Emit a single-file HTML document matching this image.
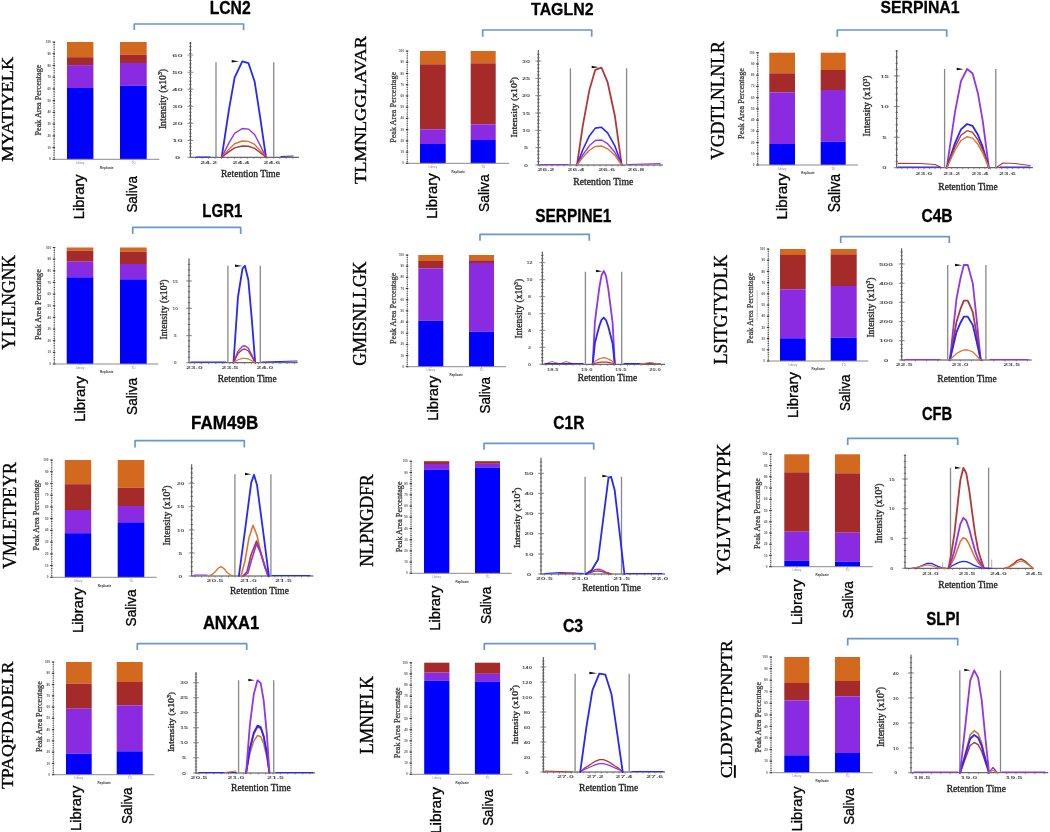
<!DOCTYPE html>
<html><head><meta charset="utf-8"><style>
html,body{margin:0;padding:0;background:#fff;}
svg{display:block;filter:blur(0.35px);}
</style></head><body>
<svg width="1050" height="832" viewBox="0 0 1050 832">
<rect width="1050" height="832" fill="#fff"/>
<text transform="translate(12.8,161.81) rotate(-90)" font-family="'Liberation Serif', serif" font-size="17.33" font-weight="normal" fill="#000" textLength="105.09" lengthAdjust="spacingAndGlyphs"  stroke="#000" stroke-width="0.35">MYATIYELK</text>
<rect x="67" y="42" width="26.4" height="15.2" fill="#D2691E"/>
<rect x="67" y="57.2" width="26.4" height="7.9" fill="#A52A2A"/>
<rect x="67" y="65.1" width="26.4" height="22.9" fill="#8A2BE2"/>
<rect x="67" y="88" width="26.4" height="71.3" fill="#0000FF"/>
<rect x="120" y="42" width="26.7" height="12.8" fill="#D2691E"/>
<rect x="120" y="54.8" width="26.7" height="8.2" fill="#A52A2A"/>
<rect x="120" y="63" width="26.7" height="22.6" fill="#8A2BE2"/>
<rect x="120" y="85.6" width="26.7" height="73.7" fill="#0000FF"/>
<line x1="54.1" y1="42" x2="54.1" y2="159.3" stroke="#999" stroke-width="0.7" />
<line x1="54.1" y1="159.3" x2="159.3" y2="159.3" stroke="#8a8a8a" stroke-width="1" />
<line x1="54.1" y1="42" x2="54.1" y2="159.3" stroke="#444" stroke-width="1.3" stroke-dasharray="0.8 1.55"/>
<line x1="52.6" y1="159.3" x2="55.1" y2="159.3" stroke="#333" stroke-width="1.1" />
<text x="49.1" y="160.4" font-family="'Liberation Sans', sans-serif" font-size="3" font-weight="bold" fill="#555" text-anchor="start"  textLength="1.7" lengthAdjust="spacingAndGlyphs">0</text>
<line x1="52.6" y1="147.57" x2="55.1" y2="147.57" stroke="#333" stroke-width="1.1" />
<text x="47.4" y="148.67" font-family="'Liberation Sans', sans-serif" font-size="3" font-weight="bold" fill="#555" text-anchor="start"  textLength="3.4" lengthAdjust="spacingAndGlyphs">10</text>
<line x1="52.6" y1="135.84" x2="55.1" y2="135.84" stroke="#333" stroke-width="1.1" />
<text x="47.4" y="136.94" font-family="'Liberation Sans', sans-serif" font-size="3" font-weight="bold" fill="#555" text-anchor="start"  textLength="3.4" lengthAdjust="spacingAndGlyphs">20</text>
<line x1="52.6" y1="124.11" x2="55.1" y2="124.11" stroke="#333" stroke-width="1.1" />
<text x="47.4" y="125.21" font-family="'Liberation Sans', sans-serif" font-size="3" font-weight="bold" fill="#555" text-anchor="start"  textLength="3.4" lengthAdjust="spacingAndGlyphs">30</text>
<line x1="52.6" y1="112.38" x2="55.1" y2="112.38" stroke="#333" stroke-width="1.1" />
<text x="47.4" y="113.48" font-family="'Liberation Sans', sans-serif" font-size="3" font-weight="bold" fill="#555" text-anchor="start"  textLength="3.4" lengthAdjust="spacingAndGlyphs">40</text>
<line x1="52.6" y1="100.65" x2="55.1" y2="100.65" stroke="#333" stroke-width="1.1" />
<text x="47.4" y="101.75" font-family="'Liberation Sans', sans-serif" font-size="3" font-weight="bold" fill="#555" text-anchor="start"  textLength="3.4" lengthAdjust="spacingAndGlyphs">50</text>
<line x1="52.6" y1="88.92" x2="55.1" y2="88.92" stroke="#333" stroke-width="1.1" />
<text x="47.4" y="90.02" font-family="'Liberation Sans', sans-serif" font-size="3" font-weight="bold" fill="#555" text-anchor="start"  textLength="3.4" lengthAdjust="spacingAndGlyphs">60</text>
<line x1="52.6" y1="77.19" x2="55.1" y2="77.19" stroke="#333" stroke-width="1.1" />
<text x="47.4" y="78.29" font-family="'Liberation Sans', sans-serif" font-size="3" font-weight="bold" fill="#555" text-anchor="start"  textLength="3.4" lengthAdjust="spacingAndGlyphs">70</text>
<line x1="52.6" y1="65.46" x2="55.1" y2="65.46" stroke="#333" stroke-width="1.1" />
<text x="47.4" y="66.56" font-family="'Liberation Sans', sans-serif" font-size="3" font-weight="bold" fill="#555" text-anchor="start"  textLength="3.4" lengthAdjust="spacingAndGlyphs">80</text>
<line x1="52.6" y1="53.73" x2="55.1" y2="53.73" stroke="#333" stroke-width="1.1" />
<text x="47.4" y="54.83" font-family="'Liberation Sans', sans-serif" font-size="3" font-weight="bold" fill="#555" text-anchor="start"  textLength="3.4" lengthAdjust="spacingAndGlyphs">90</text>
<line x1="52.6" y1="42" x2="55.1" y2="42" stroke="#333" stroke-width="1.1" />
<text x="45.7" y="43.1" font-family="'Liberation Sans', sans-serif" font-size="3" font-weight="bold" fill="#555" text-anchor="start"  textLength="5.1" lengthAdjust="spacingAndGlyphs">100</text>
<text x="75.9" y="163.9" font-family="'Liberation Sans', sans-serif" font-size="3" font-weight="normal" fill="#888" text-anchor="start"  textLength="8.6" lengthAdjust="spacingAndGlyphs">Library</text>
<text x="131.35" y="163.9" font-family="'Liberation Sans', sans-serif" font-size="3" font-weight="normal" fill="#888" text-anchor="start"  textLength="4" lengthAdjust="spacingAndGlyphs">T0</text>
<text x="100.1" y="168.6" font-family="'Liberation Sans', sans-serif" font-size="3.3" font-weight="bold" fill="#333" text-anchor="start"  textLength="13.3" lengthAdjust="spacingAndGlyphs">Replicate</text>
<line x1="80.2" y1="159.3" x2="80.2" y2="160.5" stroke="#888" stroke-width="0.6" />
<line x1="133.35" y1="159.3" x2="133.35" y2="160.5" stroke="#888" stroke-width="0.6" />
<text transform="translate(40.6,135.5) rotate(-90)" font-family="'Liberation Serif', serif" font-size="7.67" font-weight="normal" fill="#333" textLength="70.9" lengthAdjust="spacingAndGlyphs"  stroke="#333" stroke-width="0.25">Peak Area Percentage</text>
<text transform="translate(84.4,219.2) rotate(-90)" font-family="'Liberation Sans', sans-serif" font-size="14.26" font-weight="normal" fill="#000" textLength="44.83" lengthAdjust="spacingAndGlyphs"  stroke="#000" stroke-width="0.3">Library</text>
<text transform="translate(137,212.61) rotate(-90)" font-family="'Liberation Sans', sans-serif" font-size="15.17" font-weight="normal" fill="#000" textLength="36.61" lengthAdjust="spacingAndGlyphs"  stroke="#000" stroke-width="0.3">Saliva</text>
<line x1="190.4" y1="42" x2="190.4" y2="157.3" stroke="#444" stroke-width="1" />
<line x1="190.4" y1="157.3" x2="299" y2="157.3" stroke="#444" stroke-width="1" />
<line x1="189.2" y1="157.3" x2="191.6" y2="157.3" stroke="#555" stroke-width="0.8" />
<line x1="189.2" y1="153.84" x2="191.6" y2="153.84" stroke="#555" stroke-width="0.8" />
<line x1="189.2" y1="150.38" x2="191.6" y2="150.38" stroke="#555" stroke-width="0.8" />
<line x1="189.2" y1="146.92" x2="191.6" y2="146.92" stroke="#555" stroke-width="0.8" />
<line x1="189.2" y1="143.46" x2="191.6" y2="143.46" stroke="#555" stroke-width="0.8" />
<line x1="189.2" y1="140" x2="191.6" y2="140" stroke="#555" stroke-width="0.8" />
<line x1="189.2" y1="136.54" x2="191.6" y2="136.54" stroke="#555" stroke-width="0.8" />
<line x1="189.2" y1="133.08" x2="191.6" y2="133.08" stroke="#555" stroke-width="0.8" />
<line x1="189.2" y1="129.62" x2="191.6" y2="129.62" stroke="#555" stroke-width="0.8" />
<line x1="189.2" y1="126.16" x2="191.6" y2="126.16" stroke="#555" stroke-width="0.8" />
<line x1="189.2" y1="122.7" x2="191.6" y2="122.7" stroke="#555" stroke-width="0.8" />
<line x1="189.2" y1="119.24" x2="191.6" y2="119.24" stroke="#555" stroke-width="0.8" />
<line x1="189.2" y1="115.78" x2="191.6" y2="115.78" stroke="#555" stroke-width="0.8" />
<line x1="189.2" y1="112.32" x2="191.6" y2="112.32" stroke="#555" stroke-width="0.8" />
<line x1="189.2" y1="108.86" x2="191.6" y2="108.86" stroke="#555" stroke-width="0.8" />
<line x1="189.2" y1="105.4" x2="191.6" y2="105.4" stroke="#555" stroke-width="0.8" />
<line x1="189.2" y1="101.94" x2="191.6" y2="101.94" stroke="#555" stroke-width="0.8" />
<line x1="189.2" y1="98.48" x2="191.6" y2="98.48" stroke="#555" stroke-width="0.8" />
<line x1="189.2" y1="95.02" x2="191.6" y2="95.02" stroke="#555" stroke-width="0.8" />
<line x1="189.2" y1="91.56" x2="191.6" y2="91.56" stroke="#555" stroke-width="0.8" />
<line x1="189.2" y1="88.1" x2="191.6" y2="88.1" stroke="#555" stroke-width="0.8" />
<line x1="189.2" y1="84.64" x2="191.6" y2="84.64" stroke="#555" stroke-width="0.8" />
<line x1="189.2" y1="81.18" x2="191.6" y2="81.18" stroke="#555" stroke-width="0.8" />
<line x1="189.2" y1="77.72" x2="191.6" y2="77.72" stroke="#555" stroke-width="0.8" />
<line x1="189.2" y1="74.26" x2="191.6" y2="74.26" stroke="#555" stroke-width="0.8" />
<line x1="189.2" y1="70.8" x2="191.6" y2="70.8" stroke="#555" stroke-width="0.8" />
<line x1="189.2" y1="67.34" x2="191.6" y2="67.34" stroke="#555" stroke-width="0.8" />
<line x1="189.2" y1="63.88" x2="191.6" y2="63.88" stroke="#555" stroke-width="0.8" />
<line x1="189.2" y1="60.42" x2="191.6" y2="60.42" stroke="#555" stroke-width="0.8" />
<line x1="189.2" y1="56.96" x2="191.6" y2="56.96" stroke="#555" stroke-width="0.8" />
<line x1="189.2" y1="53.5" x2="191.6" y2="53.5" stroke="#555" stroke-width="0.8" />
<line x1="189.2" y1="50.04" x2="191.6" y2="50.04" stroke="#555" stroke-width="0.8" />
<line x1="189.2" y1="46.58" x2="191.6" y2="46.58" stroke="#555" stroke-width="0.8" />
<line x1="189.2" y1="43.12" x2="191.6" y2="43.12" stroke="#555" stroke-width="0.8" />
<line x1="187.4" y1="55" x2="193.4" y2="55" stroke="#777" stroke-width="0.8" />
<text x="172.3" y="56.5" font-family="'Liberation Sans', sans-serif" font-size="4.4" font-weight="bold" fill="#555" text-anchor="start"  textLength="10.4" lengthAdjust="spacingAndGlyphs">60</text>
<line x1="187.4" y1="72.3" x2="193.4" y2="72.3" stroke="#777" stroke-width="0.8" />
<text x="172.3" y="73.8" font-family="'Liberation Sans', sans-serif" font-size="4.4" font-weight="bold" fill="#555" text-anchor="start"  textLength="10.4" lengthAdjust="spacingAndGlyphs">50</text>
<line x1="187.4" y1="89.2" x2="193.4" y2="89.2" stroke="#777" stroke-width="0.8" />
<text x="172.3" y="90.7" font-family="'Liberation Sans', sans-serif" font-size="4.4" font-weight="bold" fill="#555" text-anchor="start"  textLength="10.4" lengthAdjust="spacingAndGlyphs">40</text>
<line x1="187.4" y1="106.3" x2="193.4" y2="106.3" stroke="#777" stroke-width="0.8" />
<text x="172.3" y="107.8" font-family="'Liberation Sans', sans-serif" font-size="4.4" font-weight="bold" fill="#555" text-anchor="start"  textLength="10.4" lengthAdjust="spacingAndGlyphs">30</text>
<line x1="187.4" y1="123.3" x2="193.4" y2="123.3" stroke="#777" stroke-width="0.8" />
<text x="172.3" y="124.8" font-family="'Liberation Sans', sans-serif" font-size="4.4" font-weight="bold" fill="#555" text-anchor="start"  textLength="10.4" lengthAdjust="spacingAndGlyphs">20</text>
<line x1="187.4" y1="140.4" x2="193.4" y2="140.4" stroke="#777" stroke-width="0.8" />
<text x="172.3" y="141.9" font-family="'Liberation Sans', sans-serif" font-size="4.4" font-weight="bold" fill="#555" text-anchor="start"  textLength="10.4" lengthAdjust="spacingAndGlyphs">10</text>
<line x1="187.4" y1="157.3" x2="193.4" y2="157.3" stroke="#777" stroke-width="0.8" />
<text x="174.9" y="158.8" font-family="'Liberation Sans', sans-serif" font-size="4.4" font-weight="bold" fill="#555" text-anchor="start"  textLength="5.2" lengthAdjust="spacingAndGlyphs">0</text>
<line x1="195.64" y1="157.3" x2="195.64" y2="158.8" stroke="#666" stroke-width="0.7" />
<line x1="202.12" y1="157.3" x2="202.12" y2="158.8" stroke="#666" stroke-width="0.7" />
<line x1="208.6" y1="157.3" x2="208.6" y2="158.8" stroke="#666" stroke-width="0.7" />
<line x1="215.08" y1="157.3" x2="215.08" y2="158.8" stroke="#666" stroke-width="0.7" />
<line x1="221.56" y1="157.3" x2="221.56" y2="158.8" stroke="#666" stroke-width="0.7" />
<line x1="228.04" y1="157.3" x2="228.04" y2="158.8" stroke="#666" stroke-width="0.7" />
<line x1="234.52" y1="157.3" x2="234.52" y2="158.8" stroke="#666" stroke-width="0.7" />
<line x1="241" y1="157.3" x2="241" y2="158.8" stroke="#666" stroke-width="0.7" />
<line x1="247.48" y1="157.3" x2="247.48" y2="158.8" stroke="#666" stroke-width="0.7" />
<line x1="253.96" y1="157.3" x2="253.96" y2="158.8" stroke="#666" stroke-width="0.7" />
<line x1="260.44" y1="157.3" x2="260.44" y2="158.8" stroke="#666" stroke-width="0.7" />
<line x1="266.92" y1="157.3" x2="266.92" y2="158.8" stroke="#666" stroke-width="0.7" />
<line x1="273.4" y1="157.3" x2="273.4" y2="158.8" stroke="#666" stroke-width="0.7" />
<line x1="279.88" y1="157.3" x2="279.88" y2="158.8" stroke="#666" stroke-width="0.7" />
<line x1="286.36" y1="157.3" x2="286.36" y2="158.8" stroke="#666" stroke-width="0.7" />
<line x1="292.84" y1="157.3" x2="292.84" y2="158.8" stroke="#666" stroke-width="0.7" />
<text x="200.2" y="163.6" font-family="'Liberation Sans', sans-serif" font-size="3.8" font-weight="bold" fill="#555" text-anchor="start"  textLength="16.8" lengthAdjust="spacingAndGlyphs">24.2</text>
<text x="232.6" y="163.6" font-family="'Liberation Sans', sans-serif" font-size="3.8" font-weight="bold" fill="#555" text-anchor="start"  textLength="16.8" lengthAdjust="spacingAndGlyphs">24.4</text>
<text x="263.6" y="163.6" font-family="'Liberation Sans', sans-serif" font-size="3.8" font-weight="bold" fill="#555" text-anchor="start"  textLength="16.8" lengthAdjust="spacingAndGlyphs">24.6</text>
<line x1="216" y1="62.3" x2="216" y2="157.3" stroke="#888" stroke-width="1.3" />
<line x1="273.7" y1="62.3" x2="273.7" y2="157.3" stroke="#888" stroke-width="1.3" />
<polyline points="196,157 210,157" fill="none" stroke="#2626FF" stroke-width="1.2" stroke-linejoin="round" stroke-linecap="round" />
<polyline points="281,156.5 293,156" fill="none" stroke="#2626FF" stroke-width="1.2" stroke-linejoin="round" stroke-linecap="round" />
<polyline points="221.7,157.3 229,109.3 234.6,77.62 242.3,61.3 248.5,63.22 254.6,81.46 260,116.02 266,157.3" fill="none" stroke="#2626FF" stroke-width="1.8" stroke-linejoin="round" stroke-linecap="round" />
<polyline points="221.7,157.3 229,142.9 234.6,133.4 242.3,128.5 248.5,129.08 254.6,134.55 260,144.92 266,157.3" fill="none" stroke="#9036E6" stroke-width="1.4" stroke-linejoin="round" stroke-linecap="round" />
<polyline points="221.7,157.3 229,149.15 234.6,143.77 242.3,141 248.5,141.33 254.6,144.42 260,150.29 266,157.3" fill="none" stroke="#DB7532" stroke-width="1.4" stroke-linejoin="round" stroke-linecap="round" />
<polyline points="221.7,157.3 229,151.65 234.6,147.92 242.3,146 248.5,146.23 254.6,148.37 260,152.44 266,157.3" fill="none" stroke="#B23838" stroke-width="1.4" stroke-linejoin="round" stroke-linecap="round" />
<path d="M231.7,60 L239,61.5 L231.7,62.6 Z" fill="#111"/>
<text transform="translate(165.9,129.1) rotate(-90)" font-family="'Liberation Serif', serif" font-size="10.07" fill="#222" stroke="#222" stroke-width="0.3" textLength="60.2" lengthAdjust="spacingAndGlyphs">Intensity (x10<tspan font-size="6.04" dy="-3.83">3</tspan><tspan dy="3.83">)</tspan></text>
<text x="221" y="177.12" font-family="'Liberation Serif', serif" font-size="9.44" font-weight="normal" fill="#222" text-anchor="start"  stroke="#222" stroke-width="0.3" textLength="59" lengthAdjust="spacingAndGlyphs">Retention Time</text>
<path d="M134.3,30 L134.3,24 L243.6,24 L243.6,30" fill="none" stroke="#6598D0" stroke-width="1.7" stroke-linejoin="round"/>
<text x="209.65" y="14.3" font-family="'Liberation Sans', sans-serif" font-size="17.88" font-weight="bold" fill="#000" text-anchor="start"  stroke="#000" stroke-width="0.3" textLength="40.98" lengthAdjust="spacingAndGlyphs">LCN2</text>
<text transform="translate(366,184.02) rotate(-90)" font-family="'Liberation Serif', serif" font-size="17.62" font-weight="normal" fill="#000" textLength="147.95" lengthAdjust="spacingAndGlyphs"  stroke="#000" stroke-width="0.35">TLMNLGGLAVAR</text>
<rect x="420" y="51" width="25.7" height="13.3" fill="#D2691E"/>
<rect x="420" y="64.3" width="25.7" height="65" fill="#A52A2A"/>
<rect x="420" y="129.3" width="25.7" height="14.7" fill="#8A2BE2"/>
<rect x="420" y="144" width="25.7" height="19.3" fill="#0000FF"/>
<rect x="470.7" y="51" width="25" height="12.3" fill="#D2691E"/>
<rect x="470.7" y="63.3" width="25" height="61" fill="#A52A2A"/>
<rect x="470.7" y="124.3" width="25" height="15.7" fill="#8A2BE2"/>
<rect x="470.7" y="140" width="25" height="23.3" fill="#0000FF"/>
<line x1="407.3" y1="51" x2="407.3" y2="163.3" stroke="#999" stroke-width="0.7" />
<line x1="407.3" y1="163.3" x2="509" y2="163.3" stroke="#8a8a8a" stroke-width="1" />
<line x1="407.3" y1="51" x2="407.3" y2="163.3" stroke="#444" stroke-width="1.3" stroke-dasharray="0.8 1.45"/>
<line x1="405.8" y1="163.3" x2="408.3" y2="163.3" stroke="#333" stroke-width="1.1" />
<text x="402.3" y="164.4" font-family="'Liberation Sans', sans-serif" font-size="3" font-weight="bold" fill="#555" text-anchor="start"  textLength="1.7" lengthAdjust="spacingAndGlyphs">0</text>
<line x1="405.8" y1="152.07" x2="408.3" y2="152.07" stroke="#333" stroke-width="1.1" />
<text x="400.6" y="153.17" font-family="'Liberation Sans', sans-serif" font-size="3" font-weight="bold" fill="#555" text-anchor="start"  textLength="3.4" lengthAdjust="spacingAndGlyphs">10</text>
<line x1="405.8" y1="140.84" x2="408.3" y2="140.84" stroke="#333" stroke-width="1.1" />
<text x="400.6" y="141.94" font-family="'Liberation Sans', sans-serif" font-size="3" font-weight="bold" fill="#555" text-anchor="start"  textLength="3.4" lengthAdjust="spacingAndGlyphs">20</text>
<line x1="405.8" y1="129.61" x2="408.3" y2="129.61" stroke="#333" stroke-width="1.1" />
<text x="400.6" y="130.71" font-family="'Liberation Sans', sans-serif" font-size="3" font-weight="bold" fill="#555" text-anchor="start"  textLength="3.4" lengthAdjust="spacingAndGlyphs">30</text>
<line x1="405.8" y1="118.38" x2="408.3" y2="118.38" stroke="#333" stroke-width="1.1" />
<text x="400.6" y="119.48" font-family="'Liberation Sans', sans-serif" font-size="3" font-weight="bold" fill="#555" text-anchor="start"  textLength="3.4" lengthAdjust="spacingAndGlyphs">40</text>
<line x1="405.8" y1="107.15" x2="408.3" y2="107.15" stroke="#333" stroke-width="1.1" />
<text x="400.6" y="108.25" font-family="'Liberation Sans', sans-serif" font-size="3" font-weight="bold" fill="#555" text-anchor="start"  textLength="3.4" lengthAdjust="spacingAndGlyphs">50</text>
<line x1="405.8" y1="95.92" x2="408.3" y2="95.92" stroke="#333" stroke-width="1.1" />
<text x="400.6" y="97.02" font-family="'Liberation Sans', sans-serif" font-size="3" font-weight="bold" fill="#555" text-anchor="start"  textLength="3.4" lengthAdjust="spacingAndGlyphs">60</text>
<line x1="405.8" y1="84.69" x2="408.3" y2="84.69" stroke="#333" stroke-width="1.1" />
<text x="400.6" y="85.79" font-family="'Liberation Sans', sans-serif" font-size="3" font-weight="bold" fill="#555" text-anchor="start"  textLength="3.4" lengthAdjust="spacingAndGlyphs">70</text>
<line x1="405.8" y1="73.46" x2="408.3" y2="73.46" stroke="#333" stroke-width="1.1" />
<text x="400.6" y="74.56" font-family="'Liberation Sans', sans-serif" font-size="3" font-weight="bold" fill="#555" text-anchor="start"  textLength="3.4" lengthAdjust="spacingAndGlyphs">80</text>
<line x1="405.8" y1="62.23" x2="408.3" y2="62.23" stroke="#333" stroke-width="1.1" />
<text x="400.6" y="63.33" font-family="'Liberation Sans', sans-serif" font-size="3" font-weight="bold" fill="#555" text-anchor="start"  textLength="3.4" lengthAdjust="spacingAndGlyphs">90</text>
<line x1="405.8" y1="51" x2="408.3" y2="51" stroke="#333" stroke-width="1.1" />
<text x="398.9" y="52.1" font-family="'Liberation Sans', sans-serif" font-size="3" font-weight="bold" fill="#555" text-anchor="start"  textLength="5.1" lengthAdjust="spacingAndGlyphs">100</text>
<text x="428.55" y="167.9" font-family="'Liberation Sans', sans-serif" font-size="3" font-weight="normal" fill="#888" text-anchor="start"  textLength="8.6" lengthAdjust="spacingAndGlyphs">Library</text>
<text x="481.2" y="167.9" font-family="'Liberation Sans', sans-serif" font-size="3" font-weight="normal" fill="#888" text-anchor="start"  textLength="4" lengthAdjust="spacingAndGlyphs">T0</text>
<text x="451.6" y="172.6" font-family="'Liberation Sans', sans-serif" font-size="3.3" font-weight="bold" fill="#333" text-anchor="start"  textLength="13.3" lengthAdjust="spacingAndGlyphs">Replicate</text>
<line x1="432.85" y1="163.3" x2="432.85" y2="164.5" stroke="#888" stroke-width="0.6" />
<line x1="483.2" y1="163.3" x2="483.2" y2="164.5" stroke="#888" stroke-width="0.6" />
<text transform="translate(395.6,142.8) rotate(-90)" font-family="'Liberation Serif', serif" font-size="8.66" font-weight="normal" fill="#333" textLength="70.9" lengthAdjust="spacingAndGlyphs"  stroke="#333" stroke-width="0.25">Peak Area Percentage</text>
<text transform="translate(437.4,218.82) rotate(-90)" font-family="'Liberation Sans', sans-serif" font-size="14.65" font-weight="normal" fill="#000" textLength="45.55" lengthAdjust="spacingAndGlyphs"  stroke="#000" stroke-width="0.3">Library</text>
<text transform="translate(489.2,212.03) rotate(-90)" font-family="'Liberation Sans', sans-serif" font-size="14.91" font-weight="normal" fill="#000" textLength="37.73" lengthAdjust="spacingAndGlyphs"  stroke="#000" stroke-width="0.3">Saliva</text>
<line x1="538.3" y1="50" x2="538.3" y2="165" stroke="#444" stroke-width="1" />
<line x1="538.3" y1="165" x2="663" y2="165" stroke="#444" stroke-width="1" />
<line x1="537.1" y1="165" x2="539.5" y2="165" stroke="#555" stroke-width="0.8" />
<line x1="537.1" y1="161.54" x2="539.5" y2="161.54" stroke="#555" stroke-width="0.8" />
<line x1="537.1" y1="158.08" x2="539.5" y2="158.08" stroke="#555" stroke-width="0.8" />
<line x1="537.1" y1="154.62" x2="539.5" y2="154.62" stroke="#555" stroke-width="0.8" />
<line x1="537.1" y1="151.16" x2="539.5" y2="151.16" stroke="#555" stroke-width="0.8" />
<line x1="537.1" y1="147.7" x2="539.5" y2="147.7" stroke="#555" stroke-width="0.8" />
<line x1="537.1" y1="144.24" x2="539.5" y2="144.24" stroke="#555" stroke-width="0.8" />
<line x1="537.1" y1="140.78" x2="539.5" y2="140.78" stroke="#555" stroke-width="0.8" />
<line x1="537.1" y1="137.32" x2="539.5" y2="137.32" stroke="#555" stroke-width="0.8" />
<line x1="537.1" y1="133.86" x2="539.5" y2="133.86" stroke="#555" stroke-width="0.8" />
<line x1="537.1" y1="130.4" x2="539.5" y2="130.4" stroke="#555" stroke-width="0.8" />
<line x1="537.1" y1="126.94" x2="539.5" y2="126.94" stroke="#555" stroke-width="0.8" />
<line x1="537.1" y1="123.48" x2="539.5" y2="123.48" stroke="#555" stroke-width="0.8" />
<line x1="537.1" y1="120.02" x2="539.5" y2="120.02" stroke="#555" stroke-width="0.8" />
<line x1="537.1" y1="116.56" x2="539.5" y2="116.56" stroke="#555" stroke-width="0.8" />
<line x1="537.1" y1="113.1" x2="539.5" y2="113.1" stroke="#555" stroke-width="0.8" />
<line x1="537.1" y1="109.64" x2="539.5" y2="109.64" stroke="#555" stroke-width="0.8" />
<line x1="537.1" y1="106.18" x2="539.5" y2="106.18" stroke="#555" stroke-width="0.8" />
<line x1="537.1" y1="102.72" x2="539.5" y2="102.72" stroke="#555" stroke-width="0.8" />
<line x1="537.1" y1="99.26" x2="539.5" y2="99.26" stroke="#555" stroke-width="0.8" />
<line x1="537.1" y1="95.8" x2="539.5" y2="95.8" stroke="#555" stroke-width="0.8" />
<line x1="537.1" y1="92.34" x2="539.5" y2="92.34" stroke="#555" stroke-width="0.8" />
<line x1="537.1" y1="88.88" x2="539.5" y2="88.88" stroke="#555" stroke-width="0.8" />
<line x1="537.1" y1="85.42" x2="539.5" y2="85.42" stroke="#555" stroke-width="0.8" />
<line x1="537.1" y1="81.96" x2="539.5" y2="81.96" stroke="#555" stroke-width="0.8" />
<line x1="537.1" y1="78.5" x2="539.5" y2="78.5" stroke="#555" stroke-width="0.8" />
<line x1="537.1" y1="75.04" x2="539.5" y2="75.04" stroke="#555" stroke-width="0.8" />
<line x1="537.1" y1="71.58" x2="539.5" y2="71.58" stroke="#555" stroke-width="0.8" />
<line x1="537.1" y1="68.12" x2="539.5" y2="68.12" stroke="#555" stroke-width="0.8" />
<line x1="537.1" y1="64.66" x2="539.5" y2="64.66" stroke="#555" stroke-width="0.8" />
<line x1="537.1" y1="61.2" x2="539.5" y2="61.2" stroke="#555" stroke-width="0.8" />
<line x1="537.1" y1="57.74" x2="539.5" y2="57.74" stroke="#555" stroke-width="0.8" />
<line x1="537.1" y1="54.28" x2="539.5" y2="54.28" stroke="#555" stroke-width="0.8" />
<line x1="535.3" y1="61" x2="541.3" y2="61" stroke="#777" stroke-width="0.8" />
<text x="522.1" y="62.5" font-family="'Liberation Sans', sans-serif" font-size="4.4" font-weight="bold" fill="#555" text-anchor="start"  textLength="8" lengthAdjust="spacingAndGlyphs">30</text>
<line x1="535.3" y1="78.3" x2="541.3" y2="78.3" stroke="#777" stroke-width="0.8" />
<text x="522.1" y="79.8" font-family="'Liberation Sans', sans-serif" font-size="4.4" font-weight="bold" fill="#555" text-anchor="start"  textLength="8" lengthAdjust="spacingAndGlyphs">25</text>
<line x1="535.3" y1="95.7" x2="541.3" y2="95.7" stroke="#777" stroke-width="0.8" />
<text x="522.1" y="97.2" font-family="'Liberation Sans', sans-serif" font-size="4.4" font-weight="bold" fill="#555" text-anchor="start"  textLength="8" lengthAdjust="spacingAndGlyphs">20</text>
<line x1="535.3" y1="113" x2="541.3" y2="113" stroke="#777" stroke-width="0.8" />
<text x="522.1" y="114.5" font-family="'Liberation Sans', sans-serif" font-size="4.4" font-weight="bold" fill="#555" text-anchor="start"  textLength="8" lengthAdjust="spacingAndGlyphs">15</text>
<line x1="535.3" y1="130.3" x2="541.3" y2="130.3" stroke="#777" stroke-width="0.8" />
<text x="522.1" y="131.8" font-family="'Liberation Sans', sans-serif" font-size="4.4" font-weight="bold" fill="#555" text-anchor="start"  textLength="8" lengthAdjust="spacingAndGlyphs">10</text>
<line x1="535.3" y1="147.7" x2="541.3" y2="147.7" stroke="#777" stroke-width="0.8" />
<text x="524.1" y="149.2" font-family="'Liberation Sans', sans-serif" font-size="4.4" font-weight="bold" fill="#555" text-anchor="start"  textLength="4" lengthAdjust="spacingAndGlyphs">5</text>
<line x1="535.3" y1="165" x2="541.3" y2="165" stroke="#777" stroke-width="0.8" />
<text x="524.1" y="166.5" font-family="'Liberation Sans', sans-serif" font-size="4.4" font-weight="bold" fill="#555" text-anchor="start"  textLength="4" lengthAdjust="spacingAndGlyphs">0</text>
<line x1="540" y1="165" x2="540" y2="166.5" stroke="#666" stroke-width="0.7" />
<line x1="546" y1="165" x2="546" y2="166.5" stroke="#666" stroke-width="0.7" />
<line x1="552" y1="165" x2="552" y2="166.5" stroke="#666" stroke-width="0.7" />
<line x1="558" y1="165" x2="558" y2="166.5" stroke="#666" stroke-width="0.7" />
<line x1="564" y1="165" x2="564" y2="166.5" stroke="#666" stroke-width="0.7" />
<line x1="570" y1="165" x2="570" y2="166.5" stroke="#666" stroke-width="0.7" />
<line x1="576" y1="165" x2="576" y2="166.5" stroke="#666" stroke-width="0.7" />
<line x1="582" y1="165" x2="582" y2="166.5" stroke="#666" stroke-width="0.7" />
<line x1="588" y1="165" x2="588" y2="166.5" stroke="#666" stroke-width="0.7" />
<line x1="594" y1="165" x2="594" y2="166.5" stroke="#666" stroke-width="0.7" />
<line x1="600" y1="165" x2="600" y2="166.5" stroke="#666" stroke-width="0.7" />
<line x1="606" y1="165" x2="606" y2="166.5" stroke="#666" stroke-width="0.7" />
<line x1="612" y1="165" x2="612" y2="166.5" stroke="#666" stroke-width="0.7" />
<line x1="618" y1="165" x2="618" y2="166.5" stroke="#666" stroke-width="0.7" />
<line x1="624" y1="165" x2="624" y2="166.5" stroke="#666" stroke-width="0.7" />
<line x1="630" y1="165" x2="630" y2="166.5" stroke="#666" stroke-width="0.7" />
<line x1="636" y1="165" x2="636" y2="166.5" stroke="#666" stroke-width="0.7" />
<line x1="642" y1="165" x2="642" y2="166.5" stroke="#666" stroke-width="0.7" />
<line x1="648" y1="165" x2="648" y2="166.5" stroke="#666" stroke-width="0.7" />
<line x1="654" y1="165" x2="654" y2="166.5" stroke="#666" stroke-width="0.7" />
<line x1="660" y1="165" x2="660" y2="166.5" stroke="#666" stroke-width="0.7" />
<text x="537.6" y="171" font-family="'Liberation Sans', sans-serif" font-size="3.8" font-weight="bold" fill="#555" text-anchor="start"  textLength="16.8" lengthAdjust="spacingAndGlyphs">26.2</text>
<text x="567.6" y="171" font-family="'Liberation Sans', sans-serif" font-size="3.8" font-weight="bold" fill="#555" text-anchor="start"  textLength="16.8" lengthAdjust="spacingAndGlyphs">26.4</text>
<text x="598.3" y="171" font-family="'Liberation Sans', sans-serif" font-size="3.8" font-weight="bold" fill="#555" text-anchor="start"  textLength="16.8" lengthAdjust="spacingAndGlyphs">26.6</text>
<text x="627.6" y="171" font-family="'Liberation Sans', sans-serif" font-size="3.8" font-weight="bold" fill="#555" text-anchor="start"  textLength="16.8" lengthAdjust="spacingAndGlyphs">26.8</text>
<line x1="570.4" y1="68.3" x2="570.4" y2="165" stroke="#888" stroke-width="1.3" />
<line x1="626.6" y1="68.3" x2="626.6" y2="165" stroke="#888" stroke-width="1.3" />
<polyline points="541,164.5 568,164.5" fill="none" stroke="#9036E6" stroke-width="1.2" stroke-linejoin="round" stroke-linecap="round" />
<polyline points="628,164.5 660,163.5" fill="none" stroke="#9036E6" stroke-width="1.2" stroke-linejoin="round" stroke-linecap="round" />
<polyline points="577,165 582.8,125.59 589.5,89.4 595.3,69.84 601.5,67.7 607.6,82.2 614.8,115.47 621.7,165" fill="none" stroke="#B23838" stroke-width="1.8" stroke-linejoin="round" stroke-linecap="round" />
<polyline points="577,165 582.8,149.73 589.5,135.71 595.3,128.13 601.5,127.3 607.6,132.92 614.8,145.81 621.7,165" fill="none" stroke="#2626FF" stroke-width="1.6" stroke-linejoin="round" stroke-linecap="round" />
<polyline points="577,165 582.8,154.88 589.5,145.57 595.3,140.55 601.5,140 607.6,143.72 614.8,152.28 621.7,165" fill="none" stroke="#9036E6" stroke-width="1.4" stroke-linejoin="round" stroke-linecap="round" />
<polyline points="577,165 582.8,157.31 589.5,150.24 595.3,146.42 601.5,146 607.6,148.83 614.8,155.33 621.7,165" fill="none" stroke="#DB7532" stroke-width="1.4" stroke-linejoin="round" stroke-linecap="round" />
<path d="M591.7,65.7 L598.8,67.2 L591.7,68.3 Z" fill="#111"/>
<text transform="translate(517.4,137.6) rotate(-90)" font-family="'Liberation Serif', serif" font-size="9.18" fill="#222" stroke="#222" stroke-width="0.3" textLength="60.6" lengthAdjust="spacingAndGlyphs">Intensity (x10<tspan font-size="5.51" dy="-3.49">3</tspan><tspan dy="3.49">)</tspan></text>
<text x="573.3" y="184.87" font-family="'Liberation Serif', serif" font-size="9.6" font-weight="normal" fill="#222" text-anchor="start"  stroke="#222" stroke-width="0.3" textLength="60" lengthAdjust="spacingAndGlyphs">Retention Time</text>
<path d="M482.7,36.7 L482.7,30 L591.7,30 L591.7,36.7" fill="none" stroke="#6598D0" stroke-width="1.7" stroke-linejoin="round"/>
<text x="531.12" y="14.9" font-family="'Liberation Sans', sans-serif" font-size="17.15" font-weight="bold" fill="#000" text-anchor="start"  stroke="#000" stroke-width="0.3" textLength="62.4" lengthAdjust="spacingAndGlyphs">TAGLN2</text>
<text transform="translate(724,159.7) rotate(-90)" font-family="'Liberation Serif', serif" font-size="17.77" font-weight="normal" fill="#000" textLength="118.52" lengthAdjust="spacingAndGlyphs"  stroke="#000" stroke-width="0.35">VGDTLNLNLR</text>
<rect x="769.3" y="52.7" width="25.7" height="20.6" fill="#D2691E"/>
<rect x="769.3" y="73.3" width="25.7" height="19" fill="#A52A2A"/>
<rect x="769.3" y="92.3" width="25.7" height="51.7" fill="#8A2BE2"/>
<rect x="769.3" y="144" width="25.7" height="21" fill="#0000FF"/>
<rect x="820.7" y="52.7" width="25" height="17.3" fill="#D2691E"/>
<rect x="820.7" y="70" width="25" height="20" fill="#A52A2A"/>
<rect x="820.7" y="90" width="25" height="51.7" fill="#8A2BE2"/>
<rect x="820.7" y="141.7" width="25" height="23.3" fill="#0000FF"/>
<line x1="757.7" y1="52.7" x2="757.7" y2="165" stroke="#999" stroke-width="0.7" />
<line x1="757.7" y1="165" x2="858" y2="165" stroke="#8a8a8a" stroke-width="1" />
<line x1="757.7" y1="52.7" x2="757.7" y2="165" stroke="#444" stroke-width="1.3" stroke-dasharray="0.8 1.45"/>
<line x1="756.2" y1="165" x2="758.7" y2="165" stroke="#333" stroke-width="1.1" />
<text x="752.7" y="166.1" font-family="'Liberation Sans', sans-serif" font-size="3" font-weight="bold" fill="#555" text-anchor="start"  textLength="1.7" lengthAdjust="spacingAndGlyphs">0</text>
<line x1="756.2" y1="153.77" x2="758.7" y2="153.77" stroke="#333" stroke-width="1.1" />
<text x="751" y="154.87" font-family="'Liberation Sans', sans-serif" font-size="3" font-weight="bold" fill="#555" text-anchor="start"  textLength="3.4" lengthAdjust="spacingAndGlyphs">10</text>
<line x1="756.2" y1="142.54" x2="758.7" y2="142.54" stroke="#333" stroke-width="1.1" />
<text x="751" y="143.64" font-family="'Liberation Sans', sans-serif" font-size="3" font-weight="bold" fill="#555" text-anchor="start"  textLength="3.4" lengthAdjust="spacingAndGlyphs">20</text>
<line x1="756.2" y1="131.31" x2="758.7" y2="131.31" stroke="#333" stroke-width="1.1" />
<text x="751" y="132.41" font-family="'Liberation Sans', sans-serif" font-size="3" font-weight="bold" fill="#555" text-anchor="start"  textLength="3.4" lengthAdjust="spacingAndGlyphs">30</text>
<line x1="756.2" y1="120.08" x2="758.7" y2="120.08" stroke="#333" stroke-width="1.1" />
<text x="751" y="121.18" font-family="'Liberation Sans', sans-serif" font-size="3" font-weight="bold" fill="#555" text-anchor="start"  textLength="3.4" lengthAdjust="spacingAndGlyphs">40</text>
<line x1="756.2" y1="108.85" x2="758.7" y2="108.85" stroke="#333" stroke-width="1.1" />
<text x="751" y="109.95" font-family="'Liberation Sans', sans-serif" font-size="3" font-weight="bold" fill="#555" text-anchor="start"  textLength="3.4" lengthAdjust="spacingAndGlyphs">50</text>
<line x1="756.2" y1="97.62" x2="758.7" y2="97.62" stroke="#333" stroke-width="1.1" />
<text x="751" y="98.72" font-family="'Liberation Sans', sans-serif" font-size="3" font-weight="bold" fill="#555" text-anchor="start"  textLength="3.4" lengthAdjust="spacingAndGlyphs">60</text>
<line x1="756.2" y1="86.39" x2="758.7" y2="86.39" stroke="#333" stroke-width="1.1" />
<text x="751" y="87.49" font-family="'Liberation Sans', sans-serif" font-size="3" font-weight="bold" fill="#555" text-anchor="start"  textLength="3.4" lengthAdjust="spacingAndGlyphs">70</text>
<line x1="756.2" y1="75.16" x2="758.7" y2="75.16" stroke="#333" stroke-width="1.1" />
<text x="751" y="76.26" font-family="'Liberation Sans', sans-serif" font-size="3" font-weight="bold" fill="#555" text-anchor="start"  textLength="3.4" lengthAdjust="spacingAndGlyphs">80</text>
<line x1="756.2" y1="63.93" x2="758.7" y2="63.93" stroke="#333" stroke-width="1.1" />
<text x="751" y="65.03" font-family="'Liberation Sans', sans-serif" font-size="3" font-weight="bold" fill="#555" text-anchor="start"  textLength="3.4" lengthAdjust="spacingAndGlyphs">90</text>
<line x1="756.2" y1="52.7" x2="758.7" y2="52.7" stroke="#333" stroke-width="1.1" />
<text x="749.3" y="53.8" font-family="'Liberation Sans', sans-serif" font-size="3" font-weight="bold" fill="#555" text-anchor="start"  textLength="5.1" lengthAdjust="spacingAndGlyphs">100</text>
<text x="777.85" y="169.6" font-family="'Liberation Sans', sans-serif" font-size="3" font-weight="normal" fill="#888" text-anchor="start"  textLength="8.6" lengthAdjust="spacingAndGlyphs">Library</text>
<text x="831.2" y="169.6" font-family="'Liberation Sans', sans-serif" font-size="3" font-weight="normal" fill="#888" text-anchor="start"  textLength="4" lengthAdjust="spacingAndGlyphs">T0</text>
<text x="801.25" y="174.3" font-family="'Liberation Sans', sans-serif" font-size="3.3" font-weight="bold" fill="#333" text-anchor="start"  textLength="13.3" lengthAdjust="spacingAndGlyphs">Replicate</text>
<line x1="782.15" y1="165" x2="782.15" y2="166.2" stroke="#888" stroke-width="0.6" />
<line x1="833.2" y1="165" x2="833.2" y2="166.2" stroke="#888" stroke-width="0.6" />
<text transform="translate(743.5,139) rotate(-90)" font-family="'Liberation Serif', serif" font-size="8.38" font-weight="normal" fill="#333" textLength="70.9" lengthAdjust="spacingAndGlyphs"  stroke="#333" stroke-width="0.25">Peak Area Percentage</text>
<text transform="translate(786.7,219.54) rotate(-90)" font-family="'Liberation Sans', sans-serif" font-size="14" font-weight="normal" fill="#000" textLength="46.27" lengthAdjust="spacingAndGlyphs"  stroke="#000" stroke-width="0.3">Library</text>
<text transform="translate(840,212.34) rotate(-90)" font-family="'Liberation Sans', sans-serif" font-size="16.09" font-weight="normal" fill="#000" textLength="38.34" lengthAdjust="spacingAndGlyphs"  stroke="#000" stroke-width="0.3">Saliva</text>
<line x1="896.7" y1="50" x2="896.7" y2="167.7" stroke="#444" stroke-width="1" />
<line x1="896.7" y1="167.7" x2="1033" y2="167.7" stroke="#444" stroke-width="1" />
<line x1="895.5" y1="167.7" x2="897.9" y2="167.7" stroke="#555" stroke-width="0.8" />
<line x1="895.5" y1="161.56" x2="897.9" y2="161.56" stroke="#555" stroke-width="0.8" />
<line x1="895.5" y1="155.42" x2="897.9" y2="155.42" stroke="#555" stroke-width="0.8" />
<line x1="895.5" y1="149.28" x2="897.9" y2="149.28" stroke="#555" stroke-width="0.8" />
<line x1="895.5" y1="143.14" x2="897.9" y2="143.14" stroke="#555" stroke-width="0.8" />
<line x1="895.5" y1="137" x2="897.9" y2="137" stroke="#555" stroke-width="0.8" />
<line x1="895.5" y1="130.86" x2="897.9" y2="130.86" stroke="#555" stroke-width="0.8" />
<line x1="895.5" y1="124.72" x2="897.9" y2="124.72" stroke="#555" stroke-width="0.8" />
<line x1="895.5" y1="118.58" x2="897.9" y2="118.58" stroke="#555" stroke-width="0.8" />
<line x1="895.5" y1="112.44" x2="897.9" y2="112.44" stroke="#555" stroke-width="0.8" />
<line x1="895.5" y1="106.3" x2="897.9" y2="106.3" stroke="#555" stroke-width="0.8" />
<line x1="895.5" y1="100.16" x2="897.9" y2="100.16" stroke="#555" stroke-width="0.8" />
<line x1="895.5" y1="94.02" x2="897.9" y2="94.02" stroke="#555" stroke-width="0.8" />
<line x1="895.5" y1="87.88" x2="897.9" y2="87.88" stroke="#555" stroke-width="0.8" />
<line x1="895.5" y1="81.74" x2="897.9" y2="81.74" stroke="#555" stroke-width="0.8" />
<line x1="895.5" y1="75.6" x2="897.9" y2="75.6" stroke="#555" stroke-width="0.8" />
<line x1="895.5" y1="69.46" x2="897.9" y2="69.46" stroke="#555" stroke-width="0.8" />
<line x1="895.5" y1="63.32" x2="897.9" y2="63.32" stroke="#555" stroke-width="0.8" />
<line x1="895.5" y1="57.18" x2="897.9" y2="57.18" stroke="#555" stroke-width="0.8" />
<line x1="895.5" y1="51.04" x2="897.9" y2="51.04" stroke="#555" stroke-width="0.8" />
<line x1="893.7" y1="76" x2="899.7" y2="76" stroke="#777" stroke-width="0.8" />
<text x="880.2" y="77.5" font-family="'Liberation Sans', sans-serif" font-size="4.4" font-weight="bold" fill="#555" text-anchor="start"  textLength="8.6" lengthAdjust="spacingAndGlyphs">15</text>
<line x1="893.7" y1="106.7" x2="899.7" y2="106.7" stroke="#777" stroke-width="0.8" />
<text x="880.2" y="108.2" font-family="'Liberation Sans', sans-serif" font-size="4.4" font-weight="bold" fill="#555" text-anchor="start"  textLength="8.6" lengthAdjust="spacingAndGlyphs">10</text>
<line x1="893.7" y1="137.3" x2="899.7" y2="137.3" stroke="#777" stroke-width="0.8" />
<text x="882.35" y="138.8" font-family="'Liberation Sans', sans-serif" font-size="4.4" font-weight="bold" fill="#555" text-anchor="start"  textLength="4.3" lengthAdjust="spacingAndGlyphs">5</text>
<line x1="893.7" y1="167.7" x2="899.7" y2="167.7" stroke="#777" stroke-width="0.8" />
<text x="882.35" y="169.2" font-family="'Liberation Sans', sans-serif" font-size="4.4" font-weight="bold" fill="#555" text-anchor="start"  textLength="4.3" lengthAdjust="spacingAndGlyphs">0</text>
<line x1="901.84" y1="167.7" x2="901.84" y2="169.2" stroke="#666" stroke-width="0.7" />
<line x1="907.38" y1="167.7" x2="907.38" y2="169.2" stroke="#666" stroke-width="0.7" />
<line x1="912.92" y1="167.7" x2="912.92" y2="169.2" stroke="#666" stroke-width="0.7" />
<line x1="918.46" y1="167.7" x2="918.46" y2="169.2" stroke="#666" stroke-width="0.7" />
<line x1="924" y1="167.7" x2="924" y2="169.2" stroke="#666" stroke-width="0.7" />
<line x1="929.54" y1="167.7" x2="929.54" y2="169.2" stroke="#666" stroke-width="0.7" />
<line x1="935.08" y1="167.7" x2="935.08" y2="169.2" stroke="#666" stroke-width="0.7" />
<line x1="940.62" y1="167.7" x2="940.62" y2="169.2" stroke="#666" stroke-width="0.7" />
<line x1="946.16" y1="167.7" x2="946.16" y2="169.2" stroke="#666" stroke-width="0.7" />
<line x1="951.7" y1="167.7" x2="951.7" y2="169.2" stroke="#666" stroke-width="0.7" />
<line x1="957.24" y1="167.7" x2="957.24" y2="169.2" stroke="#666" stroke-width="0.7" />
<line x1="962.78" y1="167.7" x2="962.78" y2="169.2" stroke="#666" stroke-width="0.7" />
<line x1="968.32" y1="167.7" x2="968.32" y2="169.2" stroke="#666" stroke-width="0.7" />
<line x1="973.86" y1="167.7" x2="973.86" y2="169.2" stroke="#666" stroke-width="0.7" />
<line x1="979.4" y1="167.7" x2="979.4" y2="169.2" stroke="#666" stroke-width="0.7" />
<line x1="984.94" y1="167.7" x2="984.94" y2="169.2" stroke="#666" stroke-width="0.7" />
<line x1="990.48" y1="167.7" x2="990.48" y2="169.2" stroke="#666" stroke-width="0.7" />
<line x1="996.02" y1="167.7" x2="996.02" y2="169.2" stroke="#666" stroke-width="0.7" />
<line x1="1001.56" y1="167.7" x2="1001.56" y2="169.2" stroke="#666" stroke-width="0.7" />
<line x1="1007.1" y1="167.7" x2="1007.1" y2="169.2" stroke="#666" stroke-width="0.7" />
<line x1="1012.64" y1="167.7" x2="1012.64" y2="169.2" stroke="#666" stroke-width="0.7" />
<line x1="1018.18" y1="167.7" x2="1018.18" y2="169.2" stroke="#666" stroke-width="0.7" />
<line x1="1023.72" y1="167.7" x2="1023.72" y2="169.2" stroke="#666" stroke-width="0.7" />
<line x1="1029.26" y1="167.7" x2="1029.26" y2="169.2" stroke="#666" stroke-width="0.7" />
<text x="915.6" y="175" font-family="'Liberation Sans', sans-serif" font-size="3.8" font-weight="bold" fill="#555" text-anchor="start"  textLength="16.8" lengthAdjust="spacingAndGlyphs">23.0</text>
<text x="943.3" y="175" font-family="'Liberation Sans', sans-serif" font-size="3.8" font-weight="bold" fill="#555" text-anchor="start"  textLength="16.8" lengthAdjust="spacingAndGlyphs">23.2</text>
<text x="971.6" y="175" font-family="'Liberation Sans', sans-serif" font-size="3.8" font-weight="bold" fill="#555" text-anchor="start"  textLength="16.8" lengthAdjust="spacingAndGlyphs">23.4</text>
<text x="998.9" y="175" font-family="'Liberation Sans', sans-serif" font-size="3.8" font-weight="bold" fill="#555" text-anchor="start"  textLength="16.8" lengthAdjust="spacingAndGlyphs">23.6</text>
<line x1="944.6" y1="69" x2="944.6" y2="167.7" stroke="#888" stroke-width="1.3" />
<line x1="995.8" y1="69" x2="995.8" y2="167.7" stroke="#888" stroke-width="1.3" />
<polyline points="898,163.3 920,163.5 935,164.5 941,167.5" fill="none" stroke="#B23838" stroke-width="1.2" stroke-linejoin="round" stroke-linecap="round" />
<polyline points="997,167 1003,163 1015,163.5 1030,165.5" fill="none" stroke="#B23838" stroke-width="1.2" stroke-linejoin="round" stroke-linecap="round" />
<polyline points="898,167 940,167" fill="none" stroke="#2626FF" stroke-width="1.2" stroke-linejoin="round" stroke-linecap="round" />
<polyline points="1000,167 1030,167" fill="none" stroke="#2626FF" stroke-width="1.2" stroke-linejoin="round" stroke-linecap="round" />
<polyline points="946.8,167.7 955,112.13 961,81.04 967.1,69 972.6,73.44 977.9,93.18 982.7,120.72 988.9,167.7" fill="none" stroke="#9036E6" stroke-width="1.8" stroke-linejoin="round" stroke-linecap="round" />
<polyline points="946.8,167.7 955,143.1 961,129.33 967.1,124 972.6,125.97 977.9,134.71 982.7,146.9 988.9,167.7" fill="none" stroke="#2626FF" stroke-width="1.8" stroke-linejoin="round" stroke-linecap="round" />
<polyline points="946.8,167.7 955,146.87 961,135.21 967.1,130.7 972.6,132.36 977.9,139.76 982.7,150.09 988.9,167.7" fill="none" stroke="#B23838" stroke-width="1.4" stroke-linejoin="round" stroke-linecap="round" />
<polyline points="946.8,167.7 955,150.25 961,140.48 967.1,136.7 972.6,138.09 977.9,144.29 982.7,152.94 988.9,167.7" fill="none" stroke="#DB7532" stroke-width="1.4" stroke-linejoin="round" stroke-linecap="round" />
<path d="M956.7,67.7 L963.8,69.2 L956.7,70.3 Z" fill="#111"/>
<text transform="translate(870.4,136.5) rotate(-90)" font-family="'Liberation Serif', serif" font-size="9.92" fill="#222" stroke="#222" stroke-width="0.3" textLength="61.1" lengthAdjust="spacingAndGlyphs">Intensity (x10<tspan font-size="5.95" dy="-3.77">3</tspan><tspan dy="3.77">)</tspan></text>
<text x="938.3" y="189.84" font-family="'Liberation Serif', serif" font-size="9.5" font-weight="normal" fill="#222" text-anchor="start"  stroke="#222" stroke-width="0.3" textLength="59.4" lengthAdjust="spacingAndGlyphs">Retention Time</text>
<path d="M837.3,36.7 L837.3,30 L946.7,30 L946.7,36.7" fill="none" stroke="#6598D0" stroke-width="1.7" stroke-linejoin="round"/>
<text x="880.55" y="13.4" font-family="'Liberation Sans', sans-serif" font-size="17.3" font-weight="bold" fill="#000" text-anchor="start"  stroke="#000" stroke-width="0.3" textLength="78.89" lengthAdjust="spacingAndGlyphs">SERPINA1</text>
<text transform="translate(15.2,349.7) rotate(-90)" font-family="'Liberation Serif', serif" font-size="17.92" font-weight="normal" fill="#000" textLength="94.78" lengthAdjust="spacingAndGlyphs"  stroke="#000" stroke-width="0.35">YLFLNGNK</text>
<rect x="66.7" y="247.5" width="26.6" height="3.2" fill="#D2691E"/>
<rect x="66.7" y="250.7" width="26.6" height="11" fill="#A52A2A"/>
<rect x="66.7" y="261.7" width="26.6" height="15.6" fill="#8A2BE2"/>
<rect x="66.7" y="277.3" width="26.6" height="86.7" fill="#0000FF"/>
<rect x="120" y="247.5" width="26.7" height="4.2" fill="#D2691E"/>
<rect x="120" y="251.7" width="26.7" height="12.3" fill="#A52A2A"/>
<rect x="120" y="264" width="26.7" height="15.3" fill="#8A2BE2"/>
<rect x="120" y="279.3" width="26.7" height="84.7" fill="#0000FF"/>
<line x1="54.3" y1="247.5" x2="54.3" y2="364" stroke="#999" stroke-width="0.7" />
<line x1="54.3" y1="364" x2="158.3" y2="364" stroke="#8a8a8a" stroke-width="1" />
<line x1="54.3" y1="247.5" x2="54.3" y2="364" stroke="#444" stroke-width="1.3" stroke-dasharray="0.8 1.53"/>
<line x1="52.8" y1="364" x2="55.3" y2="364" stroke="#333" stroke-width="1.1" />
<text x="49.3" y="365.1" font-family="'Liberation Sans', sans-serif" font-size="3" font-weight="bold" fill="#555" text-anchor="start"  textLength="1.7" lengthAdjust="spacingAndGlyphs">0</text>
<line x1="52.8" y1="352.35" x2="55.3" y2="352.35" stroke="#333" stroke-width="1.1" />
<text x="47.6" y="353.45" font-family="'Liberation Sans', sans-serif" font-size="3" font-weight="bold" fill="#555" text-anchor="start"  textLength="3.4" lengthAdjust="spacingAndGlyphs">10</text>
<line x1="52.8" y1="340.7" x2="55.3" y2="340.7" stroke="#333" stroke-width="1.1" />
<text x="47.6" y="341.8" font-family="'Liberation Sans', sans-serif" font-size="3" font-weight="bold" fill="#555" text-anchor="start"  textLength="3.4" lengthAdjust="spacingAndGlyphs">20</text>
<line x1="52.8" y1="329.05" x2="55.3" y2="329.05" stroke="#333" stroke-width="1.1" />
<text x="47.6" y="330.15" font-family="'Liberation Sans', sans-serif" font-size="3" font-weight="bold" fill="#555" text-anchor="start"  textLength="3.4" lengthAdjust="spacingAndGlyphs">30</text>
<line x1="52.8" y1="317.4" x2="55.3" y2="317.4" stroke="#333" stroke-width="1.1" />
<text x="47.6" y="318.5" font-family="'Liberation Sans', sans-serif" font-size="3" font-weight="bold" fill="#555" text-anchor="start"  textLength="3.4" lengthAdjust="spacingAndGlyphs">40</text>
<line x1="52.8" y1="305.75" x2="55.3" y2="305.75" stroke="#333" stroke-width="1.1" />
<text x="47.6" y="306.85" font-family="'Liberation Sans', sans-serif" font-size="3" font-weight="bold" fill="#555" text-anchor="start"  textLength="3.4" lengthAdjust="spacingAndGlyphs">50</text>
<line x1="52.8" y1="294.1" x2="55.3" y2="294.1" stroke="#333" stroke-width="1.1" />
<text x="47.6" y="295.2" font-family="'Liberation Sans', sans-serif" font-size="3" font-weight="bold" fill="#555" text-anchor="start"  textLength="3.4" lengthAdjust="spacingAndGlyphs">60</text>
<line x1="52.8" y1="282.45" x2="55.3" y2="282.45" stroke="#333" stroke-width="1.1" />
<text x="47.6" y="283.55" font-family="'Liberation Sans', sans-serif" font-size="3" font-weight="bold" fill="#555" text-anchor="start"  textLength="3.4" lengthAdjust="spacingAndGlyphs">70</text>
<line x1="52.8" y1="270.8" x2="55.3" y2="270.8" stroke="#333" stroke-width="1.1" />
<text x="47.6" y="271.9" font-family="'Liberation Sans', sans-serif" font-size="3" font-weight="bold" fill="#555" text-anchor="start"  textLength="3.4" lengthAdjust="spacingAndGlyphs">80</text>
<line x1="52.8" y1="259.15" x2="55.3" y2="259.15" stroke="#333" stroke-width="1.1" />
<text x="47.6" y="260.25" font-family="'Liberation Sans', sans-serif" font-size="3" font-weight="bold" fill="#555" text-anchor="start"  textLength="3.4" lengthAdjust="spacingAndGlyphs">90</text>
<line x1="52.8" y1="247.5" x2="55.3" y2="247.5" stroke="#333" stroke-width="1.1" />
<text x="45.9" y="248.6" font-family="'Liberation Sans', sans-serif" font-size="3" font-weight="bold" fill="#555" text-anchor="start"  textLength="5.1" lengthAdjust="spacingAndGlyphs">100</text>
<text x="75.7" y="368.6" font-family="'Liberation Sans', sans-serif" font-size="3" font-weight="normal" fill="#888" text-anchor="start"  textLength="8.6" lengthAdjust="spacingAndGlyphs">Library</text>
<text x="131.35" y="368.6" font-family="'Liberation Sans', sans-serif" font-size="3" font-weight="normal" fill="#888" text-anchor="start"  textLength="4" lengthAdjust="spacingAndGlyphs">T0</text>
<text x="100.05" y="373.3" font-family="'Liberation Sans', sans-serif" font-size="3.3" font-weight="bold" fill="#333" text-anchor="start"  textLength="13.3" lengthAdjust="spacingAndGlyphs">Replicate</text>
<line x1="80" y1="364" x2="80" y2="365.2" stroke="#888" stroke-width="0.6" />
<line x1="133.35" y1="364" x2="133.35" y2="365.2" stroke="#888" stroke-width="0.6" />
<text transform="translate(41.2,340.1) rotate(-90)" font-family="'Liberation Serif', serif" font-size="7.95" font-weight="normal" fill="#333" textLength="70.9" lengthAdjust="spacingAndGlyphs"  stroke="#333" stroke-width="0.25">Peak Area Percentage</text>
<text transform="translate(84.8,421.82) rotate(-90)" font-family="'Liberation Sans', sans-serif" font-size="14.78" font-weight="normal" fill="#000" textLength="45.55" lengthAdjust="spacingAndGlyphs"  stroke="#000" stroke-width="0.3">Library</text>
<text transform="translate(136.9,414.92) rotate(-90)" font-family="'Liberation Sans', sans-serif" font-size="15.04" font-weight="normal" fill="#000" textLength="37.12" lengthAdjust="spacingAndGlyphs"  stroke="#000" stroke-width="0.3">Saliva</text>
<line x1="189" y1="258.3" x2="189" y2="362.7" stroke="#444" stroke-width="1" />
<line x1="189" y1="362.7" x2="297.7" y2="362.7" stroke="#444" stroke-width="1" />
<line x1="187.8" y1="362.7" x2="190.2" y2="362.7" stroke="#555" stroke-width="0.8" />
<line x1="187.8" y1="357.24" x2="190.2" y2="357.24" stroke="#555" stroke-width="0.8" />
<line x1="187.8" y1="351.78" x2="190.2" y2="351.78" stroke="#555" stroke-width="0.8" />
<line x1="187.8" y1="346.32" x2="190.2" y2="346.32" stroke="#555" stroke-width="0.8" />
<line x1="187.8" y1="340.86" x2="190.2" y2="340.86" stroke="#555" stroke-width="0.8" />
<line x1="187.8" y1="335.4" x2="190.2" y2="335.4" stroke="#555" stroke-width="0.8" />
<line x1="187.8" y1="329.94" x2="190.2" y2="329.94" stroke="#555" stroke-width="0.8" />
<line x1="187.8" y1="324.48" x2="190.2" y2="324.48" stroke="#555" stroke-width="0.8" />
<line x1="187.8" y1="319.02" x2="190.2" y2="319.02" stroke="#555" stroke-width="0.8" />
<line x1="187.8" y1="313.56" x2="190.2" y2="313.56" stroke="#555" stroke-width="0.8" />
<line x1="187.8" y1="308.1" x2="190.2" y2="308.1" stroke="#555" stroke-width="0.8" />
<line x1="187.8" y1="302.64" x2="190.2" y2="302.64" stroke="#555" stroke-width="0.8" />
<line x1="187.8" y1="297.18" x2="190.2" y2="297.18" stroke="#555" stroke-width="0.8" />
<line x1="187.8" y1="291.72" x2="190.2" y2="291.72" stroke="#555" stroke-width="0.8" />
<line x1="187.8" y1="286.26" x2="190.2" y2="286.26" stroke="#555" stroke-width="0.8" />
<line x1="187.8" y1="280.8" x2="190.2" y2="280.8" stroke="#555" stroke-width="0.8" />
<line x1="187.8" y1="275.34" x2="190.2" y2="275.34" stroke="#555" stroke-width="0.8" />
<line x1="187.8" y1="269.88" x2="190.2" y2="269.88" stroke="#555" stroke-width="0.8" />
<line x1="187.8" y1="264.42" x2="190.2" y2="264.42" stroke="#555" stroke-width="0.8" />
<line x1="186" y1="281" x2="192" y2="281" stroke="#777" stroke-width="0.8" />
<text x="172.6" y="282.5" font-family="'Liberation Sans', sans-serif" font-size="4.4" font-weight="bold" fill="#555" text-anchor="start"  textLength="5.2" lengthAdjust="spacingAndGlyphs">15</text>
<line x1="186" y1="308.3" x2="192" y2="308.3" stroke="#777" stroke-width="0.8" />
<text x="172.6" y="309.8" font-family="'Liberation Sans', sans-serif" font-size="4.4" font-weight="bold" fill="#555" text-anchor="start"  textLength="5.2" lengthAdjust="spacingAndGlyphs">10</text>
<line x1="186" y1="335.7" x2="192" y2="335.7" stroke="#777" stroke-width="0.8" />
<text x="173.9" y="337.2" font-family="'Liberation Sans', sans-serif" font-size="4.4" font-weight="bold" fill="#555" text-anchor="start"  textLength="2.6" lengthAdjust="spacingAndGlyphs">5</text>
<line x1="186" y1="362.7" x2="192" y2="362.7" stroke="#777" stroke-width="0.8" />
<text x="173.9" y="364.2" font-family="'Liberation Sans', sans-serif" font-size="4.4" font-weight="bold" fill="#555" text-anchor="start"  textLength="2.6" lengthAdjust="spacingAndGlyphs">0</text>
<line x1="194.3" y1="362.7" x2="194.3" y2="364.2" stroke="#666" stroke-width="0.7" />
<line x1="201.44" y1="362.7" x2="201.44" y2="364.2" stroke="#666" stroke-width="0.7" />
<line x1="208.58" y1="362.7" x2="208.58" y2="364.2" stroke="#666" stroke-width="0.7" />
<line x1="215.72" y1="362.7" x2="215.72" y2="364.2" stroke="#666" stroke-width="0.7" />
<line x1="222.86" y1="362.7" x2="222.86" y2="364.2" stroke="#666" stroke-width="0.7" />
<line x1="230" y1="362.7" x2="230" y2="364.2" stroke="#666" stroke-width="0.7" />
<line x1="237.14" y1="362.7" x2="237.14" y2="364.2" stroke="#666" stroke-width="0.7" />
<line x1="244.28" y1="362.7" x2="244.28" y2="364.2" stroke="#666" stroke-width="0.7" />
<line x1="251.42" y1="362.7" x2="251.42" y2="364.2" stroke="#666" stroke-width="0.7" />
<line x1="258.56" y1="362.7" x2="258.56" y2="364.2" stroke="#666" stroke-width="0.7" />
<line x1="265.7" y1="362.7" x2="265.7" y2="364.2" stroke="#666" stroke-width="0.7" />
<line x1="272.84" y1="362.7" x2="272.84" y2="364.2" stroke="#666" stroke-width="0.7" />
<line x1="279.98" y1="362.7" x2="279.98" y2="364.2" stroke="#666" stroke-width="0.7" />
<line x1="287.12" y1="362.7" x2="287.12" y2="364.2" stroke="#666" stroke-width="0.7" />
<line x1="294.26" y1="362.7" x2="294.26" y2="364.2" stroke="#666" stroke-width="0.7" />
<text x="185.9" y="369" font-family="'Liberation Sans', sans-serif" font-size="3.8" font-weight="bold" fill="#555" text-anchor="start"  textLength="16.8" lengthAdjust="spacingAndGlyphs">23.0</text>
<text x="221.6" y="369" font-family="'Liberation Sans', sans-serif" font-size="3.8" font-weight="bold" fill="#555" text-anchor="start"  textLength="16.8" lengthAdjust="spacingAndGlyphs">23.5</text>
<text x="256.6" y="369" font-family="'Liberation Sans', sans-serif" font-size="3.8" font-weight="bold" fill="#555" text-anchor="start"  textLength="16.8" lengthAdjust="spacingAndGlyphs">24.0</text>
<line x1="227.9" y1="265.7" x2="227.9" y2="362.7" stroke="#888" stroke-width="1.3" />
<line x1="260.3" y1="265.7" x2="260.3" y2="362.7" stroke="#888" stroke-width="1.3" />
<polyline points="191,362 226,362" fill="none" stroke="#2626FF" stroke-width="1.2" stroke-linejoin="round" stroke-linecap="round" />
<polyline points="262,362 297,361" fill="none" stroke="#2626FF" stroke-width="1.2" stroke-linejoin="round" stroke-linecap="round" />
<polyline points="233.5,362.7 238,296.74 242.5,268.61 244.9,265.7 248.3,279.76 251.8,319.05 255.2,362.7" fill="none" stroke="#2626FF" stroke-width="1.8" stroke-linejoin="round" stroke-linecap="round" />
<polyline points="233.5,362.7 238,351.14 242.5,346.21 244.9,345.7 248.3,348.16 251.8,355.05 255.2,362.7" fill="none" stroke="#9036E6" stroke-width="1.4" stroke-linejoin="round" stroke-linecap="round" />
<polyline points="233.5,362.7 238,353.38 242.5,349.41 244.9,349 248.3,350.99 251.8,356.53 255.2,362.7" fill="none" stroke="#B23838" stroke-width="1.4" stroke-linejoin="round" stroke-linecap="round" />
<polyline points="233.5,362.7 238,359.71 242.5,358.43 244.9,358.3 248.3,358.94 251.8,360.72 255.2,362.7" fill="none" stroke="#DB7532" stroke-width="1.2" stroke-linejoin="round" stroke-linecap="round" />
<path d="M235,264.4 L242.2,265.9 L235,267 Z" fill="#111"/>
<text transform="translate(167.4,339.5) rotate(-90)" font-family="'Liberation Serif', serif" font-size="9.92" fill="#222" stroke="#222" stroke-width="0.3" textLength="60.1" lengthAdjust="spacingAndGlyphs">Intensity (x10<tspan font-size="5.95" dy="-3.77">3</tspan><tspan dy="3.77">)</tspan></text>
<text x="217.7" y="382.12" font-family="'Liberation Serif', serif" font-size="9.44" font-weight="normal" fill="#222" text-anchor="start"  stroke="#222" stroke-width="0.3" textLength="59" lengthAdjust="spacingAndGlyphs">Retention Time</text>
<path d="M132.7,234 L132.7,227.3 L240.7,227.3 L240.7,234" fill="none" stroke="#6598D0" stroke-width="1.7" stroke-linejoin="round"/>
<text x="202.3" y="217.1" font-family="'Liberation Sans', sans-serif" font-size="17.44" font-weight="bold" fill="#000" text-anchor="start"  stroke="#000" stroke-width="0.3" textLength="40.02" lengthAdjust="spacingAndGlyphs">LGR1</text>
<text transform="translate(365.8,365.63) rotate(-90)" font-family="'Liberation Serif', serif" font-size="17.77" font-weight="normal" fill="#000" textLength="104.21" lengthAdjust="spacingAndGlyphs"  stroke="#000" stroke-width="0.35">GMISNLLGK</text>
<rect x="418.3" y="255" width="25" height="6" fill="#D2691E"/>
<rect x="418.3" y="261" width="25" height="7.3" fill="#A52A2A"/>
<rect x="418.3" y="268.3" width="25" height="52.4" fill="#8A2BE2"/>
<rect x="418.3" y="320.7" width="25" height="46" fill="#0000FF"/>
<rect x="469" y="255" width="25" height="5.3" fill="#D2691E"/>
<rect x="469" y="260.3" width="25" height="2.7" fill="#A52A2A"/>
<rect x="469" y="263" width="25" height="68.7" fill="#8A2BE2"/>
<rect x="469" y="331.7" width="25" height="35" fill="#0000FF"/>
<line x1="407.3" y1="255" x2="407.3" y2="366.7" stroke="#999" stroke-width="0.7" />
<line x1="407.3" y1="366.7" x2="506" y2="366.7" stroke="#8a8a8a" stroke-width="1" />
<line x1="407.3" y1="255" x2="407.3" y2="366.7" stroke="#444" stroke-width="1.3" stroke-dasharray="0.8 1.43"/>
<line x1="405.8" y1="366.7" x2="408.3" y2="366.7" stroke="#333" stroke-width="1.1" />
<text x="402.3" y="367.8" font-family="'Liberation Sans', sans-serif" font-size="3" font-weight="bold" fill="#555" text-anchor="start"  textLength="1.7" lengthAdjust="spacingAndGlyphs">0</text>
<line x1="405.8" y1="355.53" x2="408.3" y2="355.53" stroke="#333" stroke-width="1.1" />
<text x="400.6" y="356.63" font-family="'Liberation Sans', sans-serif" font-size="3" font-weight="bold" fill="#555" text-anchor="start"  textLength="3.4" lengthAdjust="spacingAndGlyphs">10</text>
<line x1="405.8" y1="344.36" x2="408.3" y2="344.36" stroke="#333" stroke-width="1.1" />
<text x="400.6" y="345.46" font-family="'Liberation Sans', sans-serif" font-size="3" font-weight="bold" fill="#555" text-anchor="start"  textLength="3.4" lengthAdjust="spacingAndGlyphs">20</text>
<line x1="405.8" y1="333.19" x2="408.3" y2="333.19" stroke="#333" stroke-width="1.1" />
<text x="400.6" y="334.29" font-family="'Liberation Sans', sans-serif" font-size="3" font-weight="bold" fill="#555" text-anchor="start"  textLength="3.4" lengthAdjust="spacingAndGlyphs">30</text>
<line x1="405.8" y1="322.02" x2="408.3" y2="322.02" stroke="#333" stroke-width="1.1" />
<text x="400.6" y="323.12" font-family="'Liberation Sans', sans-serif" font-size="3" font-weight="bold" fill="#555" text-anchor="start"  textLength="3.4" lengthAdjust="spacingAndGlyphs">40</text>
<line x1="405.8" y1="310.85" x2="408.3" y2="310.85" stroke="#333" stroke-width="1.1" />
<text x="400.6" y="311.95" font-family="'Liberation Sans', sans-serif" font-size="3" font-weight="bold" fill="#555" text-anchor="start"  textLength="3.4" lengthAdjust="spacingAndGlyphs">50</text>
<line x1="405.8" y1="299.68" x2="408.3" y2="299.68" stroke="#333" stroke-width="1.1" />
<text x="400.6" y="300.78" font-family="'Liberation Sans', sans-serif" font-size="3" font-weight="bold" fill="#555" text-anchor="start"  textLength="3.4" lengthAdjust="spacingAndGlyphs">60</text>
<line x1="405.8" y1="288.51" x2="408.3" y2="288.51" stroke="#333" stroke-width="1.1" />
<text x="400.6" y="289.61" font-family="'Liberation Sans', sans-serif" font-size="3" font-weight="bold" fill="#555" text-anchor="start"  textLength="3.4" lengthAdjust="spacingAndGlyphs">70</text>
<line x1="405.8" y1="277.34" x2="408.3" y2="277.34" stroke="#333" stroke-width="1.1" />
<text x="400.6" y="278.44" font-family="'Liberation Sans', sans-serif" font-size="3" font-weight="bold" fill="#555" text-anchor="start"  textLength="3.4" lengthAdjust="spacingAndGlyphs">80</text>
<line x1="405.8" y1="266.17" x2="408.3" y2="266.17" stroke="#333" stroke-width="1.1" />
<text x="400.6" y="267.27" font-family="'Liberation Sans', sans-serif" font-size="3" font-weight="bold" fill="#555" text-anchor="start"  textLength="3.4" lengthAdjust="spacingAndGlyphs">90</text>
<line x1="405.8" y1="255" x2="408.3" y2="255" stroke="#333" stroke-width="1.1" />
<text x="398.9" y="256.1" font-family="'Liberation Sans', sans-serif" font-size="3" font-weight="bold" fill="#555" text-anchor="start"  textLength="5.1" lengthAdjust="spacingAndGlyphs">100</text>
<text x="426.5" y="371.3" font-family="'Liberation Sans', sans-serif" font-size="3" font-weight="normal" fill="#888" text-anchor="start"  textLength="8.6" lengthAdjust="spacingAndGlyphs">Library</text>
<text x="479.5" y="371.3" font-family="'Liberation Sans', sans-serif" font-size="3" font-weight="normal" fill="#888" text-anchor="start"  textLength="4" lengthAdjust="spacingAndGlyphs">T0</text>
<text x="449.55" y="376" font-family="'Liberation Sans', sans-serif" font-size="3.3" font-weight="bold" fill="#333" text-anchor="start"  textLength="13.3" lengthAdjust="spacingAndGlyphs">Replicate</text>
<line x1="430.8" y1="366.7" x2="430.8" y2="367.9" stroke="#888" stroke-width="0.6" />
<line x1="481.5" y1="366.7" x2="481.5" y2="367.9" stroke="#888" stroke-width="0.6" />
<text transform="translate(395.7,344) rotate(-90)" font-family="'Liberation Serif', serif" font-size="8.52" font-weight="normal" fill="#333" textLength="71.4" lengthAdjust="spacingAndGlyphs"  stroke="#333" stroke-width="0.25">Peak Area Percentage</text>
<text transform="translate(437.7,420.71) rotate(-90)" font-family="'Liberation Sans', sans-serif" font-size="13.87" font-weight="normal" fill="#000" textLength="45.04" lengthAdjust="spacingAndGlyphs"  stroke="#000" stroke-width="0.3">Library</text>
<text transform="translate(489.5,413.51) rotate(-90)" font-family="'Liberation Sans', sans-serif" font-size="14.52" font-weight="normal" fill="#000" textLength="36.41" lengthAdjust="spacingAndGlyphs"  stroke="#000" stroke-width="0.3">Saliva</text>
<line x1="542.3" y1="251.7" x2="542.3" y2="364.3" stroke="#444" stroke-width="1" />
<line x1="542.3" y1="364.3" x2="665" y2="364.3" stroke="#444" stroke-width="1" />
<line x1="541.1" y1="364.3" x2="543.5" y2="364.3" stroke="#555" stroke-width="0.8" />
<line x1="541.1" y1="360.9" x2="543.5" y2="360.9" stroke="#555" stroke-width="0.8" />
<line x1="541.1" y1="357.5" x2="543.5" y2="357.5" stroke="#555" stroke-width="0.8" />
<line x1="541.1" y1="354.1" x2="543.5" y2="354.1" stroke="#555" stroke-width="0.8" />
<line x1="541.1" y1="350.7" x2="543.5" y2="350.7" stroke="#555" stroke-width="0.8" />
<line x1="541.1" y1="347.3" x2="543.5" y2="347.3" stroke="#555" stroke-width="0.8" />
<line x1="541.1" y1="343.9" x2="543.5" y2="343.9" stroke="#555" stroke-width="0.8" />
<line x1="541.1" y1="340.5" x2="543.5" y2="340.5" stroke="#555" stroke-width="0.8" />
<line x1="541.1" y1="337.1" x2="543.5" y2="337.1" stroke="#555" stroke-width="0.8" />
<line x1="541.1" y1="333.7" x2="543.5" y2="333.7" stroke="#555" stroke-width="0.8" />
<line x1="541.1" y1="330.3" x2="543.5" y2="330.3" stroke="#555" stroke-width="0.8" />
<line x1="541.1" y1="326.9" x2="543.5" y2="326.9" stroke="#555" stroke-width="0.8" />
<line x1="541.1" y1="323.5" x2="543.5" y2="323.5" stroke="#555" stroke-width="0.8" />
<line x1="541.1" y1="320.1" x2="543.5" y2="320.1" stroke="#555" stroke-width="0.8" />
<line x1="541.1" y1="316.7" x2="543.5" y2="316.7" stroke="#555" stroke-width="0.8" />
<line x1="541.1" y1="313.3" x2="543.5" y2="313.3" stroke="#555" stroke-width="0.8" />
<line x1="541.1" y1="309.9" x2="543.5" y2="309.9" stroke="#555" stroke-width="0.8" />
<line x1="541.1" y1="306.5" x2="543.5" y2="306.5" stroke="#555" stroke-width="0.8" />
<line x1="541.1" y1="303.1" x2="543.5" y2="303.1" stroke="#555" stroke-width="0.8" />
<line x1="541.1" y1="299.7" x2="543.5" y2="299.7" stroke="#555" stroke-width="0.8" />
<line x1="541.1" y1="296.3" x2="543.5" y2="296.3" stroke="#555" stroke-width="0.8" />
<line x1="541.1" y1="292.9" x2="543.5" y2="292.9" stroke="#555" stroke-width="0.8" />
<line x1="541.1" y1="289.5" x2="543.5" y2="289.5" stroke="#555" stroke-width="0.8" />
<line x1="541.1" y1="286.1" x2="543.5" y2="286.1" stroke="#555" stroke-width="0.8" />
<line x1="541.1" y1="282.7" x2="543.5" y2="282.7" stroke="#555" stroke-width="0.8" />
<line x1="541.1" y1="279.3" x2="543.5" y2="279.3" stroke="#555" stroke-width="0.8" />
<line x1="541.1" y1="275.9" x2="543.5" y2="275.9" stroke="#555" stroke-width="0.8" />
<line x1="541.1" y1="272.5" x2="543.5" y2="272.5" stroke="#555" stroke-width="0.8" />
<line x1="541.1" y1="269.1" x2="543.5" y2="269.1" stroke="#555" stroke-width="0.8" />
<line x1="541.1" y1="265.7" x2="543.5" y2="265.7" stroke="#555" stroke-width="0.8" />
<line x1="541.1" y1="262.3" x2="543.5" y2="262.3" stroke="#555" stroke-width="0.8" />
<line x1="541.1" y1="258.9" x2="543.5" y2="258.9" stroke="#555" stroke-width="0.8" />
<line x1="541.1" y1="255.5" x2="543.5" y2="255.5" stroke="#555" stroke-width="0.8" />
<line x1="539.3" y1="262.7" x2="545.3" y2="262.7" stroke="#777" stroke-width="0.8" />
<text x="526.6" y="264.2" font-family="'Liberation Sans', sans-serif" font-size="4.4" font-weight="bold" fill="#555" text-anchor="start"  textLength="6" lengthAdjust="spacingAndGlyphs">12</text>
<line x1="539.3" y1="279.7" x2="545.3" y2="279.7" stroke="#777" stroke-width="0.8" />
<text x="526.6" y="281.2" font-family="'Liberation Sans', sans-serif" font-size="4.4" font-weight="bold" fill="#555" text-anchor="start"  textLength="6" lengthAdjust="spacingAndGlyphs">10</text>
<line x1="539.3" y1="296.7" x2="545.3" y2="296.7" stroke="#777" stroke-width="0.8" />
<text x="528.1" y="298.2" font-family="'Liberation Sans', sans-serif" font-size="4.4" font-weight="bold" fill="#555" text-anchor="start"  textLength="3" lengthAdjust="spacingAndGlyphs">8</text>
<line x1="539.3" y1="313.7" x2="545.3" y2="313.7" stroke="#777" stroke-width="0.8" />
<text x="528.1" y="315.2" font-family="'Liberation Sans', sans-serif" font-size="4.4" font-weight="bold" fill="#555" text-anchor="start"  textLength="3" lengthAdjust="spacingAndGlyphs">6</text>
<line x1="539.3" y1="330.3" x2="545.3" y2="330.3" stroke="#777" stroke-width="0.8" />
<text x="528.1" y="331.8" font-family="'Liberation Sans', sans-serif" font-size="4.4" font-weight="bold" fill="#555" text-anchor="start"  textLength="3" lengthAdjust="spacingAndGlyphs">4</text>
<line x1="539.3" y1="347.3" x2="545.3" y2="347.3" stroke="#777" stroke-width="0.8" />
<text x="528.1" y="348.8" font-family="'Liberation Sans', sans-serif" font-size="4.4" font-weight="bold" fill="#555" text-anchor="start"  textLength="3" lengthAdjust="spacingAndGlyphs">2</text>
<line x1="539.3" y1="364.3" x2="545.3" y2="364.3" stroke="#777" stroke-width="0.8" />
<text x="528.1" y="365.8" font-family="'Liberation Sans', sans-serif" font-size="4.4" font-weight="bold" fill="#555" text-anchor="start"  textLength="3" lengthAdjust="spacingAndGlyphs">0</text>
<line x1="545.9" y1="364.3" x2="545.9" y2="365.8" stroke="#666" stroke-width="0.7" />
<line x1="552.7" y1="364.3" x2="552.7" y2="365.8" stroke="#666" stroke-width="0.7" />
<line x1="559.5" y1="364.3" x2="559.5" y2="365.8" stroke="#666" stroke-width="0.7" />
<line x1="566.3" y1="364.3" x2="566.3" y2="365.8" stroke="#666" stroke-width="0.7" />
<line x1="573.1" y1="364.3" x2="573.1" y2="365.8" stroke="#666" stroke-width="0.7" />
<line x1="579.9" y1="364.3" x2="579.9" y2="365.8" stroke="#666" stroke-width="0.7" />
<line x1="586.7" y1="364.3" x2="586.7" y2="365.8" stroke="#666" stroke-width="0.7" />
<line x1="593.5" y1="364.3" x2="593.5" y2="365.8" stroke="#666" stroke-width="0.7" />
<line x1="600.3" y1="364.3" x2="600.3" y2="365.8" stroke="#666" stroke-width="0.7" />
<line x1="607.1" y1="364.3" x2="607.1" y2="365.8" stroke="#666" stroke-width="0.7" />
<line x1="613.9" y1="364.3" x2="613.9" y2="365.8" stroke="#666" stroke-width="0.7" />
<line x1="620.7" y1="364.3" x2="620.7" y2="365.8" stroke="#666" stroke-width="0.7" />
<line x1="627.5" y1="364.3" x2="627.5" y2="365.8" stroke="#666" stroke-width="0.7" />
<line x1="634.3" y1="364.3" x2="634.3" y2="365.8" stroke="#666" stroke-width="0.7" />
<line x1="641.1" y1="364.3" x2="641.1" y2="365.8" stroke="#666" stroke-width="0.7" />
<line x1="647.9" y1="364.3" x2="647.9" y2="365.8" stroke="#666" stroke-width="0.7" />
<line x1="654.7" y1="364.3" x2="654.7" y2="365.8" stroke="#666" stroke-width="0.7" />
<line x1="661.5" y1="364.3" x2="661.5" y2="365.8" stroke="#666" stroke-width="0.7" />
<text x="546.99" y="370.5" font-family="'Liberation Sans', sans-serif" font-size="3.8" font-weight="bold" fill="#555" text-anchor="start"  textLength="11.42" lengthAdjust="spacingAndGlyphs">18.5</text>
<text x="580.99" y="370.5" font-family="'Liberation Sans', sans-serif" font-size="3.8" font-weight="bold" fill="#555" text-anchor="start"  textLength="11.42" lengthAdjust="spacingAndGlyphs">19.0</text>
<text x="614.99" y="370.5" font-family="'Liberation Sans', sans-serif" font-size="3.8" font-weight="bold" fill="#555" text-anchor="start"  textLength="11.42" lengthAdjust="spacingAndGlyphs">19.5</text>
<text x="649.29" y="370.5" font-family="'Liberation Sans', sans-serif" font-size="3.8" font-weight="bold" fill="#555" text-anchor="start"  textLength="11.42" lengthAdjust="spacingAndGlyphs">20.0</text>
<line x1="585.4" y1="271.7" x2="585.4" y2="364.3" stroke="#888" stroke-width="1.3" />
<line x1="621.7" y1="271.7" x2="621.7" y2="364.3" stroke="#888" stroke-width="1.3" />
<polyline points="545,364 552,361.5 560,364 566,361.5 574,364 583,364" fill="none" stroke="#DB7532" stroke-width="1.2" stroke-linejoin="round" stroke-linecap="round" />
<polyline points="545,363.5 583,363.5" fill="none" stroke="#2626FF" stroke-width="1.2" stroke-linejoin="round" stroke-linecap="round" />
<polyline points="624,363.5 660,363.5" fill="none" stroke="#2626FF" stroke-width="1.2" stroke-linejoin="round" stroke-linecap="round" />
<polyline points="640,364 650,362.5 660,364" fill="none" stroke="#DB7532" stroke-width="1.2" stroke-linejoin="round" stroke-linecap="round" />
<polyline points="592.7,364.3 594.91,321.89 597.12,304.32 599.33,287.52 601.54,275.34 603.75,271 605.96,275.74 608.17,288.21 610.38,305.12 612.59,322.65 614.8,364.3" fill="none" stroke="#9036E6" stroke-width="1.8" stroke-linejoin="round" stroke-linecap="round" />
<polyline points="592.7,364.3 594.91,343.12 597.12,334.34 599.33,325.95 601.54,319.87 603.75,317.7 605.96,320.07 608.17,326.29 610.38,334.74 612.59,343.5 614.8,364.3" fill="none" stroke="#2626FF" stroke-width="1.8" stroke-linejoin="round" stroke-linecap="round" />
<polyline points="592.7,364.3 594.91,361.3 597.12,360.06 599.33,358.87 601.54,358.01 603.75,357.7 605.96,358.04 608.17,358.92 610.38,360.11 612.59,361.35 614.8,364.3" fill="none" stroke="#DB7532" stroke-width="1.2" stroke-linejoin="round" stroke-linecap="round" />
<polyline points="592.7,364.3 594.91,363.25 597.12,362.82 599.33,362.41 601.54,362.11 603.75,362 605.96,362.12 608.17,362.42 610.38,362.84 612.59,363.27 614.8,364.3" fill="none" stroke="#B23838" stroke-width="1.2" stroke-linejoin="round" stroke-linecap="round" />
<path d="M596,269.7 L602.2,271.2 L596,272.3 Z" fill="#111"/>
<text transform="translate(521.5,338.5) rotate(-90)" font-family="'Liberation Serif', serif" font-size="10.07" fill="#222" stroke="#222" stroke-width="0.3" textLength="59.6" lengthAdjust="spacingAndGlyphs">Intensity (x10<tspan font-size="6.04" dy="-3.83">3</tspan><tspan dy="3.83">)</tspan></text>
<text x="577.7" y="381.45" font-family="'Liberation Serif', serif" font-size="9.54" font-weight="normal" fill="#222" text-anchor="start"  stroke="#222" stroke-width="0.3" textLength="59.6" lengthAdjust="spacingAndGlyphs">Retention Time</text>
<path d="M480,240.7 L480,234.3 L589.3,234.3 L589.3,240.7" fill="none" stroke="#6598D0" stroke-width="1.7" stroke-linejoin="round"/>
<text x="535.26" y="221.6" font-family="'Liberation Sans', sans-serif" font-size="18.17" font-weight="bold" fill="#000" text-anchor="start"  stroke="#000" stroke-width="0.3" textLength="76.17" lengthAdjust="spacingAndGlyphs">SERPINE1</text>
<text transform="translate(726.7,364.31) rotate(-90)" font-family="'Liberation Serif', serif" font-size="18.22" font-weight="normal" fill="#000" textLength="109.39" lengthAdjust="spacingAndGlyphs"  stroke="#000" stroke-width="0.35">LSITGTYDLK</text>
<rect x="780" y="249" width="25.7" height="6" fill="#D2691E"/>
<rect x="780" y="255" width="25.7" height="34.3" fill="#A52A2A"/>
<rect x="780" y="289.3" width="25.7" height="49" fill="#8A2BE2"/>
<rect x="780" y="338.3" width="25.7" height="22.7" fill="#0000FF"/>
<rect x="830.7" y="249" width="26" height="5.3" fill="#D2691E"/>
<rect x="830.7" y="254.3" width="26" height="31.7" fill="#A52A2A"/>
<rect x="830.7" y="286" width="26" height="51.7" fill="#8A2BE2"/>
<rect x="830.7" y="337.7" width="26" height="23.3" fill="#0000FF"/>
<line x1="768.3" y1="249" x2="768.3" y2="361" stroke="#999" stroke-width="0.7" />
<line x1="768.3" y1="361" x2="868.3" y2="361" stroke="#8a8a8a" stroke-width="1" />
<line x1="768.3" y1="249" x2="768.3" y2="361" stroke="#444" stroke-width="1.3" stroke-dasharray="0.8 1.44"/>
<line x1="766.8" y1="361" x2="769.3" y2="361" stroke="#333" stroke-width="1.1" />
<text x="763.3" y="362.1" font-family="'Liberation Sans', sans-serif" font-size="3" font-weight="bold" fill="#555" text-anchor="start"  textLength="1.7" lengthAdjust="spacingAndGlyphs">0</text>
<line x1="766.8" y1="349.8" x2="769.3" y2="349.8" stroke="#333" stroke-width="1.1" />
<text x="761.6" y="350.9" font-family="'Liberation Sans', sans-serif" font-size="3" font-weight="bold" fill="#555" text-anchor="start"  textLength="3.4" lengthAdjust="spacingAndGlyphs">10</text>
<line x1="766.8" y1="338.6" x2="769.3" y2="338.6" stroke="#333" stroke-width="1.1" />
<text x="761.6" y="339.7" font-family="'Liberation Sans', sans-serif" font-size="3" font-weight="bold" fill="#555" text-anchor="start"  textLength="3.4" lengthAdjust="spacingAndGlyphs">20</text>
<line x1="766.8" y1="327.4" x2="769.3" y2="327.4" stroke="#333" stroke-width="1.1" />
<text x="761.6" y="328.5" font-family="'Liberation Sans', sans-serif" font-size="3" font-weight="bold" fill="#555" text-anchor="start"  textLength="3.4" lengthAdjust="spacingAndGlyphs">30</text>
<line x1="766.8" y1="316.2" x2="769.3" y2="316.2" stroke="#333" stroke-width="1.1" />
<text x="761.6" y="317.3" font-family="'Liberation Sans', sans-serif" font-size="3" font-weight="bold" fill="#555" text-anchor="start"  textLength="3.4" lengthAdjust="spacingAndGlyphs">40</text>
<line x1="766.8" y1="305" x2="769.3" y2="305" stroke="#333" stroke-width="1.1" />
<text x="761.6" y="306.1" font-family="'Liberation Sans', sans-serif" font-size="3" font-weight="bold" fill="#555" text-anchor="start"  textLength="3.4" lengthAdjust="spacingAndGlyphs">50</text>
<line x1="766.8" y1="293.8" x2="769.3" y2="293.8" stroke="#333" stroke-width="1.1" />
<text x="761.6" y="294.9" font-family="'Liberation Sans', sans-serif" font-size="3" font-weight="bold" fill="#555" text-anchor="start"  textLength="3.4" lengthAdjust="spacingAndGlyphs">60</text>
<line x1="766.8" y1="282.6" x2="769.3" y2="282.6" stroke="#333" stroke-width="1.1" />
<text x="761.6" y="283.7" font-family="'Liberation Sans', sans-serif" font-size="3" font-weight="bold" fill="#555" text-anchor="start"  textLength="3.4" lengthAdjust="spacingAndGlyphs">70</text>
<line x1="766.8" y1="271.4" x2="769.3" y2="271.4" stroke="#333" stroke-width="1.1" />
<text x="761.6" y="272.5" font-family="'Liberation Sans', sans-serif" font-size="3" font-weight="bold" fill="#555" text-anchor="start"  textLength="3.4" lengthAdjust="spacingAndGlyphs">80</text>
<line x1="766.8" y1="260.2" x2="769.3" y2="260.2" stroke="#333" stroke-width="1.1" />
<text x="761.6" y="261.3" font-family="'Liberation Sans', sans-serif" font-size="3" font-weight="bold" fill="#555" text-anchor="start"  textLength="3.4" lengthAdjust="spacingAndGlyphs">90</text>
<line x1="766.8" y1="249" x2="769.3" y2="249" stroke="#333" stroke-width="1.1" />
<text x="759.9" y="250.1" font-family="'Liberation Sans', sans-serif" font-size="3" font-weight="bold" fill="#555" text-anchor="start"  textLength="5.1" lengthAdjust="spacingAndGlyphs">100</text>
<text x="788.55" y="365.6" font-family="'Liberation Sans', sans-serif" font-size="3" font-weight="normal" fill="#888" text-anchor="start"  textLength="8.6" lengthAdjust="spacingAndGlyphs">Library</text>
<text x="841.7" y="365.6" font-family="'Liberation Sans', sans-serif" font-size="3" font-weight="normal" fill="#888" text-anchor="start"  textLength="4" lengthAdjust="spacingAndGlyphs">T0</text>
<text x="811.6" y="370.3" font-family="'Liberation Sans', sans-serif" font-size="3.3" font-weight="bold" fill="#333" text-anchor="start"  textLength="13.3" lengthAdjust="spacingAndGlyphs">Replicate</text>
<line x1="792.85" y1="361" x2="792.85" y2="362.2" stroke="#888" stroke-width="0.6" />
<line x1="843.7" y1="361" x2="843.7" y2="362.2" stroke="#888" stroke-width="0.6" />
<text transform="translate(752.5,343.5) rotate(-90)" font-family="'Liberation Serif', serif" font-size="8.66" font-weight="normal" fill="#333" textLength="70.9" lengthAdjust="spacingAndGlyphs"  stroke="#333" stroke-width="0.25">Peak Area Percentage</text>
<text transform="translate(798,417.93) rotate(-90)" font-family="'Liberation Sans', sans-serif" font-size="13.87" font-weight="normal" fill="#000" textLength="45.86" lengthAdjust="spacingAndGlyphs"  stroke="#000" stroke-width="0.3">Library</text>
<text transform="translate(850.3,411.01) rotate(-90)" font-family="'Liberation Sans', sans-serif" font-size="14.91" font-weight="normal" fill="#000" textLength="36.61" lengthAdjust="spacingAndGlyphs"  stroke="#000" stroke-width="0.3">Saliva</text>
<line x1="901.7" y1="248.3" x2="901.7" y2="360" stroke="#444" stroke-width="1" />
<line x1="901.7" y1="360" x2="1031.7" y2="360" stroke="#444" stroke-width="1" />
<line x1="900.5" y1="360" x2="902.9" y2="360" stroke="#555" stroke-width="0.8" />
<line x1="900.5" y1="356.14" x2="902.9" y2="356.14" stroke="#555" stroke-width="0.8" />
<line x1="900.5" y1="352.28" x2="902.9" y2="352.28" stroke="#555" stroke-width="0.8" />
<line x1="900.5" y1="348.42" x2="902.9" y2="348.42" stroke="#555" stroke-width="0.8" />
<line x1="900.5" y1="344.56" x2="902.9" y2="344.56" stroke="#555" stroke-width="0.8" />
<line x1="900.5" y1="340.7" x2="902.9" y2="340.7" stroke="#555" stroke-width="0.8" />
<line x1="900.5" y1="336.84" x2="902.9" y2="336.84" stroke="#555" stroke-width="0.8" />
<line x1="900.5" y1="332.98" x2="902.9" y2="332.98" stroke="#555" stroke-width="0.8" />
<line x1="900.5" y1="329.12" x2="902.9" y2="329.12" stroke="#555" stroke-width="0.8" />
<line x1="900.5" y1="325.26" x2="902.9" y2="325.26" stroke="#555" stroke-width="0.8" />
<line x1="900.5" y1="321.4" x2="902.9" y2="321.4" stroke="#555" stroke-width="0.8" />
<line x1="900.5" y1="317.54" x2="902.9" y2="317.54" stroke="#555" stroke-width="0.8" />
<line x1="900.5" y1="313.68" x2="902.9" y2="313.68" stroke="#555" stroke-width="0.8" />
<line x1="900.5" y1="309.82" x2="902.9" y2="309.82" stroke="#555" stroke-width="0.8" />
<line x1="900.5" y1="305.96" x2="902.9" y2="305.96" stroke="#555" stroke-width="0.8" />
<line x1="900.5" y1="302.1" x2="902.9" y2="302.1" stroke="#555" stroke-width="0.8" />
<line x1="900.5" y1="298.24" x2="902.9" y2="298.24" stroke="#555" stroke-width="0.8" />
<line x1="900.5" y1="294.38" x2="902.9" y2="294.38" stroke="#555" stroke-width="0.8" />
<line x1="900.5" y1="290.52" x2="902.9" y2="290.52" stroke="#555" stroke-width="0.8" />
<line x1="900.5" y1="286.66" x2="902.9" y2="286.66" stroke="#555" stroke-width="0.8" />
<line x1="900.5" y1="282.8" x2="902.9" y2="282.8" stroke="#555" stroke-width="0.8" />
<line x1="900.5" y1="278.94" x2="902.9" y2="278.94" stroke="#555" stroke-width="0.8" />
<line x1="900.5" y1="275.08" x2="902.9" y2="275.08" stroke="#555" stroke-width="0.8" />
<line x1="900.5" y1="271.22" x2="902.9" y2="271.22" stroke="#555" stroke-width="0.8" />
<line x1="900.5" y1="267.36" x2="902.9" y2="267.36" stroke="#555" stroke-width="0.8" />
<line x1="900.5" y1="263.5" x2="902.9" y2="263.5" stroke="#555" stroke-width="0.8" />
<line x1="900.5" y1="259.64" x2="902.9" y2="259.64" stroke="#555" stroke-width="0.8" />
<line x1="900.5" y1="255.78" x2="902.9" y2="255.78" stroke="#555" stroke-width="0.8" />
<line x1="900.5" y1="251.92" x2="902.9" y2="251.92" stroke="#555" stroke-width="0.8" />
<line x1="898.7" y1="264" x2="904.7" y2="264" stroke="#777" stroke-width="0.8" />
<text x="878.95" y="265.5" font-family="'Liberation Sans', sans-serif" font-size="4.4" font-weight="bold" fill="#555" text-anchor="start"  textLength="14.1" lengthAdjust="spacingAndGlyphs">500</text>
<line x1="898.7" y1="283.3" x2="904.7" y2="283.3" stroke="#777" stroke-width="0.8" />
<text x="878.95" y="284.8" font-family="'Liberation Sans', sans-serif" font-size="4.4" font-weight="bold" fill="#555" text-anchor="start"  textLength="14.1" lengthAdjust="spacingAndGlyphs">400</text>
<line x1="898.7" y1="302.3" x2="904.7" y2="302.3" stroke="#777" stroke-width="0.8" />
<text x="878.95" y="303.8" font-family="'Liberation Sans', sans-serif" font-size="4.4" font-weight="bold" fill="#555" text-anchor="start"  textLength="14.1" lengthAdjust="spacingAndGlyphs">300</text>
<line x1="898.7" y1="321.7" x2="904.7" y2="321.7" stroke="#777" stroke-width="0.8" />
<text x="878.95" y="323.2" font-family="'Liberation Sans', sans-serif" font-size="4.4" font-weight="bold" fill="#555" text-anchor="start"  textLength="14.1" lengthAdjust="spacingAndGlyphs">200</text>
<line x1="898.7" y1="340.7" x2="904.7" y2="340.7" stroke="#777" stroke-width="0.8" />
<text x="878.95" y="342.2" font-family="'Liberation Sans', sans-serif" font-size="4.4" font-weight="bold" fill="#555" text-anchor="start"  textLength="14.1" lengthAdjust="spacingAndGlyphs">100</text>
<line x1="898.7" y1="360" x2="904.7" y2="360" stroke="#777" stroke-width="0.8" />
<text x="883.65" y="361.5" font-family="'Liberation Sans', sans-serif" font-size="4.4" font-weight="bold" fill="#555" text-anchor="start"  textLength="4.7" lengthAdjust="spacingAndGlyphs">0</text>
<line x1="904.2" y1="360" x2="904.2" y2="361.5" stroke="#666" stroke-width="0.7" />
<line x1="915.4" y1="360" x2="915.4" y2="361.5" stroke="#666" stroke-width="0.7" />
<line x1="926.6" y1="360" x2="926.6" y2="361.5" stroke="#666" stroke-width="0.7" />
<line x1="937.8" y1="360" x2="937.8" y2="361.5" stroke="#666" stroke-width="0.7" />
<line x1="949" y1="360" x2="949" y2="361.5" stroke="#666" stroke-width="0.7" />
<line x1="960.2" y1="360" x2="960.2" y2="361.5" stroke="#666" stroke-width="0.7" />
<line x1="971.4" y1="360" x2="971.4" y2="361.5" stroke="#666" stroke-width="0.7" />
<line x1="982.6" y1="360" x2="982.6" y2="361.5" stroke="#666" stroke-width="0.7" />
<line x1="993.8" y1="360" x2="993.8" y2="361.5" stroke="#666" stroke-width="0.7" />
<line x1="1005" y1="360" x2="1005" y2="361.5" stroke="#666" stroke-width="0.7" />
<line x1="1016.2" y1="360" x2="1016.2" y2="361.5" stroke="#666" stroke-width="0.7" />
<line x1="1027.4" y1="360" x2="1027.4" y2="361.5" stroke="#666" stroke-width="0.7" />
<text x="895.8" y="365.5" font-family="'Liberation Sans', sans-serif" font-size="3.8" font-weight="bold" fill="#555" text-anchor="start"  textLength="16.8" lengthAdjust="spacingAndGlyphs">22.5</text>
<text x="951.8" y="365.5" font-family="'Liberation Sans', sans-serif" font-size="3.8" font-weight="bold" fill="#555" text-anchor="start"  textLength="16.8" lengthAdjust="spacingAndGlyphs">23.0</text>
<text x="1003.2" y="365.5" font-family="'Liberation Sans', sans-serif" font-size="3.8" font-weight="bold" fill="#555" text-anchor="start"  textLength="16.8" lengthAdjust="spacingAndGlyphs">23.5</text>
<line x1="947.7" y1="265" x2="947.7" y2="360" stroke="#888" stroke-width="1.3" />
<line x1="985.9" y1="265" x2="985.9" y2="360" stroke="#888" stroke-width="1.3" />
<polyline points="905,359.5 940,359.5" fill="none" stroke="#9036E6" stroke-width="1.2" stroke-linejoin="round" stroke-linecap="round" />
<polyline points="990,359.5 1028,359.5" fill="none" stroke="#9036E6" stroke-width="1.2" stroke-linejoin="round" stroke-linecap="round" />
<polyline points="949.9,360 956.5,298.73 960.5,278.2 963.8,265 967.8,265 972.8,283.43 976.4,317.06 980.7,360" fill="none" stroke="#9036E6" stroke-width="1.8" stroke-linejoin="round" stroke-linecap="round" />
<polyline points="949.9,360 956.5,321.75 960.5,308.94 963.8,300.7 967.8,300.7 972.8,312.2 976.4,333.2 980.7,360" fill="none" stroke="#B23838" stroke-width="1.8" stroke-linejoin="round" stroke-linecap="round" />
<polyline points="949.9,360 956.5,332.07 960.5,322.72 963.8,316.7 967.8,316.7 972.8,325.1 976.4,340.43 980.7,360" fill="none" stroke="#2626FF" stroke-width="1.8" stroke-linejoin="round" stroke-linecap="round" />
<polyline points="949.9,360 956.5,353.55 960.5,351.39 963.8,350 967.8,350 972.8,351.94 976.4,355.48 980.7,360" fill="none" stroke="#DB7532" stroke-width="1.3" stroke-linejoin="round" stroke-linecap="round" />
<path d="M955,263.7 L962.2,265.2 L955,266.3 Z" fill="#111"/>
<text transform="translate(873.9,337.6) rotate(-90)" font-family="'Liberation Serif', serif" font-size="9.92" fill="#222" stroke="#222" stroke-width="0.3" textLength="60.1" lengthAdjust="spacingAndGlyphs">Intensity (x10<tspan font-size="5.95" dy="-3.77">3</tspan><tspan dy="3.77">)</tspan></text>
<text x="937.3" y="382.14" font-family="'Liberation Serif', serif" font-size="9.5" font-weight="normal" fill="#222" text-anchor="start"  stroke="#222" stroke-width="0.3" textLength="59.4" lengthAdjust="spacingAndGlyphs">Retention Time</text>
<path d="M840.7,243 L840.7,236.7 L949.3,236.7 L949.3,243" fill="none" stroke="#6598D0" stroke-width="1.7" stroke-linejoin="round"/>
<text x="921.46" y="221.9" font-family="'Liberation Sans', sans-serif" font-size="18.17" font-weight="bold" fill="#000" text-anchor="start"  stroke="#000" stroke-width="0.3" textLength="31.15" lengthAdjust="spacingAndGlyphs">C4B</text>
<text transform="translate(15.9,568.7) rotate(-90)" font-family="'Liberation Serif', serif" font-size="18.22" font-weight="normal" fill="#000" textLength="106.53" lengthAdjust="spacingAndGlyphs"  stroke="#000" stroke-width="0.35">VMLETPEYR</text>
<rect x="64.8" y="460" width="26.4" height="24.2" fill="#D2691E"/>
<rect x="64.8" y="484.2" width="26.4" height="25.8" fill="#A52A2A"/>
<rect x="64.8" y="510" width="26.4" height="23.2" fill="#8A2BE2"/>
<rect x="64.8" y="533.2" width="26.4" height="44.1" fill="#0000FF"/>
<rect x="117.7" y="460" width="26.6" height="27.7" fill="#D2691E"/>
<rect x="117.7" y="487.7" width="26.6" height="18.3" fill="#A52A2A"/>
<rect x="117.7" y="506" width="26.6" height="16.3" fill="#8A2BE2"/>
<rect x="117.7" y="522.3" width="26.6" height="55" fill="#0000FF"/>
<line x1="51.7" y1="460" x2="51.7" y2="577.3" stroke="#999" stroke-width="0.7" />
<line x1="51.7" y1="577.3" x2="156.7" y2="577.3" stroke="#8a8a8a" stroke-width="1" />
<line x1="51.7" y1="460" x2="51.7" y2="577.3" stroke="#444" stroke-width="1.3" stroke-dasharray="0.8 1.55"/>
<line x1="50.2" y1="577.3" x2="52.7" y2="577.3" stroke="#333" stroke-width="1.1" />
<text x="46.7" y="578.4" font-family="'Liberation Sans', sans-serif" font-size="3" font-weight="bold" fill="#555" text-anchor="start"  textLength="1.7" lengthAdjust="spacingAndGlyphs">0</text>
<line x1="50.2" y1="565.57" x2="52.7" y2="565.57" stroke="#333" stroke-width="1.1" />
<text x="45" y="566.67" font-family="'Liberation Sans', sans-serif" font-size="3" font-weight="bold" fill="#555" text-anchor="start"  textLength="3.4" lengthAdjust="spacingAndGlyphs">10</text>
<line x1="50.2" y1="553.84" x2="52.7" y2="553.84" stroke="#333" stroke-width="1.1" />
<text x="45" y="554.94" font-family="'Liberation Sans', sans-serif" font-size="3" font-weight="bold" fill="#555" text-anchor="start"  textLength="3.4" lengthAdjust="spacingAndGlyphs">20</text>
<line x1="50.2" y1="542.11" x2="52.7" y2="542.11" stroke="#333" stroke-width="1.1" />
<text x="45" y="543.21" font-family="'Liberation Sans', sans-serif" font-size="3" font-weight="bold" fill="#555" text-anchor="start"  textLength="3.4" lengthAdjust="spacingAndGlyphs">30</text>
<line x1="50.2" y1="530.38" x2="52.7" y2="530.38" stroke="#333" stroke-width="1.1" />
<text x="45" y="531.48" font-family="'Liberation Sans', sans-serif" font-size="3" font-weight="bold" fill="#555" text-anchor="start"  textLength="3.4" lengthAdjust="spacingAndGlyphs">40</text>
<line x1="50.2" y1="518.65" x2="52.7" y2="518.65" stroke="#333" stroke-width="1.1" />
<text x="45" y="519.75" font-family="'Liberation Sans', sans-serif" font-size="3" font-weight="bold" fill="#555" text-anchor="start"  textLength="3.4" lengthAdjust="spacingAndGlyphs">50</text>
<line x1="50.2" y1="506.92" x2="52.7" y2="506.92" stroke="#333" stroke-width="1.1" />
<text x="45" y="508.02" font-family="'Liberation Sans', sans-serif" font-size="3" font-weight="bold" fill="#555" text-anchor="start"  textLength="3.4" lengthAdjust="spacingAndGlyphs">60</text>
<line x1="50.2" y1="495.19" x2="52.7" y2="495.19" stroke="#333" stroke-width="1.1" />
<text x="45" y="496.29" font-family="'Liberation Sans', sans-serif" font-size="3" font-weight="bold" fill="#555" text-anchor="start"  textLength="3.4" lengthAdjust="spacingAndGlyphs">70</text>
<line x1="50.2" y1="483.46" x2="52.7" y2="483.46" stroke="#333" stroke-width="1.1" />
<text x="45" y="484.56" font-family="'Liberation Sans', sans-serif" font-size="3" font-weight="bold" fill="#555" text-anchor="start"  textLength="3.4" lengthAdjust="spacingAndGlyphs">80</text>
<line x1="50.2" y1="471.73" x2="52.7" y2="471.73" stroke="#333" stroke-width="1.1" />
<text x="45" y="472.83" font-family="'Liberation Sans', sans-serif" font-size="3" font-weight="bold" fill="#555" text-anchor="start"  textLength="3.4" lengthAdjust="spacingAndGlyphs">90</text>
<line x1="50.2" y1="460" x2="52.7" y2="460" stroke="#333" stroke-width="1.1" />
<text x="43.3" y="461.1" font-family="'Liberation Sans', sans-serif" font-size="3" font-weight="bold" fill="#555" text-anchor="start"  textLength="5.1" lengthAdjust="spacingAndGlyphs">100</text>
<text x="73.7" y="581.9" font-family="'Liberation Sans', sans-serif" font-size="3" font-weight="normal" fill="#888" text-anchor="start"  textLength="8.6" lengthAdjust="spacingAndGlyphs">Library</text>
<text x="129" y="581.9" font-family="'Liberation Sans', sans-serif" font-size="3" font-weight="normal" fill="#888" text-anchor="start"  textLength="4" lengthAdjust="spacingAndGlyphs">T0</text>
<text x="97.85" y="586.6" font-family="'Liberation Sans', sans-serif" font-size="3.3" font-weight="bold" fill="#333" text-anchor="start"  textLength="13.3" lengthAdjust="spacingAndGlyphs">Replicate</text>
<line x1="78" y1="577.3" x2="78" y2="578.5" stroke="#888" stroke-width="0.6" />
<line x1="131" y1="577.3" x2="131" y2="578.5" stroke="#888" stroke-width="0.6" />
<text transform="translate(38.5,550.5) rotate(-90)" font-family="'Liberation Serif', serif" font-size="8.8" font-weight="normal" fill="#333" textLength="70.9" lengthAdjust="spacingAndGlyphs"  stroke="#333" stroke-width="0.25">Peak Area Percentage</text>
<text transform="translate(83.4,632.91) rotate(-90)" font-family="'Liberation Sans', sans-serif" font-size="14.52" font-weight="normal" fill="#000" textLength="45.24" lengthAdjust="spacingAndGlyphs"  stroke="#000" stroke-width="0.3">Library</text>
<text transform="translate(135.5,626.42) rotate(-90)" font-family="'Liberation Sans', sans-serif" font-size="14.91" font-weight="normal" fill="#000" textLength="37.02" lengthAdjust="spacingAndGlyphs"  stroke="#000" stroke-width="0.3">Saliva</text>
<line x1="191.7" y1="464.3" x2="191.7" y2="576" stroke="#444" stroke-width="1" />
<line x1="191.7" y1="576" x2="313.3" y2="576" stroke="#444" stroke-width="1" />
<line x1="190.5" y1="576" x2="192.9" y2="576" stroke="#555" stroke-width="0.8" />
<line x1="190.5" y1="571.32" x2="192.9" y2="571.32" stroke="#555" stroke-width="0.8" />
<line x1="190.5" y1="566.64" x2="192.9" y2="566.64" stroke="#555" stroke-width="0.8" />
<line x1="190.5" y1="561.96" x2="192.9" y2="561.96" stroke="#555" stroke-width="0.8" />
<line x1="190.5" y1="557.28" x2="192.9" y2="557.28" stroke="#555" stroke-width="0.8" />
<line x1="190.5" y1="552.6" x2="192.9" y2="552.6" stroke="#555" stroke-width="0.8" />
<line x1="190.5" y1="547.92" x2="192.9" y2="547.92" stroke="#555" stroke-width="0.8" />
<line x1="190.5" y1="543.24" x2="192.9" y2="543.24" stroke="#555" stroke-width="0.8" />
<line x1="190.5" y1="538.56" x2="192.9" y2="538.56" stroke="#555" stroke-width="0.8" />
<line x1="190.5" y1="533.88" x2="192.9" y2="533.88" stroke="#555" stroke-width="0.8" />
<line x1="190.5" y1="529.2" x2="192.9" y2="529.2" stroke="#555" stroke-width="0.8" />
<line x1="190.5" y1="524.52" x2="192.9" y2="524.52" stroke="#555" stroke-width="0.8" />
<line x1="190.5" y1="519.84" x2="192.9" y2="519.84" stroke="#555" stroke-width="0.8" />
<line x1="190.5" y1="515.16" x2="192.9" y2="515.16" stroke="#555" stroke-width="0.8" />
<line x1="190.5" y1="510.48" x2="192.9" y2="510.48" stroke="#555" stroke-width="0.8" />
<line x1="190.5" y1="505.8" x2="192.9" y2="505.8" stroke="#555" stroke-width="0.8" />
<line x1="190.5" y1="501.12" x2="192.9" y2="501.12" stroke="#555" stroke-width="0.8" />
<line x1="190.5" y1="496.44" x2="192.9" y2="496.44" stroke="#555" stroke-width="0.8" />
<line x1="190.5" y1="491.76" x2="192.9" y2="491.76" stroke="#555" stroke-width="0.8" />
<line x1="190.5" y1="487.08" x2="192.9" y2="487.08" stroke="#555" stroke-width="0.8" />
<line x1="190.5" y1="482.4" x2="192.9" y2="482.4" stroke="#555" stroke-width="0.8" />
<line x1="190.5" y1="477.72" x2="192.9" y2="477.72" stroke="#555" stroke-width="0.8" />
<line x1="190.5" y1="473.04" x2="192.9" y2="473.04" stroke="#555" stroke-width="0.8" />
<line x1="190.5" y1="468.36" x2="192.9" y2="468.36" stroke="#555" stroke-width="0.8" />
<line x1="188.7" y1="483.3" x2="194.7" y2="483.3" stroke="#777" stroke-width="0.8" />
<text x="176.7" y="484.8" font-family="'Liberation Sans', sans-serif" font-size="4.4" font-weight="bold" fill="#555" text-anchor="start"  textLength="7.6" lengthAdjust="spacingAndGlyphs">20</text>
<line x1="188.7" y1="506.7" x2="194.7" y2="506.7" stroke="#777" stroke-width="0.8" />
<text x="176.7" y="508.2" font-family="'Liberation Sans', sans-serif" font-size="4.4" font-weight="bold" fill="#555" text-anchor="start"  textLength="7.6" lengthAdjust="spacingAndGlyphs">15</text>
<line x1="188.7" y1="530" x2="194.7" y2="530" stroke="#777" stroke-width="0.8" />
<text x="176.7" y="531.5" font-family="'Liberation Sans', sans-serif" font-size="4.4" font-weight="bold" fill="#555" text-anchor="start"  textLength="7.6" lengthAdjust="spacingAndGlyphs">10</text>
<line x1="188.7" y1="553" x2="194.7" y2="553" stroke="#777" stroke-width="0.8" />
<text x="178.6" y="554.5" font-family="'Liberation Sans', sans-serif" font-size="4.4" font-weight="bold" fill="#555" text-anchor="start"  textLength="3.8" lengthAdjust="spacingAndGlyphs">5</text>
<line x1="188.7" y1="576" x2="194.7" y2="576" stroke="#777" stroke-width="0.8" />
<text x="178.6" y="577.5" font-family="'Liberation Sans', sans-serif" font-size="4.4" font-weight="bold" fill="#555" text-anchor="start"  textLength="3.8" lengthAdjust="spacingAndGlyphs">0</text>
<line x1="195.02" y1="576" x2="195.02" y2="577.5" stroke="#666" stroke-width="0.7" />
<line x1="201.68" y1="576" x2="201.68" y2="577.5" stroke="#666" stroke-width="0.7" />
<line x1="208.34" y1="576" x2="208.34" y2="577.5" stroke="#666" stroke-width="0.7" />
<line x1="215" y1="576" x2="215" y2="577.5" stroke="#666" stroke-width="0.7" />
<line x1="221.66" y1="576" x2="221.66" y2="577.5" stroke="#666" stroke-width="0.7" />
<line x1="228.32" y1="576" x2="228.32" y2="577.5" stroke="#666" stroke-width="0.7" />
<line x1="234.98" y1="576" x2="234.98" y2="577.5" stroke="#666" stroke-width="0.7" />
<line x1="241.64" y1="576" x2="241.64" y2="577.5" stroke="#666" stroke-width="0.7" />
<line x1="248.3" y1="576" x2="248.3" y2="577.5" stroke="#666" stroke-width="0.7" />
<line x1="254.96" y1="576" x2="254.96" y2="577.5" stroke="#666" stroke-width="0.7" />
<line x1="261.62" y1="576" x2="261.62" y2="577.5" stroke="#666" stroke-width="0.7" />
<line x1="268.28" y1="576" x2="268.28" y2="577.5" stroke="#666" stroke-width="0.7" />
<line x1="274.94" y1="576" x2="274.94" y2="577.5" stroke="#666" stroke-width="0.7" />
<line x1="281.6" y1="576" x2="281.6" y2="577.5" stroke="#666" stroke-width="0.7" />
<line x1="288.26" y1="576" x2="288.26" y2="577.5" stroke="#666" stroke-width="0.7" />
<line x1="294.92" y1="576" x2="294.92" y2="577.5" stroke="#666" stroke-width="0.7" />
<line x1="301.58" y1="576" x2="301.58" y2="577.5" stroke="#666" stroke-width="0.7" />
<line x1="308.24" y1="576" x2="308.24" y2="577.5" stroke="#666" stroke-width="0.7" />
<text x="206.6" y="582" font-family="'Liberation Sans', sans-serif" font-size="3.8" font-weight="bold" fill="#555" text-anchor="start"  textLength="16.8" lengthAdjust="spacingAndGlyphs">20.5</text>
<text x="239.9" y="582" font-family="'Liberation Sans', sans-serif" font-size="3.8" font-weight="bold" fill="#555" text-anchor="start"  textLength="16.8" lengthAdjust="spacingAndGlyphs">21.0</text>
<text x="274.9" y="582" font-family="'Liberation Sans', sans-serif" font-size="3.8" font-weight="bold" fill="#555" text-anchor="start"  textLength="16.8" lengthAdjust="spacingAndGlyphs">21.5</text>
<line x1="234.9" y1="474.3" x2="234.9" y2="576" stroke="#888" stroke-width="1.3" />
<line x1="270.9" y1="474.3" x2="270.9" y2="576" stroke="#888" stroke-width="1.3" />
<polyline points="194,575 207,575" fill="none" stroke="#9036E6" stroke-width="1.2" stroke-linejoin="round" stroke-linecap="round" />
<polyline points="272,575.5 310,575.5" fill="none" stroke="#2626FF" stroke-width="1.2" stroke-linejoin="round" stroke-linecap="round" />
<polyline points="209,576 212,574.67 215,572.02 218,568.36 221,566.6 224,568.58 227,572.25 230,574.78 233,576" fill="none" stroke="#DB7532" stroke-width="1.4" stroke-linejoin="round" stroke-linecap="round" />
<polyline points="241,576 245,560.76 249,537.9 253,525.2 257,535.36 262,558.22 267.7,576" fill="none" stroke="#DB7532" stroke-width="1.6" stroke-linejoin="round" stroke-linecap="round" />
<polyline points="243,576 247,571.81 251,555.06 256.5,541.1 261,553.32 265,567.27 268.5,576" fill="none" stroke="#B23838" stroke-width="1.6" stroke-linejoin="round" stroke-linecap="round" />
<polyline points="244,576 248,572.8 252,558.4 256.5,544 261,553.6 265,566.4 268.5,576" fill="none" stroke="#9036E6" stroke-width="1.6" stroke-linejoin="round" stroke-linecap="round" />
<polyline points="238.9,576 245,530.46 251.2,482.9 254,474.8 257,484.92 263,530.46 268.9,576" fill="none" stroke="#2626FF" stroke-width="1.8" stroke-linejoin="round" stroke-linecap="round" />
<path d="M245,472.7 L251.2,474.2 L245,475.3 Z" fill="#111"/>
<text transform="translate(169.9,545.6) rotate(-90)" font-family="'Liberation Serif', serif" font-size="9.92" fill="#222" stroke="#222" stroke-width="0.3" textLength="60.1" lengthAdjust="spacingAndGlyphs">Intensity (x10<tspan font-size="5.95" dy="-3.77">3</tspan><tspan dy="3.77">)</tspan></text>
<text x="230" y="594.12" font-family="'Liberation Serif', serif" font-size="9.44" font-weight="normal" fill="#222" text-anchor="start"  stroke="#222" stroke-width="0.3" textLength="59" lengthAdjust="spacingAndGlyphs">Retention Time</text>
<path d="M135,447.4 L135,440.7 L244.3,440.7 L244.3,447.4" fill="none" stroke="#6598D0" stroke-width="1.7" stroke-linejoin="round"/>
<text x="191.08" y="428.7" font-family="'Liberation Sans', sans-serif" font-size="17.73" font-weight="bold" fill="#000" text-anchor="start"  stroke="#000" stroke-width="0.3" textLength="67.08" lengthAdjust="spacingAndGlyphs">FAM49B</text>
<text transform="translate(372.8,566.8) rotate(-90)" font-family="'Liberation Serif', serif" font-size="17.77" font-weight="normal" fill="#000" textLength="92.53" lengthAdjust="spacingAndGlyphs"  stroke="#000" stroke-width="0.35">NLPNGDFR</text>
<rect x="424" y="461.2" width="25.3" height="2.8" fill="#A52A2A"/>
<rect x="424" y="464" width="25.3" height="5.8" fill="#8A2BE2"/>
<rect x="424" y="469.8" width="25.3" height="103.5" fill="#0000FF"/>
<rect x="475" y="461.2" width="25" height="2.6" fill="#A52A2A"/>
<rect x="475" y="463.8" width="25" height="3.7" fill="#8A2BE2"/>
<rect x="475" y="467.5" width="25" height="105.8" fill="#0000FF"/>
<line x1="411" y1="461.2" x2="411" y2="573.3" stroke="#999" stroke-width="0.7" />
<line x1="411" y1="573.3" x2="511.7" y2="573.3" stroke="#8a8a8a" stroke-width="1" />
<line x1="411" y1="461.2" x2="411" y2="573.3" stroke="#444" stroke-width="1.3" stroke-dasharray="0.8 1.44"/>
<line x1="409.5" y1="573.3" x2="412" y2="573.3" stroke="#333" stroke-width="1.1" />
<text x="406" y="574.4" font-family="'Liberation Sans', sans-serif" font-size="3" font-weight="bold" fill="#555" text-anchor="start"  textLength="1.7" lengthAdjust="spacingAndGlyphs">0</text>
<line x1="409.5" y1="562.09" x2="412" y2="562.09" stroke="#333" stroke-width="1.1" />
<text x="404.3" y="563.19" font-family="'Liberation Sans', sans-serif" font-size="3" font-weight="bold" fill="#555" text-anchor="start"  textLength="3.4" lengthAdjust="spacingAndGlyphs">10</text>
<line x1="409.5" y1="550.88" x2="412" y2="550.88" stroke="#333" stroke-width="1.1" />
<text x="404.3" y="551.98" font-family="'Liberation Sans', sans-serif" font-size="3" font-weight="bold" fill="#555" text-anchor="start"  textLength="3.4" lengthAdjust="spacingAndGlyphs">20</text>
<line x1="409.5" y1="539.67" x2="412" y2="539.67" stroke="#333" stroke-width="1.1" />
<text x="404.3" y="540.77" font-family="'Liberation Sans', sans-serif" font-size="3" font-weight="bold" fill="#555" text-anchor="start"  textLength="3.4" lengthAdjust="spacingAndGlyphs">30</text>
<line x1="409.5" y1="528.46" x2="412" y2="528.46" stroke="#333" stroke-width="1.1" />
<text x="404.3" y="529.56" font-family="'Liberation Sans', sans-serif" font-size="3" font-weight="bold" fill="#555" text-anchor="start"  textLength="3.4" lengthAdjust="spacingAndGlyphs">40</text>
<line x1="409.5" y1="517.25" x2="412" y2="517.25" stroke="#333" stroke-width="1.1" />
<text x="404.3" y="518.35" font-family="'Liberation Sans', sans-serif" font-size="3" font-weight="bold" fill="#555" text-anchor="start"  textLength="3.4" lengthAdjust="spacingAndGlyphs">50</text>
<line x1="409.5" y1="506.04" x2="412" y2="506.04" stroke="#333" stroke-width="1.1" />
<text x="404.3" y="507.14" font-family="'Liberation Sans', sans-serif" font-size="3" font-weight="bold" fill="#555" text-anchor="start"  textLength="3.4" lengthAdjust="spacingAndGlyphs">60</text>
<line x1="409.5" y1="494.83" x2="412" y2="494.83" stroke="#333" stroke-width="1.1" />
<text x="404.3" y="495.93" font-family="'Liberation Sans', sans-serif" font-size="3" font-weight="bold" fill="#555" text-anchor="start"  textLength="3.4" lengthAdjust="spacingAndGlyphs">70</text>
<line x1="409.5" y1="483.62" x2="412" y2="483.62" stroke="#333" stroke-width="1.1" />
<text x="404.3" y="484.72" font-family="'Liberation Sans', sans-serif" font-size="3" font-weight="bold" fill="#555" text-anchor="start"  textLength="3.4" lengthAdjust="spacingAndGlyphs">80</text>
<line x1="409.5" y1="472.41" x2="412" y2="472.41" stroke="#333" stroke-width="1.1" />
<text x="404.3" y="473.51" font-family="'Liberation Sans', sans-serif" font-size="3" font-weight="bold" fill="#555" text-anchor="start"  textLength="3.4" lengthAdjust="spacingAndGlyphs">90</text>
<line x1="409.5" y1="461.2" x2="412" y2="461.2" stroke="#333" stroke-width="1.1" />
<text x="402.6" y="462.3" font-family="'Liberation Sans', sans-serif" font-size="3" font-weight="bold" fill="#555" text-anchor="start"  textLength="5.1" lengthAdjust="spacingAndGlyphs">100</text>
<text x="432.35" y="577.9" font-family="'Liberation Sans', sans-serif" font-size="3" font-weight="normal" fill="#888" text-anchor="start"  textLength="8.6" lengthAdjust="spacingAndGlyphs">Library</text>
<text x="485.5" y="577.9" font-family="'Liberation Sans', sans-serif" font-size="3" font-weight="normal" fill="#888" text-anchor="start"  textLength="4" lengthAdjust="spacingAndGlyphs">T0</text>
<text x="455.55" y="582.6" font-family="'Liberation Sans', sans-serif" font-size="3.3" font-weight="bold" fill="#333" text-anchor="start"  textLength="13.3" lengthAdjust="spacingAndGlyphs">Replicate</text>
<line x1="436.65" y1="573.3" x2="436.65" y2="574.5" stroke="#888" stroke-width="0.6" />
<line x1="487.5" y1="573.3" x2="487.5" y2="574.5" stroke="#888" stroke-width="0.6" />
<text transform="translate(401.5,552.3) rotate(-90)" font-family="'Liberation Serif', serif" font-size="8.09" font-weight="normal" fill="#333" textLength="70.8" lengthAdjust="spacingAndGlyphs"  stroke="#333" stroke-width="0.25">Peak Area Percentage</text>
<text transform="translate(439.5,630.81) rotate(-90)" font-family="'Liberation Sans', sans-serif" font-size="14.52" font-weight="normal" fill="#000" textLength="45.24" lengthAdjust="spacingAndGlyphs"  stroke="#000" stroke-width="0.3">Library</text>
<text transform="translate(491.3,623.92) rotate(-90)" font-family="'Liberation Sans', sans-serif" font-size="14.91" font-weight="normal" fill="#000" textLength="37.22" lengthAdjust="spacingAndGlyphs"  stroke="#000" stroke-width="0.3">Saliva</text>
<line x1="541" y1="457.7" x2="541" y2="574" stroke="#444" stroke-width="1" />
<line x1="541" y1="574" x2="665" y2="574" stroke="#444" stroke-width="1" />
<line x1="539.8" y1="574" x2="542.2" y2="574" stroke="#555" stroke-width="0.8" />
<line x1="539.8" y1="570" x2="542.2" y2="570" stroke="#555" stroke-width="0.8" />
<line x1="539.8" y1="566" x2="542.2" y2="566" stroke="#555" stroke-width="0.8" />
<line x1="539.8" y1="562" x2="542.2" y2="562" stroke="#555" stroke-width="0.8" />
<line x1="539.8" y1="558" x2="542.2" y2="558" stroke="#555" stroke-width="0.8" />
<line x1="539.8" y1="554" x2="542.2" y2="554" stroke="#555" stroke-width="0.8" />
<line x1="539.8" y1="550" x2="542.2" y2="550" stroke="#555" stroke-width="0.8" />
<line x1="539.8" y1="546" x2="542.2" y2="546" stroke="#555" stroke-width="0.8" />
<line x1="539.8" y1="542" x2="542.2" y2="542" stroke="#555" stroke-width="0.8" />
<line x1="539.8" y1="538" x2="542.2" y2="538" stroke="#555" stroke-width="0.8" />
<line x1="539.8" y1="534" x2="542.2" y2="534" stroke="#555" stroke-width="0.8" />
<line x1="539.8" y1="530" x2="542.2" y2="530" stroke="#555" stroke-width="0.8" />
<line x1="539.8" y1="526" x2="542.2" y2="526" stroke="#555" stroke-width="0.8" />
<line x1="539.8" y1="522" x2="542.2" y2="522" stroke="#555" stroke-width="0.8" />
<line x1="539.8" y1="518" x2="542.2" y2="518" stroke="#555" stroke-width="0.8" />
<line x1="539.8" y1="514" x2="542.2" y2="514" stroke="#555" stroke-width="0.8" />
<line x1="539.8" y1="510" x2="542.2" y2="510" stroke="#555" stroke-width="0.8" />
<line x1="539.8" y1="506" x2="542.2" y2="506" stroke="#555" stroke-width="0.8" />
<line x1="539.8" y1="502" x2="542.2" y2="502" stroke="#555" stroke-width="0.8" />
<line x1="539.8" y1="498" x2="542.2" y2="498" stroke="#555" stroke-width="0.8" />
<line x1="539.8" y1="494" x2="542.2" y2="494" stroke="#555" stroke-width="0.8" />
<line x1="539.8" y1="490" x2="542.2" y2="490" stroke="#555" stroke-width="0.8" />
<line x1="539.8" y1="486" x2="542.2" y2="486" stroke="#555" stroke-width="0.8" />
<line x1="539.8" y1="482" x2="542.2" y2="482" stroke="#555" stroke-width="0.8" />
<line x1="539.8" y1="478" x2="542.2" y2="478" stroke="#555" stroke-width="0.8" />
<line x1="539.8" y1="474" x2="542.2" y2="474" stroke="#555" stroke-width="0.8" />
<line x1="539.8" y1="470" x2="542.2" y2="470" stroke="#555" stroke-width="0.8" />
<line x1="539.8" y1="466" x2="542.2" y2="466" stroke="#555" stroke-width="0.8" />
<line x1="539.8" y1="462" x2="542.2" y2="462" stroke="#555" stroke-width="0.8" />
<line x1="538" y1="473.3" x2="544" y2="473.3" stroke="#777" stroke-width="0.8" />
<text x="524.5" y="474.8" font-family="'Liberation Sans', sans-serif" font-size="4.4" font-weight="bold" fill="#555" text-anchor="start"  textLength="9" lengthAdjust="spacingAndGlyphs">50</text>
<line x1="538" y1="493.3" x2="544" y2="493.3" stroke="#777" stroke-width="0.8" />
<text x="524.5" y="494.8" font-family="'Liberation Sans', sans-serif" font-size="4.4" font-weight="bold" fill="#555" text-anchor="start"  textLength="9" lengthAdjust="spacingAndGlyphs">40</text>
<line x1="538" y1="513.3" x2="544" y2="513.3" stroke="#777" stroke-width="0.8" />
<text x="524.5" y="514.8" font-family="'Liberation Sans', sans-serif" font-size="4.4" font-weight="bold" fill="#555" text-anchor="start"  textLength="9" lengthAdjust="spacingAndGlyphs">30</text>
<line x1="538" y1="533.7" x2="544" y2="533.7" stroke="#777" stroke-width="0.8" />
<text x="524.5" y="535.2" font-family="'Liberation Sans', sans-serif" font-size="4.4" font-weight="bold" fill="#555" text-anchor="start"  textLength="9" lengthAdjust="spacingAndGlyphs">20</text>
<line x1="538" y1="554" x2="544" y2="554" stroke="#777" stroke-width="0.8" />
<text x="524.5" y="555.5" font-family="'Liberation Sans', sans-serif" font-size="4.4" font-weight="bold" fill="#555" text-anchor="start"  textLength="9" lengthAdjust="spacingAndGlyphs">10</text>
<line x1="538" y1="574" x2="544" y2="574" stroke="#777" stroke-width="0.8" />
<text x="526.75" y="575.5" font-family="'Liberation Sans', sans-serif" font-size="4.4" font-weight="bold" fill="#555" text-anchor="start"  textLength="4.5" lengthAdjust="spacingAndGlyphs">0</text>
<line x1="544.3" y1="574" x2="544.3" y2="575.5" stroke="#666" stroke-width="0.7" />
<line x1="551.44" y1="574" x2="551.44" y2="575.5" stroke="#666" stroke-width="0.7" />
<line x1="558.58" y1="574" x2="558.58" y2="575.5" stroke="#666" stroke-width="0.7" />
<line x1="565.72" y1="574" x2="565.72" y2="575.5" stroke="#666" stroke-width="0.7" />
<line x1="572.86" y1="574" x2="572.86" y2="575.5" stroke="#666" stroke-width="0.7" />
<line x1="580" y1="574" x2="580" y2="575.5" stroke="#666" stroke-width="0.7" />
<line x1="587.14" y1="574" x2="587.14" y2="575.5" stroke="#666" stroke-width="0.7" />
<line x1="594.28" y1="574" x2="594.28" y2="575.5" stroke="#666" stroke-width="0.7" />
<line x1="601.42" y1="574" x2="601.42" y2="575.5" stroke="#666" stroke-width="0.7" />
<line x1="608.56" y1="574" x2="608.56" y2="575.5" stroke="#666" stroke-width="0.7" />
<line x1="615.7" y1="574" x2="615.7" y2="575.5" stroke="#666" stroke-width="0.7" />
<line x1="622.84" y1="574" x2="622.84" y2="575.5" stroke="#666" stroke-width="0.7" />
<line x1="629.98" y1="574" x2="629.98" y2="575.5" stroke="#666" stroke-width="0.7" />
<line x1="637.12" y1="574" x2="637.12" y2="575.5" stroke="#666" stroke-width="0.7" />
<line x1="644.26" y1="574" x2="644.26" y2="575.5" stroke="#666" stroke-width="0.7" />
<line x1="651.4" y1="574" x2="651.4" y2="575.5" stroke="#666" stroke-width="0.7" />
<line x1="658.54" y1="574" x2="658.54" y2="575.5" stroke="#666" stroke-width="0.7" />
<text x="535.9" y="580" font-family="'Liberation Sans', sans-serif" font-size="3.8" font-weight="bold" fill="#555" text-anchor="start"  textLength="16.8" lengthAdjust="spacingAndGlyphs">20.5</text>
<text x="571.6" y="580" font-family="'Liberation Sans', sans-serif" font-size="3.8" font-weight="bold" fill="#555" text-anchor="start"  textLength="16.8" lengthAdjust="spacingAndGlyphs">21.0</text>
<text x="613.3" y="580" font-family="'Liberation Sans', sans-serif" font-size="3.8" font-weight="bold" fill="#555" text-anchor="start"  textLength="16.8" lengthAdjust="spacingAndGlyphs">21.5</text>
<text x="651.6" y="580" font-family="'Liberation Sans', sans-serif" font-size="3.8" font-weight="bold" fill="#555" text-anchor="start"  textLength="16.8" lengthAdjust="spacingAndGlyphs">22.0</text>
<line x1="585.1" y1="476.7" x2="585.1" y2="574" stroke="#888" stroke-width="1.3" />
<line x1="621.5" y1="476.7" x2="621.5" y2="574" stroke="#888" stroke-width="1.3" />
<polyline points="545,573.5 560,572.5 583,573.5" fill="none" stroke="#2626FF" stroke-width="1.2" stroke-linejoin="round" stroke-linecap="round" />
<polyline points="626,573.5 662,573.5" fill="none" stroke="#2626FF" stroke-width="1.2" stroke-linejoin="round" stroke-linecap="round" />
<polyline points="560,573.5 575,573" fill="none" stroke="#B23838" stroke-width="1.2" stroke-linejoin="round" stroke-linecap="round" />
<polyline points="586,574 588.5,572.62 591,571.56 593.5,570.36 596,569.44 598.5,569.2 601,569.75 603.5,570.84 606,572.02 608.5,572.96 611,574" fill="none" stroke="#9036E6" stroke-width="1.3" stroke-linejoin="round" stroke-linecap="round" />
<polyline points="586,574 588.5,573.14 591,572.48 593.5,571.73 596,571.15 598.5,571 601,571.34 603.5,572.02 606,572.76 608.5,573.35 611,574" fill="none" stroke="#B23838" stroke-width="1.3" stroke-linejoin="round" stroke-linecap="round" />
<polyline points="585.8,574 591.6,570.3 598.1,559.5 608.5,477.7 611.1,476.8 614.7,490.3 624.4,574" fill="none" stroke="#2626FF" stroke-width="1.8" stroke-linejoin="round" stroke-linecap="round" />
<path d="M602.3,474.7 L608.8,476.2 L602.3,477.3 Z" fill="#111"/>
<text transform="translate(519.9,548) rotate(-90)" font-family="'Liberation Serif', serif" font-size="9.18" fill="#222" stroke="#222" stroke-width="0.3" textLength="60.6" lengthAdjust="spacingAndGlyphs">Intensity (x10<tspan font-size="5.51" dy="-3.49">3</tspan><tspan dy="3.49">)</tspan></text>
<text x="582.3" y="591.4" font-family="'Liberation Serif', serif" font-size="9.39" font-weight="normal" fill="#222" text-anchor="start"  stroke="#222" stroke-width="0.3" textLength="58.7" lengthAdjust="spacingAndGlyphs">Retention Time</text>
<path d="M484,449.7 L484,443.3 L593.7,443.3 L593.7,449.7" fill="none" stroke="#6598D0" stroke-width="1.7" stroke-linejoin="round"/>
<text x="553.37" y="428.8" font-family="'Liberation Sans', sans-serif" font-size="18.31" font-weight="bold" fill="#000" text-anchor="start"  stroke="#000" stroke-width="0.3" textLength="30.95" lengthAdjust="spacingAndGlyphs">C1R</text>
<text transform="translate(730.4,574.7) rotate(-90)" font-family="'Liberation Serif', serif" font-size="17.92" font-weight="normal" fill="#000" textLength="131.18" lengthAdjust="spacingAndGlyphs"  stroke="#000" stroke-width="0.35">YGLVTYATYPK</text>
<rect x="784.3" y="454.3" width="25" height="18" fill="#D2691E"/>
<rect x="784.3" y="472.3" width="25" height="59.4" fill="#A52A2A"/>
<rect x="784.3" y="531.7" width="25" height="29" fill="#8A2BE2"/>
<rect x="784.3" y="560.7" width="25" height="6" fill="#0000FF"/>
<rect x="835" y="454.3" width="25" height="19" fill="#D2691E"/>
<rect x="835" y="473.3" width="25" height="59.4" fill="#A52A2A"/>
<rect x="835" y="532.7" width="25" height="29" fill="#8A2BE2"/>
<rect x="835" y="561.7" width="25" height="5" fill="#0000FF"/>
<line x1="770.7" y1="454.3" x2="770.7" y2="566.7" stroke="#999" stroke-width="0.7" />
<line x1="770.7" y1="566.7" x2="872.7" y2="566.7" stroke="#8a8a8a" stroke-width="1" />
<line x1="770.7" y1="454.3" x2="770.7" y2="566.7" stroke="#444" stroke-width="1.3" stroke-dasharray="0.8 1.45"/>
<line x1="769.2" y1="566.7" x2="771.7" y2="566.7" stroke="#333" stroke-width="1.1" />
<text x="765.7" y="567.8" font-family="'Liberation Sans', sans-serif" font-size="3" font-weight="bold" fill="#555" text-anchor="start"  textLength="1.7" lengthAdjust="spacingAndGlyphs">0</text>
<line x1="769.2" y1="555.46" x2="771.7" y2="555.46" stroke="#333" stroke-width="1.1" />
<text x="764" y="556.56" font-family="'Liberation Sans', sans-serif" font-size="3" font-weight="bold" fill="#555" text-anchor="start"  textLength="3.4" lengthAdjust="spacingAndGlyphs">10</text>
<line x1="769.2" y1="544.22" x2="771.7" y2="544.22" stroke="#333" stroke-width="1.1" />
<text x="764" y="545.32" font-family="'Liberation Sans', sans-serif" font-size="3" font-weight="bold" fill="#555" text-anchor="start"  textLength="3.4" lengthAdjust="spacingAndGlyphs">20</text>
<line x1="769.2" y1="532.98" x2="771.7" y2="532.98" stroke="#333" stroke-width="1.1" />
<text x="764" y="534.08" font-family="'Liberation Sans', sans-serif" font-size="3" font-weight="bold" fill="#555" text-anchor="start"  textLength="3.4" lengthAdjust="spacingAndGlyphs">30</text>
<line x1="769.2" y1="521.74" x2="771.7" y2="521.74" stroke="#333" stroke-width="1.1" />
<text x="764" y="522.84" font-family="'Liberation Sans', sans-serif" font-size="3" font-weight="bold" fill="#555" text-anchor="start"  textLength="3.4" lengthAdjust="spacingAndGlyphs">40</text>
<line x1="769.2" y1="510.5" x2="771.7" y2="510.5" stroke="#333" stroke-width="1.1" />
<text x="764" y="511.6" font-family="'Liberation Sans', sans-serif" font-size="3" font-weight="bold" fill="#555" text-anchor="start"  textLength="3.4" lengthAdjust="spacingAndGlyphs">50</text>
<line x1="769.2" y1="499.26" x2="771.7" y2="499.26" stroke="#333" stroke-width="1.1" />
<text x="764" y="500.36" font-family="'Liberation Sans', sans-serif" font-size="3" font-weight="bold" fill="#555" text-anchor="start"  textLength="3.4" lengthAdjust="spacingAndGlyphs">60</text>
<line x1="769.2" y1="488.02" x2="771.7" y2="488.02" stroke="#333" stroke-width="1.1" />
<text x="764" y="489.12" font-family="'Liberation Sans', sans-serif" font-size="3" font-weight="bold" fill="#555" text-anchor="start"  textLength="3.4" lengthAdjust="spacingAndGlyphs">70</text>
<line x1="769.2" y1="476.78" x2="771.7" y2="476.78" stroke="#333" stroke-width="1.1" />
<text x="764" y="477.88" font-family="'Liberation Sans', sans-serif" font-size="3" font-weight="bold" fill="#555" text-anchor="start"  textLength="3.4" lengthAdjust="spacingAndGlyphs">80</text>
<line x1="769.2" y1="465.54" x2="771.7" y2="465.54" stroke="#333" stroke-width="1.1" />
<text x="764" y="466.64" font-family="'Liberation Sans', sans-serif" font-size="3" font-weight="bold" fill="#555" text-anchor="start"  textLength="3.4" lengthAdjust="spacingAndGlyphs">90</text>
<line x1="769.2" y1="454.3" x2="771.7" y2="454.3" stroke="#333" stroke-width="1.1" />
<text x="762.3" y="455.4" font-family="'Liberation Sans', sans-serif" font-size="3" font-weight="bold" fill="#555" text-anchor="start"  textLength="5.1" lengthAdjust="spacingAndGlyphs">100</text>
<text x="792.5" y="571.3" font-family="'Liberation Sans', sans-serif" font-size="3" font-weight="normal" fill="#888" text-anchor="start"  textLength="8.6" lengthAdjust="spacingAndGlyphs">Library</text>
<text x="845.5" y="571.3" font-family="'Liberation Sans', sans-serif" font-size="3" font-weight="normal" fill="#888" text-anchor="start"  textLength="4" lengthAdjust="spacingAndGlyphs">T0</text>
<text x="815.55" y="576" font-family="'Liberation Sans', sans-serif" font-size="3.3" font-weight="bold" fill="#333" text-anchor="start"  textLength="13.3" lengthAdjust="spacingAndGlyphs">Replicate</text>
<line x1="796.8" y1="566.7" x2="796.8" y2="567.9" stroke="#888" stroke-width="0.6" />
<line x1="847.5" y1="566.7" x2="847.5" y2="567.9" stroke="#888" stroke-width="0.6" />
<text transform="translate(759.6,549) rotate(-90)" font-family="'Liberation Serif', serif" font-size="8.38" font-weight="normal" fill="#333" textLength="70.9" lengthAdjust="spacingAndGlyphs"  stroke="#333" stroke-width="0.25">Peak Area Percentage</text>
<text transform="translate(802.4,625.03) rotate(-90)" font-family="'Liberation Sans', sans-serif" font-size="14.78" font-weight="normal" fill="#000" textLength="45.65" lengthAdjust="spacingAndGlyphs"  stroke="#000" stroke-width="0.3">Library</text>
<text transform="translate(853.2,618.32) rotate(-90)" font-family="'Liberation Sans', sans-serif" font-size="14.91" font-weight="normal" fill="#000" textLength="37.22" lengthAdjust="spacingAndGlyphs"  stroke="#000" stroke-width="0.3">Saliva</text>
<line x1="905" y1="454.3" x2="905" y2="568.3" stroke="#444" stroke-width="1" />
<line x1="905" y1="568.3" x2="1033.3" y2="568.3" stroke="#444" stroke-width="1" />
<line x1="903.8" y1="568.3" x2="906.2" y2="568.3" stroke="#555" stroke-width="0.8" />
<line x1="903.8" y1="562.36" x2="906.2" y2="562.36" stroke="#555" stroke-width="0.8" />
<line x1="903.8" y1="556.42" x2="906.2" y2="556.42" stroke="#555" stroke-width="0.8" />
<line x1="903.8" y1="550.48" x2="906.2" y2="550.48" stroke="#555" stroke-width="0.8" />
<line x1="903.8" y1="544.54" x2="906.2" y2="544.54" stroke="#555" stroke-width="0.8" />
<line x1="903.8" y1="538.6" x2="906.2" y2="538.6" stroke="#555" stroke-width="0.8" />
<line x1="903.8" y1="532.66" x2="906.2" y2="532.66" stroke="#555" stroke-width="0.8" />
<line x1="903.8" y1="526.72" x2="906.2" y2="526.72" stroke="#555" stroke-width="0.8" />
<line x1="903.8" y1="520.78" x2="906.2" y2="520.78" stroke="#555" stroke-width="0.8" />
<line x1="903.8" y1="514.84" x2="906.2" y2="514.84" stroke="#555" stroke-width="0.8" />
<line x1="903.8" y1="508.9" x2="906.2" y2="508.9" stroke="#555" stroke-width="0.8" />
<line x1="903.8" y1="502.96" x2="906.2" y2="502.96" stroke="#555" stroke-width="0.8" />
<line x1="903.8" y1="497.02" x2="906.2" y2="497.02" stroke="#555" stroke-width="0.8" />
<line x1="903.8" y1="491.08" x2="906.2" y2="491.08" stroke="#555" stroke-width="0.8" />
<line x1="903.8" y1="485.14" x2="906.2" y2="485.14" stroke="#555" stroke-width="0.8" />
<line x1="903.8" y1="479.2" x2="906.2" y2="479.2" stroke="#555" stroke-width="0.8" />
<line x1="903.8" y1="473.26" x2="906.2" y2="473.26" stroke="#555" stroke-width="0.8" />
<line x1="903.8" y1="467.32" x2="906.2" y2="467.32" stroke="#555" stroke-width="0.8" />
<line x1="903.8" y1="461.38" x2="906.2" y2="461.38" stroke="#555" stroke-width="0.8" />
<line x1="903.8" y1="455.44" x2="906.2" y2="455.44" stroke="#555" stroke-width="0.8" />
<line x1="902" y1="479" x2="908" y2="479" stroke="#777" stroke-width="0.8" />
<text x="888.8" y="480.5" font-family="'Liberation Sans', sans-serif" font-size="4.4" font-weight="bold" fill="#555" text-anchor="start"  textLength="5.8" lengthAdjust="spacingAndGlyphs">15</text>
<line x1="902" y1="508.7" x2="908" y2="508.7" stroke="#777" stroke-width="0.8" />
<text x="888.8" y="510.2" font-family="'Liberation Sans', sans-serif" font-size="4.4" font-weight="bold" fill="#555" text-anchor="start"  textLength="5.8" lengthAdjust="spacingAndGlyphs">10</text>
<line x1="902" y1="538.3" x2="908" y2="538.3" stroke="#777" stroke-width="0.8" />
<text x="890.25" y="539.8" font-family="'Liberation Sans', sans-serif" font-size="4.4" font-weight="bold" fill="#555" text-anchor="start"  textLength="2.9" lengthAdjust="spacingAndGlyphs">5</text>
<line x1="902" y1="568.3" x2="908" y2="568.3" stroke="#777" stroke-width="0.8" />
<text x="890.25" y="569.8" font-family="'Liberation Sans', sans-serif" font-size="4.4" font-weight="bold" fill="#555" text-anchor="start"  textLength="2.9" lengthAdjust="spacingAndGlyphs">0</text>
<line x1="908.6" y1="568.3" x2="908.6" y2="569.8" stroke="#666" stroke-width="0.7" />
<line x1="915.9" y1="568.3" x2="915.9" y2="569.8" stroke="#666" stroke-width="0.7" />
<line x1="923.2" y1="568.3" x2="923.2" y2="569.8" stroke="#666" stroke-width="0.7" />
<line x1="930.5" y1="568.3" x2="930.5" y2="569.8" stroke="#666" stroke-width="0.7" />
<line x1="937.8" y1="568.3" x2="937.8" y2="569.8" stroke="#666" stroke-width="0.7" />
<line x1="945.1" y1="568.3" x2="945.1" y2="569.8" stroke="#666" stroke-width="0.7" />
<line x1="952.4" y1="568.3" x2="952.4" y2="569.8" stroke="#666" stroke-width="0.7" />
<line x1="959.7" y1="568.3" x2="959.7" y2="569.8" stroke="#666" stroke-width="0.7" />
<line x1="967" y1="568.3" x2="967" y2="569.8" stroke="#666" stroke-width="0.7" />
<line x1="974.3" y1="568.3" x2="974.3" y2="569.8" stroke="#666" stroke-width="0.7" />
<line x1="981.6" y1="568.3" x2="981.6" y2="569.8" stroke="#666" stroke-width="0.7" />
<line x1="988.9" y1="568.3" x2="988.9" y2="569.8" stroke="#666" stroke-width="0.7" />
<line x1="996.2" y1="568.3" x2="996.2" y2="569.8" stroke="#666" stroke-width="0.7" />
<line x1="1003.5" y1="568.3" x2="1003.5" y2="569.8" stroke="#666" stroke-width="0.7" />
<line x1="1010.8" y1="568.3" x2="1010.8" y2="569.8" stroke="#666" stroke-width="0.7" />
<line x1="1018.1" y1="568.3" x2="1018.1" y2="569.8" stroke="#666" stroke-width="0.7" />
<line x1="1025.4" y1="568.3" x2="1025.4" y2="569.8" stroke="#666" stroke-width="0.7" />
<line x1="1032.7" y1="568.3" x2="1032.7" y2="569.8" stroke="#666" stroke-width="0.7" />
<text x="922.1" y="575" font-family="'Liberation Sans', sans-serif" font-size="3.8" font-weight="bold" fill="#555" text-anchor="start"  textLength="16.8" lengthAdjust="spacingAndGlyphs">23.0</text>
<text x="958.6" y="575" font-family="'Liberation Sans', sans-serif" font-size="3.8" font-weight="bold" fill="#555" text-anchor="start"  textLength="16.8" lengthAdjust="spacingAndGlyphs">23.5</text>
<text x="990.1" y="575" font-family="'Liberation Sans', sans-serif" font-size="3.8" font-weight="bold" fill="#555" text-anchor="start"  textLength="16.8" lengthAdjust="spacingAndGlyphs">24.0</text>
<text x="1025.6" y="575" font-family="'Liberation Sans', sans-serif" font-size="3.8" font-weight="bold" fill="#555" text-anchor="start"  textLength="16.8" lengthAdjust="spacingAndGlyphs">24.5</text>
<line x1="950.5" y1="467.7" x2="950.5" y2="568.3" stroke="#888" stroke-width="1.3" />
<line x1="988.6" y1="467.7" x2="988.6" y2="568.3" stroke="#888" stroke-width="1.3" />
<polyline points="948,568.3 951.67,565.98 955.33,564.17 959,562.33 962.67,561.3 966.33,561.65 970,563.18 973.67,565.11 977.33,566.69 981,567.64 984.67,568.08 988.33,568.24 992,568.3" fill="none" stroke="#2626FF" stroke-width="1.3" stroke-linejoin="round" stroke-linecap="round" />
<polyline points="948.5,568.3 951.46,563.5 954.42,557.68 957.38,549.44 960.33,541.43 963.29,537.6 966.25,539.26 969.21,544.45 972.17,551.29 975.12,557.77 978.08,562.64 981.04,565.65 984,568.3" fill="none" stroke="#DB7532" stroke-width="1.6" stroke-linejoin="round" stroke-linecap="round" />
<polyline points="948.5,568.3 951.46,560.41 954.42,550.83 957.38,537.27 960.33,524.1 963.29,517.8 966.25,520.52 969.21,529.06 972.17,540.32 975.12,550.97 978.08,558.98 981.04,563.95 984,568.3" fill="none" stroke="#9036E6" stroke-width="1.8" stroke-linejoin="round" stroke-linecap="round" />
<polyline points="948.5,568.3 951.46,552.59 954.42,533.52 957.38,506.54 960.33,480.34 963.29,467.8 966.25,473.22 969.21,490.22 972.17,512.62 975.12,533.82 978.08,549.76 981.04,559.64 984,568.3" fill="none" stroke="#B23838" stroke-width="1.8" stroke-linejoin="round" stroke-linecap="round" />
<polyline points="912,568.3 916.86,567.68 921.71,565.91 926.57,563.5 931.43,563.3 936.29,565.6 941.14,567.54 946,568.3" fill="none" stroke="#2626FF" stroke-width="1.3" stroke-linejoin="round" stroke-linecap="round" />
<polyline points="912,568.3 916.86,567.51 921.71,566.06 926.57,565 931.43,565.78 936.29,567.3 941.14,568.09 946,568.3" fill="none" stroke="#DB7532" stroke-width="1.2" stroke-linejoin="round" stroke-linecap="round" />
<polyline points="1005,568.3 1009,566.91 1013,564.21 1017,560.6 1021,559 1025,561.1 1029,564.72 1033,568.3" fill="none" stroke="#B23838" stroke-width="1.5" stroke-linejoin="round" stroke-linecap="round" />
<polyline points="1005,568.3 1009,567.31 1013,565.3 1017,562.45 1021,561 1025,562.45 1029,565.3 1033,568.3" fill="none" stroke="#DB7532" stroke-width="1.2" stroke-linejoin="round" stroke-linecap="round" />
<path d="M955,466.4 L961.2,467.9 L955,469 Z" fill="#111"/>
<text transform="translate(882.4,543.6) rotate(-90)" font-family="'Liberation Serif', serif" font-size="9.92" fill="#222" stroke="#222" stroke-width="0.3" textLength="60.1" lengthAdjust="spacingAndGlyphs">Intensity (x10<tspan font-size="5.95" dy="-3.77">3</tspan><tspan dy="3.77">)</tspan></text>
<text x="938.3" y="588.14" font-family="'Liberation Serif', serif" font-size="9.5" font-weight="normal" fill="#222" text-anchor="start"  stroke="#222" stroke-width="0.3" textLength="59.4" lengthAdjust="spacingAndGlyphs">Retention Time</text>
<path d="M847.7,445 L847.7,438.3 L957.7,438.3 L957.7,445" fill="none" stroke="#6598D0" stroke-width="1.7" stroke-linejoin="round"/>
<text x="921.9" y="420.2" font-family="'Liberation Sans', sans-serif" font-size="17.88" font-weight="bold" fill="#000" text-anchor="start"  stroke="#000" stroke-width="0.3" textLength="30.27" lengthAdjust="spacingAndGlyphs">CFB</text>
<text transform="translate(13,789.12) rotate(-90)" font-family="'Liberation Serif', serif" font-size="17.33" font-weight="normal" fill="#000" textLength="127.54" lengthAdjust="spacingAndGlyphs"  stroke="#000" stroke-width="0.35">TPAQFDADELR</text>
<rect x="66" y="662" width="25.7" height="21.7" fill="#D2691E"/>
<rect x="66" y="683.7" width="25.7" height="25" fill="#A52A2A"/>
<rect x="66" y="708.7" width="25.7" height="45" fill="#8A2BE2"/>
<rect x="66" y="753.7" width="25.7" height="21" fill="#0000FF"/>
<rect x="116.7" y="662" width="26" height="20" fill="#D2691E"/>
<rect x="116.7" y="682" width="26" height="23.3" fill="#A52A2A"/>
<rect x="116.7" y="705.3" width="26" height="46" fill="#8A2BE2"/>
<rect x="116.7" y="751.3" width="26" height="23.4" fill="#0000FF"/>
<line x1="53.3" y1="662" x2="53.3" y2="774.7" stroke="#999" stroke-width="0.7" />
<line x1="53.3" y1="774.7" x2="154.3" y2="774.7" stroke="#8a8a8a" stroke-width="1" />
<line x1="53.3" y1="662" x2="53.3" y2="774.7" stroke="#444" stroke-width="1.3" stroke-dasharray="0.8 1.45"/>
<line x1="51.8" y1="774.7" x2="54.3" y2="774.7" stroke="#333" stroke-width="1.1" />
<text x="48.3" y="775.8" font-family="'Liberation Sans', sans-serif" font-size="3" font-weight="bold" fill="#555" text-anchor="start"  textLength="1.7" lengthAdjust="spacingAndGlyphs">0</text>
<line x1="51.8" y1="763.43" x2="54.3" y2="763.43" stroke="#333" stroke-width="1.1" />
<text x="46.6" y="764.53" font-family="'Liberation Sans', sans-serif" font-size="3" font-weight="bold" fill="#555" text-anchor="start"  textLength="3.4" lengthAdjust="spacingAndGlyphs">10</text>
<line x1="51.8" y1="752.16" x2="54.3" y2="752.16" stroke="#333" stroke-width="1.1" />
<text x="46.6" y="753.26" font-family="'Liberation Sans', sans-serif" font-size="3" font-weight="bold" fill="#555" text-anchor="start"  textLength="3.4" lengthAdjust="spacingAndGlyphs">20</text>
<line x1="51.8" y1="740.89" x2="54.3" y2="740.89" stroke="#333" stroke-width="1.1" />
<text x="46.6" y="741.99" font-family="'Liberation Sans', sans-serif" font-size="3" font-weight="bold" fill="#555" text-anchor="start"  textLength="3.4" lengthAdjust="spacingAndGlyphs">30</text>
<line x1="51.8" y1="729.62" x2="54.3" y2="729.62" stroke="#333" stroke-width="1.1" />
<text x="46.6" y="730.72" font-family="'Liberation Sans', sans-serif" font-size="3" font-weight="bold" fill="#555" text-anchor="start"  textLength="3.4" lengthAdjust="spacingAndGlyphs">40</text>
<line x1="51.8" y1="718.35" x2="54.3" y2="718.35" stroke="#333" stroke-width="1.1" />
<text x="46.6" y="719.45" font-family="'Liberation Sans', sans-serif" font-size="3" font-weight="bold" fill="#555" text-anchor="start"  textLength="3.4" lengthAdjust="spacingAndGlyphs">50</text>
<line x1="51.8" y1="707.08" x2="54.3" y2="707.08" stroke="#333" stroke-width="1.1" />
<text x="46.6" y="708.18" font-family="'Liberation Sans', sans-serif" font-size="3" font-weight="bold" fill="#555" text-anchor="start"  textLength="3.4" lengthAdjust="spacingAndGlyphs">60</text>
<line x1="51.8" y1="695.81" x2="54.3" y2="695.81" stroke="#333" stroke-width="1.1" />
<text x="46.6" y="696.91" font-family="'Liberation Sans', sans-serif" font-size="3" font-weight="bold" fill="#555" text-anchor="start"  textLength="3.4" lengthAdjust="spacingAndGlyphs">70</text>
<line x1="51.8" y1="684.54" x2="54.3" y2="684.54" stroke="#333" stroke-width="1.1" />
<text x="46.6" y="685.64" font-family="'Liberation Sans', sans-serif" font-size="3" font-weight="bold" fill="#555" text-anchor="start"  textLength="3.4" lengthAdjust="spacingAndGlyphs">80</text>
<line x1="51.8" y1="673.27" x2="54.3" y2="673.27" stroke="#333" stroke-width="1.1" />
<text x="46.6" y="674.37" font-family="'Liberation Sans', sans-serif" font-size="3" font-weight="bold" fill="#555" text-anchor="start"  textLength="3.4" lengthAdjust="spacingAndGlyphs">90</text>
<line x1="51.8" y1="662" x2="54.3" y2="662" stroke="#333" stroke-width="1.1" />
<text x="44.9" y="663.1" font-family="'Liberation Sans', sans-serif" font-size="3" font-weight="bold" fill="#555" text-anchor="start"  textLength="5.1" lengthAdjust="spacingAndGlyphs">100</text>
<text x="74.55" y="779.3" font-family="'Liberation Sans', sans-serif" font-size="3" font-weight="normal" fill="#888" text-anchor="start"  textLength="8.6" lengthAdjust="spacingAndGlyphs">Library</text>
<text x="127.7" y="779.3" font-family="'Liberation Sans', sans-serif" font-size="3" font-weight="normal" fill="#888" text-anchor="start"  textLength="4" lengthAdjust="spacingAndGlyphs">T0</text>
<text x="97.6" y="784" font-family="'Liberation Sans', sans-serif" font-size="3.3" font-weight="bold" fill="#333" text-anchor="start"  textLength="13.3" lengthAdjust="spacingAndGlyphs">Replicate</text>
<line x1="78.85" y1="774.7" x2="78.85" y2="775.9" stroke="#888" stroke-width="0.6" />
<line x1="129.7" y1="774.7" x2="129.7" y2="775.9" stroke="#888" stroke-width="0.6" />
<text transform="translate(42.3,752.1) rotate(-90)" font-family="'Liberation Serif', serif" font-size="7.95" font-weight="normal" fill="#333" textLength="70.9" lengthAdjust="spacingAndGlyphs"  stroke="#333" stroke-width="0.25">Peak Area Percentage</text>
<text transform="translate(80.5,830.91) rotate(-90)" font-family="'Liberation Sans', sans-serif" font-size="14.52" font-weight="normal" fill="#000" textLength="45.24" lengthAdjust="spacingAndGlyphs"  stroke="#000" stroke-width="0.3">Library</text>
<text transform="translate(132.3,824.01) rotate(-90)" font-family="'Liberation Sans', sans-serif" font-size="14.91" font-weight="normal" fill="#000" textLength="36.61" lengthAdjust="spacingAndGlyphs"  stroke="#000" stroke-width="0.3">Saliva</text>
<line x1="196" y1="672" x2="196" y2="773" stroke="#444" stroke-width="1" />
<line x1="196" y1="773" x2="315" y2="773" stroke="#444" stroke-width="1" />
<line x1="194.8" y1="773" x2="197.2" y2="773" stroke="#555" stroke-width="0.8" />
<line x1="194.8" y1="770" x2="197.2" y2="770" stroke="#555" stroke-width="0.8" />
<line x1="194.8" y1="767" x2="197.2" y2="767" stroke="#555" stroke-width="0.8" />
<line x1="194.8" y1="764" x2="197.2" y2="764" stroke="#555" stroke-width="0.8" />
<line x1="194.8" y1="761" x2="197.2" y2="761" stroke="#555" stroke-width="0.8" />
<line x1="194.8" y1="758" x2="197.2" y2="758" stroke="#555" stroke-width="0.8" />
<line x1="194.8" y1="755" x2="197.2" y2="755" stroke="#555" stroke-width="0.8" />
<line x1="194.8" y1="752" x2="197.2" y2="752" stroke="#555" stroke-width="0.8" />
<line x1="194.8" y1="749" x2="197.2" y2="749" stroke="#555" stroke-width="0.8" />
<line x1="194.8" y1="746" x2="197.2" y2="746" stroke="#555" stroke-width="0.8" />
<line x1="194.8" y1="743" x2="197.2" y2="743" stroke="#555" stroke-width="0.8" />
<line x1="194.8" y1="740" x2="197.2" y2="740" stroke="#555" stroke-width="0.8" />
<line x1="194.8" y1="737" x2="197.2" y2="737" stroke="#555" stroke-width="0.8" />
<line x1="194.8" y1="734" x2="197.2" y2="734" stroke="#555" stroke-width="0.8" />
<line x1="194.8" y1="731" x2="197.2" y2="731" stroke="#555" stroke-width="0.8" />
<line x1="194.8" y1="728" x2="197.2" y2="728" stroke="#555" stroke-width="0.8" />
<line x1="194.8" y1="725" x2="197.2" y2="725" stroke="#555" stroke-width="0.8" />
<line x1="194.8" y1="722" x2="197.2" y2="722" stroke="#555" stroke-width="0.8" />
<line x1="194.8" y1="719" x2="197.2" y2="719" stroke="#555" stroke-width="0.8" />
<line x1="194.8" y1="716" x2="197.2" y2="716" stroke="#555" stroke-width="0.8" />
<line x1="194.8" y1="713" x2="197.2" y2="713" stroke="#555" stroke-width="0.8" />
<line x1="194.8" y1="710" x2="197.2" y2="710" stroke="#555" stroke-width="0.8" />
<line x1="194.8" y1="707" x2="197.2" y2="707" stroke="#555" stroke-width="0.8" />
<line x1="194.8" y1="704" x2="197.2" y2="704" stroke="#555" stroke-width="0.8" />
<line x1="194.8" y1="701" x2="197.2" y2="701" stroke="#555" stroke-width="0.8" />
<line x1="194.8" y1="698" x2="197.2" y2="698" stroke="#555" stroke-width="0.8" />
<line x1="194.8" y1="695" x2="197.2" y2="695" stroke="#555" stroke-width="0.8" />
<line x1="194.8" y1="692" x2="197.2" y2="692" stroke="#555" stroke-width="0.8" />
<line x1="194.8" y1="689" x2="197.2" y2="689" stroke="#555" stroke-width="0.8" />
<line x1="194.8" y1="686" x2="197.2" y2="686" stroke="#555" stroke-width="0.8" />
<line x1="194.8" y1="683" x2="197.2" y2="683" stroke="#555" stroke-width="0.8" />
<line x1="194.8" y1="680" x2="197.2" y2="680" stroke="#555" stroke-width="0.8" />
<line x1="194.8" y1="677" x2="197.2" y2="677" stroke="#555" stroke-width="0.8" />
<line x1="194.8" y1="674" x2="197.2" y2="674" stroke="#555" stroke-width="0.8" />
<line x1="193" y1="682.7" x2="199" y2="682.7" stroke="#777" stroke-width="0.8" />
<text x="180" y="684.2" font-family="'Liberation Sans', sans-serif" font-size="4.4" font-weight="bold" fill="#555" text-anchor="start"  textLength="8" lengthAdjust="spacingAndGlyphs">30</text>
<line x1="193" y1="697.7" x2="199" y2="697.7" stroke="#777" stroke-width="0.8" />
<text x="180" y="699.2" font-family="'Liberation Sans', sans-serif" font-size="4.4" font-weight="bold" fill="#555" text-anchor="start"  textLength="8" lengthAdjust="spacingAndGlyphs">25</text>
<line x1="193" y1="712.7" x2="199" y2="712.7" stroke="#777" stroke-width="0.8" />
<text x="180" y="714.2" font-family="'Liberation Sans', sans-serif" font-size="4.4" font-weight="bold" fill="#555" text-anchor="start"  textLength="8" lengthAdjust="spacingAndGlyphs">20</text>
<line x1="193" y1="727.7" x2="199" y2="727.7" stroke="#777" stroke-width="0.8" />
<text x="180" y="729.2" font-family="'Liberation Sans', sans-serif" font-size="4.4" font-weight="bold" fill="#555" text-anchor="start"  textLength="8" lengthAdjust="spacingAndGlyphs">15</text>
<line x1="193" y1="742.7" x2="199" y2="742.7" stroke="#777" stroke-width="0.8" />
<text x="180" y="744.2" font-family="'Liberation Sans', sans-serif" font-size="4.4" font-weight="bold" fill="#555" text-anchor="start"  textLength="8" lengthAdjust="spacingAndGlyphs">10</text>
<line x1="193" y1="757.7" x2="199" y2="757.7" stroke="#777" stroke-width="0.8" />
<text x="182" y="759.2" font-family="'Liberation Sans', sans-serif" font-size="4.4" font-weight="bold" fill="#555" text-anchor="start"  textLength="4" lengthAdjust="spacingAndGlyphs">5</text>
<line x1="193" y1="773" x2="199" y2="773" stroke="#777" stroke-width="0.8" />
<text x="182" y="774.5" font-family="'Liberation Sans', sans-serif" font-size="4.4" font-weight="bold" fill="#555" text-anchor="start"  textLength="4" lengthAdjust="spacingAndGlyphs">0</text>
<line x1="199" y1="773" x2="199" y2="774.5" stroke="#666" stroke-width="0.7" />
<line x1="206.4" y1="773" x2="206.4" y2="774.5" stroke="#666" stroke-width="0.7" />
<line x1="213.8" y1="773" x2="213.8" y2="774.5" stroke="#666" stroke-width="0.7" />
<line x1="221.2" y1="773" x2="221.2" y2="774.5" stroke="#666" stroke-width="0.7" />
<line x1="228.6" y1="773" x2="228.6" y2="774.5" stroke="#666" stroke-width="0.7" />
<line x1="236" y1="773" x2="236" y2="774.5" stroke="#666" stroke-width="0.7" />
<line x1="243.4" y1="773" x2="243.4" y2="774.5" stroke="#666" stroke-width="0.7" />
<line x1="250.8" y1="773" x2="250.8" y2="774.5" stroke="#666" stroke-width="0.7" />
<line x1="258.2" y1="773" x2="258.2" y2="774.5" stroke="#666" stroke-width="0.7" />
<line x1="265.6" y1="773" x2="265.6" y2="774.5" stroke="#666" stroke-width="0.7" />
<line x1="273" y1="773" x2="273" y2="774.5" stroke="#666" stroke-width="0.7" />
<line x1="280.4" y1="773" x2="280.4" y2="774.5" stroke="#666" stroke-width="0.7" />
<line x1="287.8" y1="773" x2="287.8" y2="774.5" stroke="#666" stroke-width="0.7" />
<line x1="295.2" y1="773" x2="295.2" y2="774.5" stroke="#666" stroke-width="0.7" />
<line x1="302.6" y1="773" x2="302.6" y2="774.5" stroke="#666" stroke-width="0.7" />
<line x1="310" y1="773" x2="310" y2="774.5" stroke="#666" stroke-width="0.7" />
<text x="190.6" y="779" font-family="'Liberation Sans', sans-serif" font-size="3.8" font-weight="bold" fill="#555" text-anchor="start"  textLength="16.8" lengthAdjust="spacingAndGlyphs">20.5</text>
<text x="227.6" y="779" font-family="'Liberation Sans', sans-serif" font-size="3.8" font-weight="bold" fill="#555" text-anchor="start"  textLength="16.8" lengthAdjust="spacingAndGlyphs">21.0</text>
<text x="267.1" y="779" font-family="'Liberation Sans', sans-serif" font-size="3.8" font-weight="bold" fill="#555" text-anchor="start"  textLength="16.8" lengthAdjust="spacingAndGlyphs">21.5</text>
<line x1="238.6" y1="680.3" x2="238.6" y2="773" stroke="#888" stroke-width="1.3" />
<line x1="273.7" y1="680.3" x2="273.7" y2="773" stroke="#888" stroke-width="1.3" />
<polyline points="199,772.5 236,772.5" fill="none" stroke="#2626FF" stroke-width="1.2" stroke-linejoin="round" stroke-linecap="round" />
<polyline points="225,772.5 236,771" fill="none" stroke="#DB7532" stroke-width="1.2" stroke-linejoin="round" stroke-linecap="round" />
<polyline points="276,772.5 313,772.5" fill="none" stroke="#2626FF" stroke-width="1.2" stroke-linejoin="round" stroke-linecap="round" />
<polyline points="246.1,773 249.8,753.88 253.8,741.12 257.5,735.5 260.7,736.62 263.7,743.75 267,758 269.4,773" fill="none" stroke="#DB7532" stroke-width="1.5" stroke-linejoin="round" stroke-linecap="round" />
<polyline points="246.1,773 249.8,749.54 253.8,733.9 257.5,727 260.7,728.38 263.7,737.12 267,754.6 269.4,773" fill="none" stroke="#B23838" stroke-width="1.5" stroke-linejoin="round" stroke-linecap="round" />
<polyline points="246.1,773 249.8,748.83 253.8,732.71 257.5,725.6 260.7,727.02 263.7,736.03 267,754.04 269.4,773" fill="none" stroke="#2626FF" stroke-width="1.8" stroke-linejoin="round" stroke-linecap="round" />
<polyline points="246.1,773 249.8,725.72 253.8,694.2 257.5,680.3 260.7,683.08 263.7,700.69 267,735.92 269.4,773" fill="none" stroke="#9036E6" stroke-width="1.8" stroke-linejoin="round" stroke-linecap="round" />
<path d="M248.3,678.7 L254.5,680.2 L248.3,681.3 Z" fill="#111"/>
<text transform="translate(174.4,752.1) rotate(-90)" font-family="'Liberation Serif', serif" font-size="9.18" fill="#222" stroke="#222" stroke-width="0.3" textLength="60.2" lengthAdjust="spacingAndGlyphs">Intensity (x10<tspan font-size="5.51" dy="-3.49">3</tspan><tspan dy="3.49">)</tspan></text>
<text x="231" y="790.85" font-family="'Liberation Serif', serif" font-size="9.55" font-weight="normal" fill="#222" text-anchor="start"  stroke="#222" stroke-width="0.3" textLength="59.7" lengthAdjust="spacingAndGlyphs">Retention Time</text>
<path d="M137.3,650 L137.3,643.7 L246.7,643.7 L246.7,650" fill="none" stroke="#6598D0" stroke-width="1.7" stroke-linejoin="round"/>
<text x="202.89" y="629.3" font-family="'Liberation Sans', sans-serif" font-size="17.88" font-weight="bold" fill="#000" text-anchor="start"  stroke="#000" stroke-width="0.3" textLength="56.28" lengthAdjust="spacingAndGlyphs">ANXA1</text>
<text transform="translate(372.8,754.01) rotate(-90)" font-family="'Liberation Serif', serif" font-size="17.92" font-weight="normal" fill="#000" textLength="77.99" lengthAdjust="spacingAndGlyphs"  stroke="#000" stroke-width="0.35">LMNIFLK</text>
<rect x="424.2" y="662.7" width="25.2" height="9.9" fill="#A52A2A"/>
<rect x="424.2" y="672.6" width="25.2" height="8" fill="#8A2BE2"/>
<rect x="424.2" y="680.6" width="25.2" height="93.7" fill="#0000FF"/>
<rect x="474.9" y="662.7" width="25.2" height="11.1" fill="#A52A2A"/>
<rect x="474.9" y="673.8" width="25.2" height="7.7" fill="#8A2BE2"/>
<rect x="474.9" y="681.5" width="25.2" height="92.8" fill="#0000FF"/>
<line x1="411" y1="662.7" x2="411" y2="774.3" stroke="#999" stroke-width="0.7" />
<line x1="411" y1="774.3" x2="512.3" y2="774.3" stroke="#8a8a8a" stroke-width="1" />
<line x1="411" y1="662.7" x2="411" y2="774.3" stroke="#444" stroke-width="1.3" stroke-dasharray="0.8 1.43"/>
<line x1="409.5" y1="774.3" x2="412" y2="774.3" stroke="#333" stroke-width="1.1" />
<text x="406" y="775.4" font-family="'Liberation Sans', sans-serif" font-size="3" font-weight="bold" fill="#555" text-anchor="start"  textLength="1.7" lengthAdjust="spacingAndGlyphs">0</text>
<line x1="409.5" y1="763.14" x2="412" y2="763.14" stroke="#333" stroke-width="1.1" />
<text x="404.3" y="764.24" font-family="'Liberation Sans', sans-serif" font-size="3" font-weight="bold" fill="#555" text-anchor="start"  textLength="3.4" lengthAdjust="spacingAndGlyphs">10</text>
<line x1="409.5" y1="751.98" x2="412" y2="751.98" stroke="#333" stroke-width="1.1" />
<text x="404.3" y="753.08" font-family="'Liberation Sans', sans-serif" font-size="3" font-weight="bold" fill="#555" text-anchor="start"  textLength="3.4" lengthAdjust="spacingAndGlyphs">20</text>
<line x1="409.5" y1="740.82" x2="412" y2="740.82" stroke="#333" stroke-width="1.1" />
<text x="404.3" y="741.92" font-family="'Liberation Sans', sans-serif" font-size="3" font-weight="bold" fill="#555" text-anchor="start"  textLength="3.4" lengthAdjust="spacingAndGlyphs">30</text>
<line x1="409.5" y1="729.66" x2="412" y2="729.66" stroke="#333" stroke-width="1.1" />
<text x="404.3" y="730.76" font-family="'Liberation Sans', sans-serif" font-size="3" font-weight="bold" fill="#555" text-anchor="start"  textLength="3.4" lengthAdjust="spacingAndGlyphs">40</text>
<line x1="409.5" y1="718.5" x2="412" y2="718.5" stroke="#333" stroke-width="1.1" />
<text x="404.3" y="719.6" font-family="'Liberation Sans', sans-serif" font-size="3" font-weight="bold" fill="#555" text-anchor="start"  textLength="3.4" lengthAdjust="spacingAndGlyphs">50</text>
<line x1="409.5" y1="707.34" x2="412" y2="707.34" stroke="#333" stroke-width="1.1" />
<text x="404.3" y="708.44" font-family="'Liberation Sans', sans-serif" font-size="3" font-weight="bold" fill="#555" text-anchor="start"  textLength="3.4" lengthAdjust="spacingAndGlyphs">60</text>
<line x1="409.5" y1="696.18" x2="412" y2="696.18" stroke="#333" stroke-width="1.1" />
<text x="404.3" y="697.28" font-family="'Liberation Sans', sans-serif" font-size="3" font-weight="bold" fill="#555" text-anchor="start"  textLength="3.4" lengthAdjust="spacingAndGlyphs">70</text>
<line x1="409.5" y1="685.02" x2="412" y2="685.02" stroke="#333" stroke-width="1.1" />
<text x="404.3" y="686.12" font-family="'Liberation Sans', sans-serif" font-size="3" font-weight="bold" fill="#555" text-anchor="start"  textLength="3.4" lengthAdjust="spacingAndGlyphs">80</text>
<line x1="409.5" y1="673.86" x2="412" y2="673.86" stroke="#333" stroke-width="1.1" />
<text x="404.3" y="674.96" font-family="'Liberation Sans', sans-serif" font-size="3" font-weight="bold" fill="#555" text-anchor="start"  textLength="3.4" lengthAdjust="spacingAndGlyphs">90</text>
<line x1="409.5" y1="662.7" x2="412" y2="662.7" stroke="#333" stroke-width="1.1" />
<text x="402.6" y="663.8" font-family="'Liberation Sans', sans-serif" font-size="3" font-weight="bold" fill="#555" text-anchor="start"  textLength="5.1" lengthAdjust="spacingAndGlyphs">100</text>
<text x="432.5" y="778.9" font-family="'Liberation Sans', sans-serif" font-size="3" font-weight="normal" fill="#888" text-anchor="start"  textLength="8.6" lengthAdjust="spacingAndGlyphs">Library</text>
<text x="485.5" y="778.9" font-family="'Liberation Sans', sans-serif" font-size="3" font-weight="normal" fill="#888" text-anchor="start"  textLength="4" lengthAdjust="spacingAndGlyphs">T0</text>
<text x="455.55" y="783.6" font-family="'Liberation Sans', sans-serif" font-size="3.3" font-weight="bold" fill="#333" text-anchor="start"  textLength="13.3" lengthAdjust="spacingAndGlyphs">Replicate</text>
<line x1="436.8" y1="774.3" x2="436.8" y2="775.5" stroke="#888" stroke-width="0.6" />
<line x1="487.5" y1="774.3" x2="487.5" y2="775.5" stroke="#888" stroke-width="0.6" />
<text transform="translate(400.1,758.3) rotate(-90)" font-family="'Liberation Serif', serif" font-size="8.38" font-weight="normal" fill="#333" textLength="70.9" lengthAdjust="spacingAndGlyphs"  stroke="#333" stroke-width="0.25">Peak Area Percentage</text>
<text transform="translate(440.7,834.06) rotate(-90)" font-family="'Liberation Sans', sans-serif" font-size="14.13" font-weight="normal" fill="#000" textLength="46.99" lengthAdjust="spacingAndGlyphs"  stroke="#000" stroke-width="0.3">Library</text>
<text transform="translate(492.7,825.81) rotate(-90)" font-family="'Liberation Sans', sans-serif" font-size="14.78" font-weight="normal" fill="#000" textLength="36.31" lengthAdjust="spacingAndGlyphs"  stroke="#000" stroke-width="0.3">Saliva</text>
<line x1="543.3" y1="657" x2="543.3" y2="772" stroke="#444" stroke-width="1" />
<line x1="543.3" y1="772" x2="665" y2="772" stroke="#444" stroke-width="1" />
<line x1="542.1" y1="772" x2="544.5" y2="772" stroke="#555" stroke-width="0.8" />
<line x1="542.1" y1="769" x2="544.5" y2="769" stroke="#555" stroke-width="0.8" />
<line x1="542.1" y1="766" x2="544.5" y2="766" stroke="#555" stroke-width="0.8" />
<line x1="542.1" y1="763" x2="544.5" y2="763" stroke="#555" stroke-width="0.8" />
<line x1="542.1" y1="760" x2="544.5" y2="760" stroke="#555" stroke-width="0.8" />
<line x1="542.1" y1="757" x2="544.5" y2="757" stroke="#555" stroke-width="0.8" />
<line x1="542.1" y1="754" x2="544.5" y2="754" stroke="#555" stroke-width="0.8" />
<line x1="542.1" y1="751" x2="544.5" y2="751" stroke="#555" stroke-width="0.8" />
<line x1="542.1" y1="748" x2="544.5" y2="748" stroke="#555" stroke-width="0.8" />
<line x1="542.1" y1="745" x2="544.5" y2="745" stroke="#555" stroke-width="0.8" />
<line x1="542.1" y1="742" x2="544.5" y2="742" stroke="#555" stroke-width="0.8" />
<line x1="542.1" y1="739" x2="544.5" y2="739" stroke="#555" stroke-width="0.8" />
<line x1="542.1" y1="736" x2="544.5" y2="736" stroke="#555" stroke-width="0.8" />
<line x1="542.1" y1="733" x2="544.5" y2="733" stroke="#555" stroke-width="0.8" />
<line x1="542.1" y1="730" x2="544.5" y2="730" stroke="#555" stroke-width="0.8" />
<line x1="542.1" y1="727" x2="544.5" y2="727" stroke="#555" stroke-width="0.8" />
<line x1="542.1" y1="724" x2="544.5" y2="724" stroke="#555" stroke-width="0.8" />
<line x1="542.1" y1="721" x2="544.5" y2="721" stroke="#555" stroke-width="0.8" />
<line x1="542.1" y1="718" x2="544.5" y2="718" stroke="#555" stroke-width="0.8" />
<line x1="542.1" y1="715" x2="544.5" y2="715" stroke="#555" stroke-width="0.8" />
<line x1="542.1" y1="712" x2="544.5" y2="712" stroke="#555" stroke-width="0.8" />
<line x1="542.1" y1="709" x2="544.5" y2="709" stroke="#555" stroke-width="0.8" />
<line x1="542.1" y1="706" x2="544.5" y2="706" stroke="#555" stroke-width="0.8" />
<line x1="542.1" y1="703" x2="544.5" y2="703" stroke="#555" stroke-width="0.8" />
<line x1="542.1" y1="700" x2="544.5" y2="700" stroke="#555" stroke-width="0.8" />
<line x1="542.1" y1="697" x2="544.5" y2="697" stroke="#555" stroke-width="0.8" />
<line x1="542.1" y1="694" x2="544.5" y2="694" stroke="#555" stroke-width="0.8" />
<line x1="542.1" y1="691" x2="544.5" y2="691" stroke="#555" stroke-width="0.8" />
<line x1="542.1" y1="688" x2="544.5" y2="688" stroke="#555" stroke-width="0.8" />
<line x1="542.1" y1="685" x2="544.5" y2="685" stroke="#555" stroke-width="0.8" />
<line x1="542.1" y1="682" x2="544.5" y2="682" stroke="#555" stroke-width="0.8" />
<line x1="542.1" y1="679" x2="544.5" y2="679" stroke="#555" stroke-width="0.8" />
<line x1="542.1" y1="676" x2="544.5" y2="676" stroke="#555" stroke-width="0.8" />
<line x1="542.1" y1="673" x2="544.5" y2="673" stroke="#555" stroke-width="0.8" />
<line x1="542.1" y1="670" x2="544.5" y2="670" stroke="#555" stroke-width="0.8" />
<line x1="542.1" y1="667" x2="544.5" y2="667" stroke="#555" stroke-width="0.8" />
<line x1="542.1" y1="664" x2="544.5" y2="664" stroke="#555" stroke-width="0.8" />
<line x1="542.1" y1="661" x2="544.5" y2="661" stroke="#555" stroke-width="0.8" />
<line x1="540.3" y1="667" x2="546.3" y2="667" stroke="#777" stroke-width="0.8" />
<text x="522.05" y="668.5" font-family="'Liberation Sans', sans-serif" font-size="4.4" font-weight="bold" fill="#555" text-anchor="start"  textLength="9.9" lengthAdjust="spacingAndGlyphs">140</text>
<line x1="540.3" y1="682" x2="546.3" y2="682" stroke="#777" stroke-width="0.8" />
<text x="522.05" y="683.5" font-family="'Liberation Sans', sans-serif" font-size="4.4" font-weight="bold" fill="#555" text-anchor="start"  textLength="9.9" lengthAdjust="spacingAndGlyphs">120</text>
<line x1="540.3" y1="697" x2="546.3" y2="697" stroke="#777" stroke-width="0.8" />
<text x="522.05" y="698.5" font-family="'Liberation Sans', sans-serif" font-size="4.4" font-weight="bold" fill="#555" text-anchor="start"  textLength="9.9" lengthAdjust="spacingAndGlyphs">100</text>
<line x1="540.3" y1="712" x2="546.3" y2="712" stroke="#777" stroke-width="0.8" />
<text x="523.7" y="713.5" font-family="'Liberation Sans', sans-serif" font-size="4.4" font-weight="bold" fill="#555" text-anchor="start"  textLength="6.6" lengthAdjust="spacingAndGlyphs">80</text>
<line x1="540.3" y1="727" x2="546.3" y2="727" stroke="#777" stroke-width="0.8" />
<text x="523.7" y="728.5" font-family="'Liberation Sans', sans-serif" font-size="4.4" font-weight="bold" fill="#555" text-anchor="start"  textLength="6.6" lengthAdjust="spacingAndGlyphs">60</text>
<line x1="540.3" y1="742" x2="546.3" y2="742" stroke="#777" stroke-width="0.8" />
<text x="523.7" y="743.5" font-family="'Liberation Sans', sans-serif" font-size="4.4" font-weight="bold" fill="#555" text-anchor="start"  textLength="6.6" lengthAdjust="spacingAndGlyphs">40</text>
<line x1="540.3" y1="757" x2="546.3" y2="757" stroke="#777" stroke-width="0.8" />
<text x="523.7" y="758.5" font-family="'Liberation Sans', sans-serif" font-size="4.4" font-weight="bold" fill="#555" text-anchor="start"  textLength="6.6" lengthAdjust="spacingAndGlyphs">20</text>
<line x1="540.3" y1="772" x2="546.3" y2="772" stroke="#777" stroke-width="0.8" />
<text x="525.35" y="773.5" font-family="'Liberation Sans', sans-serif" font-size="4.4" font-weight="bold" fill="#555" text-anchor="start"  textLength="3.3" lengthAdjust="spacingAndGlyphs">0</text>
<line x1="547.52" y1="772" x2="547.52" y2="773.5" stroke="#666" stroke-width="0.7" />
<line x1="553.48" y1="772" x2="553.48" y2="773.5" stroke="#666" stroke-width="0.7" />
<line x1="559.44" y1="772" x2="559.44" y2="773.5" stroke="#666" stroke-width="0.7" />
<line x1="565.4" y1="772" x2="565.4" y2="773.5" stroke="#666" stroke-width="0.7" />
<line x1="571.36" y1="772" x2="571.36" y2="773.5" stroke="#666" stroke-width="0.7" />
<line x1="577.32" y1="772" x2="577.32" y2="773.5" stroke="#666" stroke-width="0.7" />
<line x1="583.28" y1="772" x2="583.28" y2="773.5" stroke="#666" stroke-width="0.7" />
<line x1="589.24" y1="772" x2="589.24" y2="773.5" stroke="#666" stroke-width="0.7" />
<line x1="595.2" y1="772" x2="595.2" y2="773.5" stroke="#666" stroke-width="0.7" />
<line x1="601.16" y1="772" x2="601.16" y2="773.5" stroke="#666" stroke-width="0.7" />
<line x1="607.12" y1="772" x2="607.12" y2="773.5" stroke="#666" stroke-width="0.7" />
<line x1="613.08" y1="772" x2="613.08" y2="773.5" stroke="#666" stroke-width="0.7" />
<line x1="619.04" y1="772" x2="619.04" y2="773.5" stroke="#666" stroke-width="0.7" />
<line x1="625" y1="772" x2="625" y2="773.5" stroke="#666" stroke-width="0.7" />
<line x1="630.96" y1="772" x2="630.96" y2="773.5" stroke="#666" stroke-width="0.7" />
<line x1="636.92" y1="772" x2="636.92" y2="773.5" stroke="#666" stroke-width="0.7" />
<line x1="642.88" y1="772" x2="642.88" y2="773.5" stroke="#666" stroke-width="0.7" />
<line x1="648.84" y1="772" x2="648.84" y2="773.5" stroke="#666" stroke-width="0.7" />
<line x1="654.8" y1="772" x2="654.8" y2="773.5" stroke="#666" stroke-width="0.7" />
<line x1="660.76" y1="772" x2="660.76" y2="773.5" stroke="#666" stroke-width="0.7" />
<text x="557" y="778.3" font-family="'Liberation Sans', sans-serif" font-size="3.8" font-weight="bold" fill="#555" text-anchor="start"  textLength="16.8" lengthAdjust="spacingAndGlyphs">27.0</text>
<text x="586.8" y="778.3" font-family="'Liberation Sans', sans-serif" font-size="3.8" font-weight="bold" fill="#555" text-anchor="start"  textLength="16.8" lengthAdjust="spacingAndGlyphs">27.2</text>
<text x="615.6" y="778.3" font-family="'Liberation Sans', sans-serif" font-size="3.8" font-weight="bold" fill="#555" text-anchor="start"  textLength="16.8" lengthAdjust="spacingAndGlyphs">27.4</text>
<text x="646.3" y="778.3" font-family="'Liberation Sans', sans-serif" font-size="3.8" font-weight="bold" fill="#555" text-anchor="start"  textLength="16.8" lengthAdjust="spacingAndGlyphs">27.6</text>
<line x1="575.1" y1="673.7" x2="575.1" y2="772" stroke="#888" stroke-width="1.3" />
<line x1="629.2" y1="673.7" x2="629.2" y2="772" stroke="#888" stroke-width="1.3" />
<polyline points="545,771 560,771.5 572,772" fill="none" stroke="#B23838" stroke-width="1.2" stroke-linejoin="round" stroke-linecap="round" />
<polyline points="632,771.5 663,771.5" fill="none" stroke="#2626FF" stroke-width="1.2" stroke-linejoin="round" stroke-linecap="round" />
<polyline points="580.2,772 584.06,768.42 587.93,766.12 591.79,763.48 595.65,761.07 599.52,759.62 603.38,759.6 607.25,761.02 611.11,763.41 614.97,766.06 618.84,768.37 622.7,772" fill="none" stroke="#B23838" stroke-width="1.3" stroke-linejoin="round" stroke-linecap="round" />
<polyline points="580.2,772 584.06,769.57 587.93,768.02 591.79,766.23 595.65,764.6 599.52,763.61 603.38,763.6 607.25,764.56 611.11,766.18 614.97,767.97 618.84,769.54 622.7,772" fill="none" stroke="#9036E6" stroke-width="1.3" stroke-linejoin="round" stroke-linecap="round" />
<polyline points="580.2,772 586.3,727.76 592.4,690.41 599.3,673.7 605.4,674.68 611.5,694.34 616.8,730.71 622.7,772" fill="none" stroke="#2626FF" stroke-width="1.8" stroke-linejoin="round" stroke-linecap="round" />
<path d="M589.3,671.7 L597.2,673.2 L589.3,674.3 Z" fill="#111"/>
<text transform="translate(517.9,744.6) rotate(-90)" font-family="'Liberation Serif', serif" font-size="9.18" fill="#222" stroke="#222" stroke-width="0.3" textLength="59.6" lengthAdjust="spacingAndGlyphs">Intensity (x10<tspan font-size="5.51" dy="-3.49">3</tspan><tspan dy="3.49">)</tspan></text>
<text x="579" y="790.83" font-family="'Liberation Serif', serif" font-size="9.49" font-weight="normal" fill="#222" text-anchor="start"  stroke="#222" stroke-width="0.3" textLength="59.3" lengthAdjust="spacingAndGlyphs">Retention Time</text>
<path d="M484.3,650 L484.3,643.7 L595,643.7 L595,650" fill="none" stroke="#6598D0" stroke-width="1.7" stroke-linejoin="round"/>
<text x="562.95" y="631.6" font-family="'Liberation Sans', sans-serif" font-size="19.04" font-weight="bold" fill="#000" text-anchor="start"  stroke="#000" stroke-width="0.3" textLength="20.22" lengthAdjust="spacingAndGlyphs">C3</text>
<text transform="translate(732.2,778.03) rotate(-90)" font-family="'Liberation Serif', serif" font-size="17.62" font-weight="normal" fill="#000" textLength="137.96" lengthAdjust="spacingAndGlyphs"  stroke="#000" stroke-width="0.35">CLDPVDTPNPTR</text>
<rect x="784.3" y="657" width="25" height="26" fill="#D2691E"/>
<rect x="784.3" y="683" width="25" height="17.3" fill="#A52A2A"/>
<rect x="784.3" y="700.3" width="25" height="55" fill="#8A2BE2"/>
<rect x="784.3" y="755.3" width="25" height="17.4" fill="#0000FF"/>
<rect x="835" y="657" width="25" height="24" fill="#D2691E"/>
<rect x="835" y="681" width="25" height="15.3" fill="#A52A2A"/>
<rect x="835" y="696.3" width="25" height="56.7" fill="#8A2BE2"/>
<rect x="835" y="753" width="25" height="19.7" fill="#0000FF"/>
<line x1="771" y1="657" x2="771" y2="772.7" stroke="#999" stroke-width="0.7" />
<line x1="771" y1="772.7" x2="872.7" y2="772.7" stroke="#8a8a8a" stroke-width="1" />
<line x1="771" y1="657" x2="771" y2="772.7" stroke="#444" stroke-width="1.3" stroke-dasharray="0.8 1.51"/>
<line x1="769.5" y1="772.7" x2="772" y2="772.7" stroke="#333" stroke-width="1.1" />
<text x="766" y="773.8" font-family="'Liberation Sans', sans-serif" font-size="3" font-weight="bold" fill="#555" text-anchor="start"  textLength="1.7" lengthAdjust="spacingAndGlyphs">0</text>
<line x1="769.5" y1="761.13" x2="772" y2="761.13" stroke="#333" stroke-width="1.1" />
<text x="764.3" y="762.23" font-family="'Liberation Sans', sans-serif" font-size="3" font-weight="bold" fill="#555" text-anchor="start"  textLength="3.4" lengthAdjust="spacingAndGlyphs">10</text>
<line x1="769.5" y1="749.56" x2="772" y2="749.56" stroke="#333" stroke-width="1.1" />
<text x="764.3" y="750.66" font-family="'Liberation Sans', sans-serif" font-size="3" font-weight="bold" fill="#555" text-anchor="start"  textLength="3.4" lengthAdjust="spacingAndGlyphs">20</text>
<line x1="769.5" y1="737.99" x2="772" y2="737.99" stroke="#333" stroke-width="1.1" />
<text x="764.3" y="739.09" font-family="'Liberation Sans', sans-serif" font-size="3" font-weight="bold" fill="#555" text-anchor="start"  textLength="3.4" lengthAdjust="spacingAndGlyphs">30</text>
<line x1="769.5" y1="726.42" x2="772" y2="726.42" stroke="#333" stroke-width="1.1" />
<text x="764.3" y="727.52" font-family="'Liberation Sans', sans-serif" font-size="3" font-weight="bold" fill="#555" text-anchor="start"  textLength="3.4" lengthAdjust="spacingAndGlyphs">40</text>
<line x1="769.5" y1="714.85" x2="772" y2="714.85" stroke="#333" stroke-width="1.1" />
<text x="764.3" y="715.95" font-family="'Liberation Sans', sans-serif" font-size="3" font-weight="bold" fill="#555" text-anchor="start"  textLength="3.4" lengthAdjust="spacingAndGlyphs">50</text>
<line x1="769.5" y1="703.28" x2="772" y2="703.28" stroke="#333" stroke-width="1.1" />
<text x="764.3" y="704.38" font-family="'Liberation Sans', sans-serif" font-size="3" font-weight="bold" fill="#555" text-anchor="start"  textLength="3.4" lengthAdjust="spacingAndGlyphs">60</text>
<line x1="769.5" y1="691.71" x2="772" y2="691.71" stroke="#333" stroke-width="1.1" />
<text x="764.3" y="692.81" font-family="'Liberation Sans', sans-serif" font-size="3" font-weight="bold" fill="#555" text-anchor="start"  textLength="3.4" lengthAdjust="spacingAndGlyphs">70</text>
<line x1="769.5" y1="680.14" x2="772" y2="680.14" stroke="#333" stroke-width="1.1" />
<text x="764.3" y="681.24" font-family="'Liberation Sans', sans-serif" font-size="3" font-weight="bold" fill="#555" text-anchor="start"  textLength="3.4" lengthAdjust="spacingAndGlyphs">80</text>
<line x1="769.5" y1="668.57" x2="772" y2="668.57" stroke="#333" stroke-width="1.1" />
<text x="764.3" y="669.67" font-family="'Liberation Sans', sans-serif" font-size="3" font-weight="bold" fill="#555" text-anchor="start"  textLength="3.4" lengthAdjust="spacingAndGlyphs">90</text>
<line x1="769.5" y1="657" x2="772" y2="657" stroke="#333" stroke-width="1.1" />
<text x="762.6" y="658.1" font-family="'Liberation Sans', sans-serif" font-size="3" font-weight="bold" fill="#555" text-anchor="start"  textLength="5.1" lengthAdjust="spacingAndGlyphs">100</text>
<text x="792.5" y="777.3" font-family="'Liberation Sans', sans-serif" font-size="3" font-weight="normal" fill="#888" text-anchor="start"  textLength="8.6" lengthAdjust="spacingAndGlyphs">Library</text>
<text x="845.5" y="777.3" font-family="'Liberation Sans', sans-serif" font-size="3" font-weight="normal" fill="#888" text-anchor="start"  textLength="4" lengthAdjust="spacingAndGlyphs">T0</text>
<text x="815.55" y="782" font-family="'Liberation Sans', sans-serif" font-size="3.3" font-weight="bold" fill="#333" text-anchor="start"  textLength="13.3" lengthAdjust="spacingAndGlyphs">Replicate</text>
<line x1="796.8" y1="772.7" x2="796.8" y2="773.9" stroke="#888" stroke-width="0.6" />
<line x1="847.5" y1="772.7" x2="847.5" y2="773.9" stroke="#888" stroke-width="0.6" />
<text transform="translate(761.2,752.6) rotate(-90)" font-family="'Liberation Serif', serif" font-size="8.38" font-weight="normal" fill="#333" textLength="70.6" lengthAdjust="spacingAndGlyphs"  stroke="#333" stroke-width="0.25">Peak Area Percentage</text>
<text transform="translate(802.4,831.51) rotate(-90)" font-family="'Liberation Sans', sans-serif" font-size="14.78" font-weight="normal" fill="#000" textLength="45.24" lengthAdjust="spacingAndGlyphs"  stroke="#000" stroke-width="0.3">Library</text>
<text transform="translate(853.9,824.81) rotate(-90)" font-family="'Liberation Sans', sans-serif" font-size="14.65" font-weight="normal" fill="#000" textLength="36.51" lengthAdjust="spacingAndGlyphs"  stroke="#000" stroke-width="0.3">Saliva</text>
<line x1="911" y1="654.7" x2="911" y2="772.7" stroke="#444" stroke-width="1" />
<line x1="911" y1="772.7" x2="1048.3" y2="772.7" stroke="#444" stroke-width="1" />
<line x1="909.8" y1="772.7" x2="912.2" y2="772.7" stroke="#555" stroke-width="0.8" />
<line x1="909.8" y1="767.7" x2="912.2" y2="767.7" stroke="#555" stroke-width="0.8" />
<line x1="909.8" y1="762.7" x2="912.2" y2="762.7" stroke="#555" stroke-width="0.8" />
<line x1="909.8" y1="757.7" x2="912.2" y2="757.7" stroke="#555" stroke-width="0.8" />
<line x1="909.8" y1="752.7" x2="912.2" y2="752.7" stroke="#555" stroke-width="0.8" />
<line x1="909.8" y1="747.7" x2="912.2" y2="747.7" stroke="#555" stroke-width="0.8" />
<line x1="909.8" y1="742.7" x2="912.2" y2="742.7" stroke="#555" stroke-width="0.8" />
<line x1="909.8" y1="737.7" x2="912.2" y2="737.7" stroke="#555" stroke-width="0.8" />
<line x1="909.8" y1="732.7" x2="912.2" y2="732.7" stroke="#555" stroke-width="0.8" />
<line x1="909.8" y1="727.7" x2="912.2" y2="727.7" stroke="#555" stroke-width="0.8" />
<line x1="909.8" y1="722.7" x2="912.2" y2="722.7" stroke="#555" stroke-width="0.8" />
<line x1="909.8" y1="717.7" x2="912.2" y2="717.7" stroke="#555" stroke-width="0.8" />
<line x1="909.8" y1="712.7" x2="912.2" y2="712.7" stroke="#555" stroke-width="0.8" />
<line x1="909.8" y1="707.7" x2="912.2" y2="707.7" stroke="#555" stroke-width="0.8" />
<line x1="909.8" y1="702.7" x2="912.2" y2="702.7" stroke="#555" stroke-width="0.8" />
<line x1="909.8" y1="697.7" x2="912.2" y2="697.7" stroke="#555" stroke-width="0.8" />
<line x1="909.8" y1="692.7" x2="912.2" y2="692.7" stroke="#555" stroke-width="0.8" />
<line x1="909.8" y1="687.7" x2="912.2" y2="687.7" stroke="#555" stroke-width="0.8" />
<line x1="909.8" y1="682.7" x2="912.2" y2="682.7" stroke="#555" stroke-width="0.8" />
<line x1="909.8" y1="677.7" x2="912.2" y2="677.7" stroke="#555" stroke-width="0.8" />
<line x1="909.8" y1="672.7" x2="912.2" y2="672.7" stroke="#555" stroke-width="0.8" />
<line x1="909.8" y1="667.7" x2="912.2" y2="667.7" stroke="#555" stroke-width="0.8" />
<line x1="909.8" y1="662.7" x2="912.2" y2="662.7" stroke="#555" stroke-width="0.8" />
<line x1="909.8" y1="657.7" x2="912.2" y2="657.7" stroke="#555" stroke-width="0.8" />
<line x1="908" y1="673" x2="914" y2="673" stroke="#777" stroke-width="0.8" />
<text x="892.8" y="674.5" font-family="'Liberation Sans', sans-serif" font-size="4.4" font-weight="bold" fill="#555" text-anchor="start"  textLength="6" lengthAdjust="spacingAndGlyphs">40</text>
<line x1="908" y1="698" x2="914" y2="698" stroke="#777" stroke-width="0.8" />
<text x="892.8" y="699.5" font-family="'Liberation Sans', sans-serif" font-size="4.4" font-weight="bold" fill="#555" text-anchor="start"  textLength="6" lengthAdjust="spacingAndGlyphs">30</text>
<line x1="908" y1="723" x2="914" y2="723" stroke="#777" stroke-width="0.8" />
<text x="892.8" y="724.5" font-family="'Liberation Sans', sans-serif" font-size="4.4" font-weight="bold" fill="#555" text-anchor="start"  textLength="6" lengthAdjust="spacingAndGlyphs">20</text>
<line x1="908" y1="748" x2="914" y2="748" stroke="#777" stroke-width="0.8" />
<text x="892.8" y="749.5" font-family="'Liberation Sans', sans-serif" font-size="4.4" font-weight="bold" fill="#555" text-anchor="start"  textLength="6" lengthAdjust="spacingAndGlyphs">10</text>
<line x1="908" y1="772.7" x2="914" y2="772.7" stroke="#777" stroke-width="0.8" />
<text x="894.3" y="774.2" font-family="'Liberation Sans', sans-serif" font-size="4.4" font-weight="bold" fill="#555" text-anchor="start"  textLength="3" lengthAdjust="spacingAndGlyphs">0</text>
<line x1="912.6" y1="772.7" x2="912.6" y2="774.2" stroke="#666" stroke-width="0.7" />
<line x1="922" y1="772.7" x2="922" y2="774.2" stroke="#666" stroke-width="0.7" />
<line x1="931.4" y1="772.7" x2="931.4" y2="774.2" stroke="#666" stroke-width="0.7" />
<line x1="940.8" y1="772.7" x2="940.8" y2="774.2" stroke="#666" stroke-width="0.7" />
<line x1="950.2" y1="772.7" x2="950.2" y2="774.2" stroke="#666" stroke-width="0.7" />
<line x1="959.6" y1="772.7" x2="959.6" y2="774.2" stroke="#666" stroke-width="0.7" />
<line x1="969" y1="772.7" x2="969" y2="774.2" stroke="#666" stroke-width="0.7" />
<line x1="978.4" y1="772.7" x2="978.4" y2="774.2" stroke="#666" stroke-width="0.7" />
<line x1="987.8" y1="772.7" x2="987.8" y2="774.2" stroke="#666" stroke-width="0.7" />
<line x1="997.2" y1="772.7" x2="997.2" y2="774.2" stroke="#666" stroke-width="0.7" />
<line x1="1006.6" y1="772.7" x2="1006.6" y2="774.2" stroke="#666" stroke-width="0.7" />
<line x1="1016" y1="772.7" x2="1016" y2="774.2" stroke="#666" stroke-width="0.7" />
<line x1="1025.4" y1="772.7" x2="1025.4" y2="774.2" stroke="#666" stroke-width="0.7" />
<line x1="1034.8" y1="772.7" x2="1034.8" y2="774.2" stroke="#666" stroke-width="0.7" />
<line x1="1044.2" y1="772.7" x2="1044.2" y2="774.2" stroke="#666" stroke-width="0.7" />
<text x="913.6" y="779" font-family="'Liberation Sans', sans-serif" font-size="3.8" font-weight="bold" fill="#555" text-anchor="start"  textLength="16.8" lengthAdjust="spacingAndGlyphs">18.5</text>
<text x="960.6" y="779" font-family="'Liberation Sans', sans-serif" font-size="3.8" font-weight="bold" fill="#555" text-anchor="start"  textLength="16.8" lengthAdjust="spacingAndGlyphs">19.0</text>
<text x="1005.6" y="779" font-family="'Liberation Sans', sans-serif" font-size="3.8" font-weight="bold" fill="#555" text-anchor="start"  textLength="16.8" lengthAdjust="spacingAndGlyphs">19.5</text>
<line x1="959.8" y1="670.3" x2="959.8" y2="772.7" stroke="#888" stroke-width="1.3" />
<line x1="1000.5" y1="670.3" x2="1000.5" y2="772.7" stroke="#888" stroke-width="1.3" />
<polyline points="914,772 958,772" fill="none" stroke="#9036E6" stroke-width="1.2" stroke-linejoin="round" stroke-linecap="round" />
<polyline points="1002,772 1045,772" fill="none" stroke="#9036E6" stroke-width="1.2" stroke-linejoin="round" stroke-linecap="round" />
<polyline points="960.1,772.7 965.2,759.11 970.2,745.52 974.2,742.5 978.1,744.61 981.7,751.26 985.3,762.13 989,772.7" fill="none" stroke="#B23838" stroke-width="1.5" stroke-linejoin="round" stroke-linecap="round" />
<polyline points="960.1,772.7 965.2,753.8 970.2,734.9 974.2,730.7 978.1,733.64 981.7,742.88 985.3,758 989,772.7" fill="none" stroke="#DB7532" stroke-width="1.6" stroke-linejoin="round" stroke-linecap="round" />
<polyline points="960.1,772.7 965.2,755.74 970.2,738.77 974.2,735 978.1,737.64 981.7,745.93 985.3,759.5 989,772.7" fill="none" stroke="#2626FF" stroke-width="1.8" stroke-linejoin="round" stroke-linecap="round" />
<polyline points="960.1,772.7 965.2,726.66 970.2,680.63 974.2,670.4 978.1,677.56 981.7,700.07 985.3,736.89 989,772.7" fill="none" stroke="#9036E6" stroke-width="1.8" stroke-linejoin="round" stroke-linecap="round" />
<polyline points="989,772.6 993,767.5 996.9,772.3" fill="none" stroke="#9036E6" stroke-width="1.4" stroke-linejoin="round" stroke-linecap="round" />
<polyline points="989,772.6 993,770.3 997,772.6" fill="none" stroke="#DB7532" stroke-width="1.2" stroke-linejoin="round" stroke-linecap="round" />
<path d="M964.3,668.7 L970.5,670.2 L964.3,671.3 Z" fill="#111"/>
<text transform="translate(883.9,747.1) rotate(-90)" font-family="'Liberation Serif', serif" font-size="9.92" fill="#222" stroke="#222" stroke-width="0.3" textLength="60.2" lengthAdjust="spacingAndGlyphs">Intensity (x10<tspan font-size="5.95" dy="-3.77">3</tspan><tspan dy="3.77">)</tspan></text>
<text x="946.7" y="791.83" font-family="'Liberation Serif', serif" font-size="9.49" font-weight="normal" fill="#222" text-anchor="start"  stroke="#222" stroke-width="0.3" textLength="59.3" lengthAdjust="spacingAndGlyphs">Retention Time</text>
<path d="M847.7,645.4 L847.7,638.7 L957.7,638.7 L957.7,645.4" fill="none" stroke="#6598D0" stroke-width="1.7" stroke-linejoin="round"/>
<text x="926.37" y="624.5" font-family="'Liberation Sans', sans-serif" font-size="18.02" font-weight="bold" fill="#000" text-anchor="start"  stroke="#000" stroke-width="0.3" textLength="33.34" lengthAdjust="spacingAndGlyphs">SLPI</text>
<rect x="733.9" y="765.1" width="1.9" height="12.7" fill="#000"/>
<line x1="757.2" y1="290.4" x2="757.2" y2="320.7" stroke="#bbb" stroke-width="0.9" />
<line x1="942.7" y1="562.5" x2="942.7" y2="568.3" stroke="#999" stroke-width="0.8" />
<line x1="991.7" y1="559.5" x2="991.7" y2="568.3" stroke="#999" stroke-width="0.8" />
</svg>
</body></html>
